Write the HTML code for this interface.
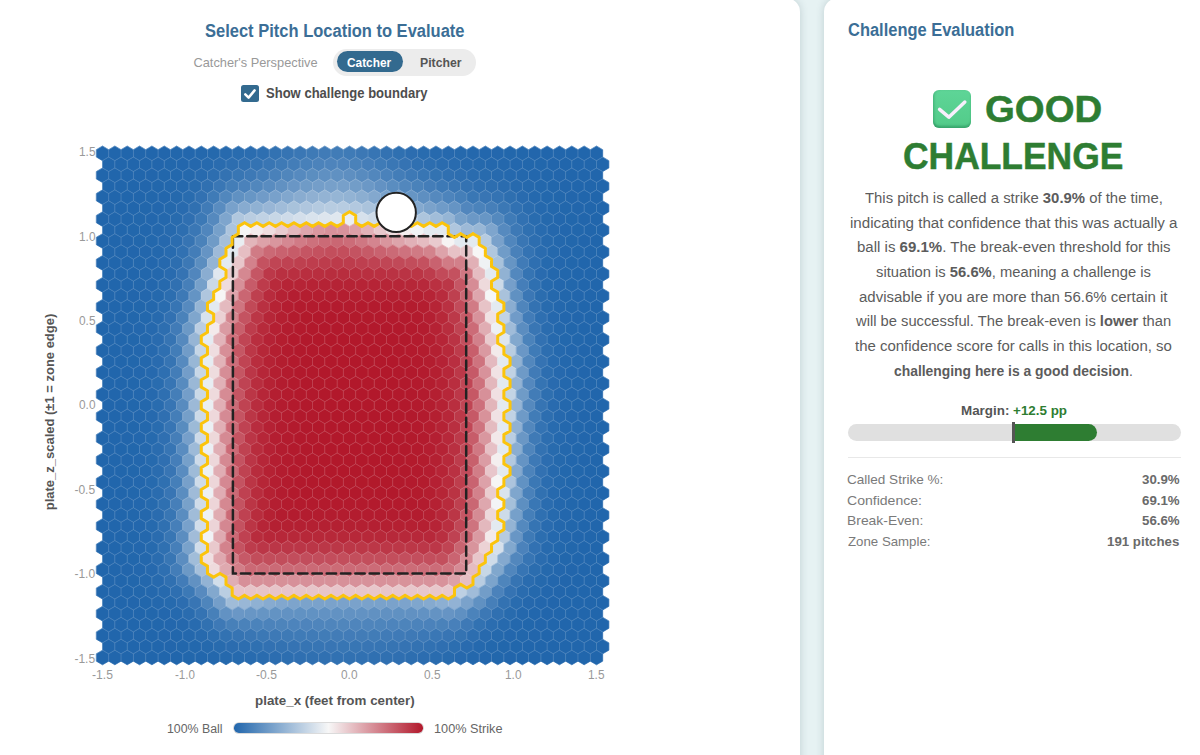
<!DOCTYPE html>
<html><head><meta charset="utf-8">
<style>
html,body{margin:0;padding:0;width:1200px;height:755px;overflow:hidden;background:#e6f2f3;font-family:"Liberation Sans",sans-serif;}
.card{position:absolute;background:#fff;border-radius:14px;box-shadow:0 0 8px rgba(40,70,80,0.2);}
.t{position:absolute;white-space:nowrap;line-height:1;transform-origin:0 0;}
.t b{font-weight:700}
#good,#chal{-webkit-text-stroke:0.5px #2e7d32}
</style></head><body>
<div class="card" style="left:-20px;top:-2.5px;width:820px;height:800px"></div>
<div class="card" style="left:824px;top:-2.5px;width:400px;height:800px"></div>
<svg width="800" height="755" style="position:absolute;left:0;top:0">
<defs><path id="h" d="M0,-7.307L6.175,-3.653L6.175,3.653L0,7.307L-6.175,3.653L-6.175,-3.653Z" fill="currentColor" stroke="currentColor" stroke-width="0.7"/><path id="g" d="M-6.175,3.653V-3.653L0,-7.307L6.175,-3.653" fill="none"/></defs>
<g><use href="#h" x="102.50" y="153.32" color="#2166ac"/><use href="#h" x="114.85" y="153.32" color="#2166ac"/><use href="#h" x="127.20" y="153.32" color="#2166ac"/><use href="#h" x="139.55" y="153.32" color="#2166ac"/><use href="#h" x="151.90" y="153.32" color="#2166ac"/><use href="#h" x="164.25" y="153.32" color="#2266ac"/><use href="#h" x="176.60" y="153.32" color="#2267ac"/><use href="#h" x="188.95" y="153.32" color="#2367ad"/><use href="#h" x="201.30" y="153.32" color="#2468ad"/><use href="#h" x="213.65" y="153.32" color="#2569ad"/><use href="#h" x="226.00" y="153.32" color="#276aae"/><use href="#h" x="238.35" y="153.32" color="#296caf"/><use href="#h" x="250.70" y="153.32" color="#2b6db0"/><use href="#h" x="263.05" y="153.32" color="#2e6fb1"/><use href="#h" x="275.40" y="153.32" color="#3272b2"/><use href="#h" x="287.75" y="153.32" color="#3674b3"/><use href="#h" x="300.10" y="153.32" color="#3a77b5"/><use href="#h" x="312.45" y="153.32" color="#3e7ab6"/><use href="#h" x="324.80" y="153.32" color="#407bb7"/><use href="#h" x="337.15" y="153.32" color="#417cb7"/><use href="#h" x="349.50" y="153.32" color="#3f7bb7"/><use href="#h" x="361.85" y="153.32" color="#3c78b5"/><use href="#h" x="374.20" y="153.32" color="#3775b4"/><use href="#h" x="386.55" y="153.32" color="#3372b2"/><use href="#h" x="398.90" y="153.32" color="#2f70b1"/><use href="#h" x="411.25" y="153.32" color="#2c6db0"/><use href="#h" x="423.60" y="153.32" color="#296caf"/><use href="#h" x="435.95" y="153.32" color="#276aae"/><use href="#h" x="448.30" y="153.32" color="#2669ae"/><use href="#h" x="460.65" y="153.32" color="#2569ad"/><use href="#h" x="473.00" y="153.32" color="#2468ad"/><use href="#h" x="485.35" y="153.32" color="#2367ad"/><use href="#h" x="497.70" y="153.32" color="#2367ad"/><use href="#h" x="510.05" y="153.32" color="#2267ac"/><use href="#h" x="522.40" y="153.32" color="#2267ac"/><use href="#h" x="534.75" y="153.32" color="#2266ac"/><use href="#h" x="547.10" y="153.32" color="#2166ac"/><use href="#h" x="559.45" y="153.32" color="#2166ac"/><use href="#h" x="571.80" y="153.32" color="#2166ac"/><use href="#h" x="584.15" y="153.32" color="#2166ac"/><use href="#h" x="596.50" y="153.32" color="#2166ac"/><use href="#h" x="108.67" y="164.28" color="#2166ac"/><use href="#h" x="121.02" y="164.28" color="#2166ac"/><use href="#h" x="133.38" y="164.28" color="#2166ac"/><use href="#h" x="145.73" y="164.28" color="#2166ac"/><use href="#h" x="158.08" y="164.28" color="#2266ac"/><use href="#h" x="170.43" y="164.28" color="#2267ac"/><use href="#h" x="182.78" y="164.28" color="#2367ad"/><use href="#h" x="195.12" y="164.28" color="#2568ad"/><use href="#h" x="207.48" y="164.28" color="#276aae"/><use href="#h" x="219.82" y="164.28" color="#2a6caf"/><use href="#h" x="232.18" y="164.28" color="#2d6eb0"/><use href="#h" x="244.53" y="164.28" color="#3070b1"/><use href="#h" x="256.88" y="164.28" color="#3473b3"/><use href="#h" x="269.22" y="164.28" color="#3976b4"/><use href="#h" x="281.57" y="164.28" color="#3e7ab6"/><use href="#h" x="293.93" y="164.28" color="#437db8"/><use href="#h" x="306.28" y="164.28" color="#4881ba"/><use href="#h" x="318.62" y="164.28" color="#4c83bb"/><use href="#h" x="330.97" y="164.28" color="#4e84bc"/><use href="#h" x="343.32" y="164.28" color="#4e84bc"/><use href="#h" x="355.68" y="164.28" color="#4a82ba"/><use href="#h" x="368.02" y="164.28" color="#457eb9"/><use href="#h" x="380.38" y="164.28" color="#3f7bb7"/><use href="#h" x="392.73" y="164.28" color="#3a77b5"/><use href="#h" x="405.07" y="164.28" color="#3573b3"/><use href="#h" x="417.43" y="164.28" color="#3070b1"/><use href="#h" x="429.77" y="164.28" color="#2d6eb0"/><use href="#h" x="442.12" y="164.28" color="#2a6caf"/><use href="#h" x="454.48" y="164.28" color="#286baf"/><use href="#h" x="466.82" y="164.28" color="#276aae"/><use href="#h" x="479.18" y="164.28" color="#2569ad"/><use href="#h" x="491.52" y="164.28" color="#2468ad"/><use href="#h" x="503.88" y="164.28" color="#2468ad"/><use href="#h" x="516.23" y="164.28" color="#2367ad"/><use href="#h" x="528.57" y="164.28" color="#2267ac"/><use href="#h" x="540.92" y="164.28" color="#2267ac"/><use href="#h" x="553.27" y="164.28" color="#2266ac"/><use href="#h" x="565.62" y="164.28" color="#2166ac"/><use href="#h" x="577.97" y="164.28" color="#2166ac"/><use href="#h" x="590.32" y="164.28" color="#2166ac"/><use href="#h" x="602.67" y="164.28" color="#2166ac"/><use href="#h" x="102.50" y="175.24" color="#2166ac"/><use href="#h" x="114.85" y="175.24" color="#2166ac"/><use href="#h" x="127.20" y="175.24" color="#2166ac"/><use href="#h" x="139.55" y="175.24" color="#2166ac"/><use href="#h" x="151.90" y="175.24" color="#2266ac"/><use href="#h" x="164.25" y="175.24" color="#2267ac"/><use href="#h" x="176.60" y="175.24" color="#2368ad"/><use href="#h" x="188.95" y="175.24" color="#2569ad"/><use href="#h" x="201.30" y="175.24" color="#286baf"/><use href="#h" x="213.65" y="175.24" color="#2d6eb0"/><use href="#h" x="226.00" y="175.24" color="#3372b2"/><use href="#h" x="238.35" y="175.24" color="#3876b4"/><use href="#h" x="250.70" y="175.24" color="#3d79b6"/><use href="#h" x="263.05" y="175.24" color="#437db8"/><use href="#h" x="275.40" y="175.24" color="#4981ba"/><use href="#h" x="287.75" y="175.24" color="#5086bc"/><use href="#h" x="300.10" y="175.24" color="#568abf"/><use href="#h" x="312.45" y="175.24" color="#5b8ec0"/><use href="#h" x="324.80" y="175.24" color="#5f90c2"/><use href="#h" x="337.15" y="175.24" color="#6091c2"/><use href="#h" x="349.50" y="175.24" color="#5e8fc1"/><use href="#h" x="361.85" y="175.24" color="#588bbf"/><use href="#h" x="374.20" y="175.24" color="#5287bd"/><use href="#h" x="386.55" y="175.24" color="#4a82bb"/><use href="#h" x="398.90" y="175.24" color="#437db8"/><use href="#h" x="411.25" y="175.24" color="#3d79b6"/><use href="#h" x="423.60" y="175.24" color="#3876b4"/><use href="#h" x="435.95" y="175.24" color="#3373b2"/><use href="#h" x="448.30" y="175.24" color="#3070b1"/><use href="#h" x="460.65" y="175.24" color="#2d6eb0"/><use href="#h" x="473.00" y="175.24" color="#2a6caf"/><use href="#h" x="485.35" y="175.24" color="#286bae"/><use href="#h" x="497.70" y="175.24" color="#276aae"/><use href="#h" x="510.05" y="175.24" color="#2569ae"/><use href="#h" x="522.40" y="175.24" color="#2468ad"/><use href="#h" x="534.75" y="175.24" color="#2367ad"/><use href="#h" x="547.10" y="175.24" color="#2267ac"/><use href="#h" x="559.45" y="175.24" color="#2266ac"/><use href="#h" x="571.80" y="175.24" color="#2166ac"/><use href="#h" x="584.15" y="175.24" color="#2166ac"/><use href="#h" x="596.50" y="175.24" color="#2166ac"/><use href="#h" x="108.67" y="186.20" color="#2166ac"/><use href="#h" x="121.02" y="186.20" color="#2166ac"/><use href="#h" x="133.38" y="186.20" color="#2166ac"/><use href="#h" x="145.73" y="186.20" color="#2266ac"/><use href="#h" x="158.08" y="186.20" color="#2267ac"/><use href="#h" x="170.43" y="186.20" color="#2368ad"/><use href="#h" x="182.78" y="186.20" color="#2569ae"/><use href="#h" x="195.12" y="186.20" color="#296caf"/><use href="#h" x="207.48" y="186.20" color="#3070b1"/><use href="#h" x="219.82" y="186.20" color="#3a77b5"/><use href="#h" x="232.18" y="186.20" color="#447eb8"/><use href="#h" x="244.53" y="186.20" color="#4b82bb"/><use href="#h" x="256.88" y="186.20" color="#5187bd"/><use href="#h" x="269.22" y="186.20" color="#598cc0"/><use href="#h" x="281.57" y="186.20" color="#6191c2"/><use href="#h" x="293.93" y="186.20" color="#6996c5"/><use href="#h" x="306.28" y="186.20" color="#6f9bc7"/><use href="#h" x="318.62" y="186.20" color="#749ec9"/><use href="#h" x="330.97" y="186.20" color="#77a0ca"/><use href="#h" x="343.32" y="186.20" color="#77a0ca"/><use href="#h" x="355.68" y="186.20" color="#729dc8"/><use href="#h" x="368.02" y="186.20" color="#6b98c6"/><use href="#h" x="380.38" y="186.20" color="#6392c3"/><use href="#h" x="392.73" y="186.20" color="#5a8dc0"/><use href="#h" x="405.07" y="186.20" color="#5287bd"/><use href="#h" x="417.43" y="186.20" color="#4a82ba"/><use href="#h" x="429.77" y="186.20" color="#447db8"/><use href="#h" x="442.12" y="186.20" color="#3d79b6"/><use href="#h" x="454.48" y="186.20" color="#3976b4"/><use href="#h" x="466.82" y="186.20" color="#3372b2"/><use href="#h" x="479.18" y="186.20" color="#2e6fb1"/><use href="#h" x="491.52" y="186.20" color="#2d6eb0"/><use href="#h" x="503.88" y="186.20" color="#2a6caf"/><use href="#h" x="516.23" y="186.20" color="#276aae"/><use href="#h" x="528.57" y="186.20" color="#2569ad"/><use href="#h" x="540.92" y="186.20" color="#2368ad"/><use href="#h" x="553.27" y="186.20" color="#2267ac"/><use href="#h" x="565.62" y="186.20" color="#2266ac"/><use href="#h" x="577.97" y="186.20" color="#2166ac"/><use href="#h" x="590.32" y="186.20" color="#2166ac"/><use href="#h" x="602.67" y="186.20" color="#2166ac"/><use href="#h" x="102.50" y="197.16" color="#2166ac"/><use href="#h" x="114.85" y="197.16" color="#2166ac"/><use href="#h" x="127.20" y="197.16" color="#2166ac"/><use href="#h" x="139.55" y="197.16" color="#2166ac"/><use href="#h" x="151.90" y="197.16" color="#2267ac"/><use href="#h" x="164.25" y="197.16" color="#2367ad"/><use href="#h" x="176.60" y="197.16" color="#2569ad"/><use href="#h" x="188.95" y="197.16" color="#296caf"/><use href="#h" x="201.30" y="197.16" color="#3271b2"/><use href="#h" x="213.65" y="197.16" color="#3f7bb7"/><use href="#h" x="226.00" y="197.16" color="#5187bd"/><use href="#h" x="238.35" y="197.16" color="#6091c2"/><use href="#h" x="250.70" y="197.16" color="#6796c5"/><use href="#h" x="263.05" y="197.16" color="#709bc8"/><use href="#h" x="275.40" y="197.16" color="#78a1cb"/><use href="#h" x="287.75" y="197.16" color="#81a7ce"/><use href="#h" x="300.10" y="197.16" color="#89acd0"/><use href="#h" x="312.45" y="197.16" color="#8fb0d2"/><use href="#h" x="324.80" y="197.16" color="#93b3d4"/><use href="#h" x="337.15" y="197.16" color="#95b5d5"/><use href="#h" x="349.50" y="197.16" color="#92b3d4"/><use href="#h" x="361.85" y="197.16" color="#8baed1"/><use href="#h" x="374.20" y="197.16" color="#83a8ce"/><use href="#h" x="386.55" y="197.16" color="#79a2cb"/><use href="#h" x="398.90" y="197.16" color="#709bc8"/><use href="#h" x="411.25" y="197.16" color="#6695c4"/><use href="#h" x="423.60" y="197.16" color="#5e8fc1"/><use href="#h" x="435.95" y="197.16" color="#5589be"/><use href="#h" x="448.30" y="197.16" color="#4d84bc"/><use href="#h" x="460.65" y="197.16" color="#457fb9"/><use href="#h" x="473.00" y="197.16" color="#3977b5"/><use href="#h" x="485.35" y="197.16" color="#3875b4"/><use href="#h" x="497.70" y="197.16" color="#3473b3"/><use href="#h" x="510.05" y="197.16" color="#2e6fb0"/><use href="#h" x="522.40" y="197.16" color="#296baf"/><use href="#h" x="534.75" y="197.16" color="#2569ae"/><use href="#h" x="547.10" y="197.16" color="#2368ad"/><use href="#h" x="559.45" y="197.16" color="#2267ac"/><use href="#h" x="571.80" y="197.16" color="#2266ac"/><use href="#h" x="584.15" y="197.16" color="#2166ac"/><use href="#h" x="596.50" y="197.16" color="#2166ac"/><use href="#h" x="108.67" y="208.12" color="#2166ac"/><use href="#h" x="121.02" y="208.12" color="#2166ac"/><use href="#h" x="133.38" y="208.12" color="#2166ac"/><use href="#h" x="145.73" y="208.12" color="#2267ac"/><use href="#h" x="158.08" y="208.12" color="#2367ad"/><use href="#h" x="170.43" y="208.12" color="#2569ad"/><use href="#h" x="182.78" y="208.12" color="#296baf"/><use href="#h" x="195.12" y="208.12" color="#3070b1"/><use href="#h" x="207.48" y="208.12" color="#407bb7"/><use href="#h" x="219.82" y="208.12" color="#598cc0"/><use href="#h" x="232.18" y="208.12" color="#78a1cb"/><use href="#h" x="244.53" y="208.12" color="#87abd0"/><use href="#h" x="256.88" y="208.12" color="#8fb1d3"/><use href="#h" x="269.22" y="208.12" color="#98b6d6"/><use href="#h" x="281.57" y="208.12" color="#a0bcd9"/><use href="#h" x="293.93" y="208.12" color="#a8c2db"/><use href="#h" x="306.28" y="208.12" color="#afc6de"/><use href="#h" x="318.62" y="208.12" color="#b4cae0"/><use href="#h" x="330.97" y="208.12" color="#b7cce1"/><use href="#h" x="343.32" y="208.12" color="#b7cce1"/><use href="#h" x="355.68" y="208.12" color="#b2c8df"/><use href="#h" x="368.02" y="208.12" color="#aac3dc"/><use href="#h" x="380.38" y="208.12" color="#a1bdd9"/><use href="#h" x="392.73" y="208.12" color="#98b6d6"/><use href="#h" x="405.07" y="208.12" color="#8eb0d2"/><use href="#h" x="417.43" y="208.12" color="#84a9cf"/><use href="#h" x="429.77" y="208.12" color="#7aa2cb"/><use href="#h" x="442.12" y="208.12" color="#6f9bc8"/><use href="#h" x="454.48" y="208.12" color="#6594c4"/><use href="#h" x="466.82" y="208.12" color="#5186bd"/><use href="#h" x="479.18" y="208.12" color="#4b83bb"/><use href="#h" x="491.52" y="208.12" color="#467fb9"/><use href="#h" x="503.88" y="208.12" color="#3b78b5"/><use href="#h" x="516.23" y="208.12" color="#3171b2"/><use href="#h" x="528.57" y="208.12" color="#2a6caf"/><use href="#h" x="540.92" y="208.12" color="#2569ae"/><use href="#h" x="553.27" y="208.12" color="#2368ad"/><use href="#h" x="565.62" y="208.12" color="#2267ac"/><use href="#h" x="577.97" y="208.12" color="#2266ac"/><use href="#h" x="590.32" y="208.12" color="#2166ac"/><use href="#h" x="602.67" y="208.12" color="#2166ac"/><use href="#h" x="102.50" y="219.08" color="#2166ac"/><use href="#h" x="114.85" y="219.08" color="#2166ac"/><use href="#h" x="127.20" y="219.08" color="#2166ac"/><use href="#h" x="139.55" y="219.08" color="#2267ac"/><use href="#h" x="151.90" y="219.08" color="#2367ad"/><use href="#h" x="164.25" y="219.08" color="#2468ad"/><use href="#h" x="176.60" y="219.08" color="#286bae"/><use href="#h" x="188.95" y="219.08" color="#2f6fb1"/><use href="#h" x="201.30" y="219.08" color="#3c79b6"/><use href="#h" x="213.65" y="219.08" color="#5589be"/><use href="#h" x="226.00" y="219.08" color="#7ea5cd"/><use href="#h" x="238.35" y="219.08" color="#b0c7de"/><use href="#h" x="250.70" y="219.08" color="#b9cde1"/><use href="#h" x="263.05" y="219.08" color="#c0d2e4"/><use href="#h" x="275.40" y="219.08" color="#c7d7e6"/><use href="#h" x="287.75" y="219.08" color="#cedbe9"/><use href="#h" x="300.10" y="219.08" color="#d4dfeb"/><use href="#h" x="312.45" y="219.08" color="#d9e3ed"/><use href="#h" x="324.80" y="219.08" color="#dde5ee"/><use href="#h" x="337.15" y="219.08" color="#dfe7ef"/><use href="#h" x="349.50" y="219.08" color="#eaeef2"/><use href="#h" x="361.85" y="219.08" color="#d6e1ec"/><use href="#h" x="374.20" y="219.08" color="#cfdce9"/><use href="#h" x="386.55" y="219.08" color="#c7d6e6"/><use href="#h" x="398.90" y="219.08" color="#bed0e3"/><use href="#h" x="411.25" y="219.08" color="#b5cae0"/><use href="#h" x="423.60" y="219.08" color="#adc5dd"/><use href="#h" x="435.95" y="219.08" color="#a1bdd9"/><use href="#h" x="448.30" y="219.08" color="#95b5d5"/><use href="#h" x="460.65" y="219.08" color="#78a1ca"/><use href="#h" x="473.00" y="219.08" color="#6b98c6"/><use href="#h" x="485.35" y="219.08" color="#6796c5"/><use href="#h" x="497.70" y="219.08" color="#5489be"/><use href="#h" x="510.05" y="219.08" color="#3f7bb7"/><use href="#h" x="522.40" y="219.08" color="#3171b2"/><use href="#h" x="534.75" y="219.08" color="#296caf"/><use href="#h" x="547.10" y="219.08" color="#2569ad"/><use href="#h" x="559.45" y="219.08" color="#2367ad"/><use href="#h" x="571.80" y="219.08" color="#2267ac"/><use href="#h" x="584.15" y="219.08" color="#2266ac"/><use href="#h" x="596.50" y="219.08" color="#2166ac"/><use href="#h" x="108.67" y="230.04" color="#2166ac"/><use href="#h" x="121.02" y="230.04" color="#2166ac"/><use href="#h" x="133.38" y="230.04" color="#2267ac"/><use href="#h" x="145.73" y="230.04" color="#2267ad"/><use href="#h" x="158.08" y="230.04" color="#2468ad"/><use href="#h" x="170.43" y="230.04" color="#276aae"/><use href="#h" x="182.78" y="230.04" color="#2d6eb0"/><use href="#h" x="195.12" y="230.04" color="#3a77b5"/><use href="#h" x="207.48" y="230.04" color="#5086bd"/><use href="#h" x="219.82" y="230.04" color="#76a0ca"/><use href="#h" x="232.18" y="230.04" color="#acc4dd"/><use href="#h" x="244.53" y="230.04" color="#f4f5f6"/><use href="#h" x="256.88" y="230.04" color="#f3ebec"/><use href="#h" x="269.22" y="230.04" color="#efdddf"/><use href="#h" x="281.57" y="230.04" color="#e9cbcf"/><use href="#h" x="293.93" y="230.04" color="#e3b8bd"/><use href="#h" x="306.28" y="230.04" color="#dea6ad"/><use href="#h" x="318.62" y="230.04" color="#da98a0"/><use href="#h" x="330.97" y="230.04" color="#d7919a"/><use href="#h" x="343.32" y="230.04" color="#d8929b"/><use href="#h" x="355.68" y="230.04" color="#dc9fa7"/><use href="#h" x="368.02" y="230.04" color="#e2b2b8"/><use href="#h" x="380.38" y="230.04" color="#e8c8cc"/><use href="#h" x="392.73" y="230.04" color="#efdddf"/><use href="#h" x="405.07" y="230.04" color="#f5eff0"/><use href="#h" x="417.43" y="230.04" color="#f1f3f5"/><use href="#h" x="429.77" y="230.04" color="#e3eaf0"/><use href="#h" x="442.12" y="230.04" color="#e3eaf0"/><use href="#h" x="454.48" y="230.04" color="#afc6de"/><use href="#h" x="466.82" y="230.04" color="#9cb9d7"/><use href="#h" x="479.18" y="230.04" color="#98b7d6"/><use href="#h" x="491.52" y="230.04" color="#7ea5cd"/><use href="#h" x="503.88" y="230.04" color="#568abf"/><use href="#h" x="516.23" y="230.04" color="#3d79b6"/><use href="#h" x="528.57" y="230.04" color="#2f70b1"/><use href="#h" x="540.92" y="230.04" color="#286baf"/><use href="#h" x="553.27" y="230.04" color="#2568ad"/><use href="#h" x="565.62" y="230.04" color="#2367ad"/><use href="#h" x="577.97" y="230.04" color="#2267ac"/><use href="#h" x="590.32" y="230.04" color="#2166ac"/><use href="#h" x="602.67" y="230.04" color="#2166ac"/><use href="#h" x="102.50" y="241.00" color="#2166ac"/><use href="#h" x="114.85" y="241.00" color="#2166ac"/><use href="#h" x="127.20" y="241.00" color="#2266ac"/><use href="#h" x="139.55" y="241.00" color="#2267ac"/><use href="#h" x="151.90" y="241.00" color="#2368ad"/><use href="#h" x="164.25" y="241.00" color="#2669ae"/><use href="#h" x="176.60" y="241.00" color="#2b6db0"/><use href="#h" x="188.95" y="241.00" color="#3674b3"/><use href="#h" x="201.30" y="241.00" color="#4a82ba"/><use href="#h" x="213.65" y="241.00" color="#6f9bc7"/><use href="#h" x="226.00" y="241.00" color="#a5bfda"/><use href="#h" x="238.35" y="241.00" color="#e9eef2"/><use href="#h" x="250.70" y="241.00" color="#e2b5ba"/><use href="#h" x="263.05" y="241.00" color="#dda2a9"/><use href="#h" x="275.40" y="241.00" color="#d9969e"/><use href="#h" x="287.75" y="241.00" color="#d58892"/><use href="#h" x="300.10" y="241.00" color="#d17b86"/><use href="#h" x="312.45" y="241.00" color="#cd717c"/><use href="#h" x="324.80" y="241.00" color="#cb6a76"/><use href="#h" x="337.15" y="241.00" color="#ca6773"/><use href="#h" x="349.50" y="241.00" color="#cc6c78"/><use href="#h" x="361.85" y="241.00" color="#cf7782"/><use href="#h" x="374.20" y="241.00" color="#d4858f"/><use href="#h" x="386.55" y="241.00" color="#d9959d"/><use href="#h" x="398.90" y="241.00" color="#dda4ab"/><use href="#h" x="411.25" y="241.00" color="#e1b1b7"/><use href="#h" x="423.60" y="241.00" color="#e5bcc1"/><use href="#h" x="435.95" y="241.00" color="#e9cace"/><use href="#h" x="448.30" y="241.00" color="#f6f4f4"/><use href="#h" x="460.65" y="241.00" color="#e3eaf0"/><use href="#h" x="473.00" y="241.00" color="#e3eaf0"/><use href="#h" x="485.35" y="241.00" color="#b6cbe0"/><use href="#h" x="497.70" y="241.00" color="#79a1cb"/><use href="#h" x="510.05" y="241.00" color="#5086bd"/><use href="#h" x="522.40" y="241.00" color="#3976b4"/><use href="#h" x="534.75" y="241.00" color="#2d6eb0"/><use href="#h" x="547.10" y="241.00" color="#276aae"/><use href="#h" x="559.45" y="241.00" color="#2468ad"/><use href="#h" x="571.80" y="241.00" color="#2267ac"/><use href="#h" x="584.15" y="241.00" color="#2266ac"/><use href="#h" x="596.50" y="241.00" color="#2166ac"/><use href="#h" x="108.67" y="251.96" color="#2166ac"/><use href="#h" x="121.02" y="251.96" color="#2166ac"/><use href="#h" x="133.38" y="251.96" color="#2266ac"/><use href="#h" x="145.73" y="251.96" color="#2367ad"/><use href="#h" x="158.08" y="251.96" color="#2468ad"/><use href="#h" x="170.43" y="251.96" color="#286baf"/><use href="#h" x="182.78" y="251.96" color="#3171b2"/><use href="#h" x="195.12" y="251.96" color="#437db8"/><use href="#h" x="207.48" y="251.96" color="#6594c4"/><use href="#h" x="219.82" y="251.96" color="#9ebad8"/><use href="#h" x="232.18" y="251.96" color="#e3eaf0"/><use href="#h" x="244.53" y="251.96" color="#e6bec3"/><use href="#h" x="256.88" y="251.96" color="#d07b85"/><use href="#h" x="269.22" y="251.96" color="#cb6975"/><use href="#h" x="281.57" y="251.96" color="#c9626f"/><use href="#h" x="293.93" y="251.96" color="#c75c69"/><use href="#h" x="306.28" y="251.96" color="#c55563"/><use href="#h" x="318.62" y="251.96" color="#c4515f"/><use href="#h" x="330.97" y="251.96" color="#c34e5c"/><use href="#h" x="343.32" y="251.96" color="#c34e5c"/><use href="#h" x="355.68" y="251.96" color="#c45361"/><use href="#h" x="368.02" y="251.96" color="#c65a67"/><use href="#h" x="380.38" y="251.96" color="#c9626f"/><use href="#h" x="392.73" y="251.96" color="#cb6a76"/><use href="#h" x="405.07" y="251.96" color="#ce727e"/><use href="#h" x="417.43" y="251.96" color="#d07a84"/><use href="#h" x="429.77" y="251.96" color="#d3838c"/><use href="#h" x="442.12" y="251.96" color="#dda3aa"/><use href="#h" x="454.48" y="251.96" color="#e7c2c6"/><use href="#h" x="466.82" y="251.96" color="#e7c5c9"/><use href="#h" x="479.18" y="251.96" color="#f7f6f6"/><use href="#h" x="491.52" y="251.96" color="#b0c7de"/><use href="#h" x="503.88" y="251.96" color="#709cc8"/><use href="#h" x="516.23" y="251.96" color="#4981ba"/><use href="#h" x="528.57" y="251.96" color="#3473b3"/><use href="#h" x="540.92" y="251.96" color="#2a6caf"/><use href="#h" x="553.27" y="251.96" color="#2569ad"/><use href="#h" x="565.62" y="251.96" color="#2367ad"/><use href="#h" x="577.97" y="251.96" color="#2267ac"/><use href="#h" x="590.32" y="251.96" color="#2166ac"/><use href="#h" x="602.67" y="251.96" color="#2166ac"/><use href="#h" x="102.50" y="262.92" color="#2166ac"/><use href="#h" x="114.85" y="262.92" color="#2166ac"/><use href="#h" x="127.20" y="262.92" color="#2166ac"/><use href="#h" x="139.55" y="262.92" color="#2267ac"/><use href="#h" x="151.90" y="262.92" color="#2367ad"/><use href="#h" x="164.25" y="262.92" color="#2669ae"/><use href="#h" x="176.60" y="262.92" color="#2d6eb0"/><use href="#h" x="188.95" y="262.92" color="#3c78b5"/><use href="#h" x="201.30" y="262.92" color="#5b8ec0"/><use href="#h" x="213.65" y="262.92" color="#94b4d4"/><use href="#h" x="226.00" y="262.92" color="#e3eaf0"/><use href="#h" x="238.35" y="262.92" color="#e8c7cb"/><use href="#h" x="250.70" y="262.92" color="#d3828c"/><use href="#h" x="263.05" y="262.92" color="#c45260"/><use href="#h" x="275.40" y="262.92" color="#c04554"/><use href="#h" x="287.75" y="262.92" color="#bf4252"/><use href="#h" x="300.10" y="262.92" color="#be404f"/><use href="#h" x="312.45" y="262.92" color="#be3d4d"/><use href="#h" x="324.80" y="262.92" color="#bd3c4c"/><use href="#h" x="337.15" y="262.92" color="#bd3b4b"/><use href="#h" x="349.50" y="262.92" color="#bd3c4c"/><use href="#h" x="361.85" y="262.92" color="#be3f4f"/><use href="#h" x="374.20" y="262.92" color="#bf4252"/><use href="#h" x="386.55" y="262.92" color="#c04655"/><use href="#h" x="398.90" y="262.92" color="#c14958"/><use href="#h" x="411.25" y="262.92" color="#c24d5b"/><use href="#h" x="423.60" y="262.92" color="#c4515f"/><use href="#h" x="435.95" y="262.92" color="#c9626f"/><use href="#h" x="448.30" y="262.92" color="#d17b85"/><use href="#h" x="460.65" y="262.92" color="#d2808a"/><use href="#h" x="473.00" y="262.92" color="#e1b0b6"/><use href="#h" x="485.35" y="262.92" color="#eff2f4"/><use href="#h" x="497.70" y="262.92" color="#a8c2db"/><use href="#h" x="510.05" y="262.92" color="#6695c4"/><use href="#h" x="522.40" y="262.92" color="#407bb7"/><use href="#h" x="534.75" y="262.92" color="#2e6fb1"/><use href="#h" x="547.10" y="262.92" color="#266aae"/><use href="#h" x="559.45" y="262.92" color="#2367ad"/><use href="#h" x="571.80" y="262.92" color="#2267ac"/><use href="#h" x="584.15" y="262.92" color="#2166ac"/><use href="#h" x="596.50" y="262.92" color="#2166ac"/><use href="#h" x="108.67" y="273.88" color="#2166ac"/><use href="#h" x="121.02" y="273.88" color="#2166ac"/><use href="#h" x="133.38" y="273.88" color="#2166ac"/><use href="#h" x="145.73" y="273.88" color="#2267ac"/><use href="#h" x="158.08" y="273.88" color="#2468ad"/><use href="#h" x="170.43" y="273.88" color="#296baf"/><use href="#h" x="182.78" y="273.88" color="#3573b3"/><use href="#h" x="195.12" y="273.88" color="#5186bd"/><use href="#h" x="207.48" y="273.88" color="#8aadd1"/><use href="#h" x="219.82" y="273.88" color="#e0e7ef"/><use href="#h" x="232.18" y="273.88" color="#ebcfd2"/><use href="#h" x="244.53" y="273.88" color="#d58891"/><use href="#h" x="256.88" y="273.88" color="#c55664"/><use href="#h" x="269.22" y="273.88" color="#bc3849"/><use href="#h" x="281.57" y="273.88" color="#b93041"/><use href="#h" x="293.93" y="273.88" color="#b92f40"/><use href="#h" x="306.28" y="273.88" color="#b92e3f"/><use href="#h" x="318.62" y="273.88" color="#b92e3f"/><use href="#h" x="330.97" y="273.88" color="#b82d3e"/><use href="#h" x="343.32" y="273.88" color="#b82d3e"/><use href="#h" x="355.68" y="273.88" color="#b92e3f"/><use href="#h" x="368.02" y="273.88" color="#b92f40"/><use href="#h" x="380.38" y="273.88" color="#ba3041"/><use href="#h" x="392.73" y="273.88" color="#ba3243"/><use href="#h" x="405.07" y="273.88" color="#ba3344"/><use href="#h" x="417.43" y="273.88" color="#bb3545"/><use href="#h" x="429.77" y="273.88" color="#bd3c4c"/><use href="#h" x="442.12" y="273.88" color="#c24a59"/><use href="#h" x="454.48" y="273.88" color="#c4515f"/><use href="#h" x="466.82" y="273.88" color="#d07782"/><use href="#h" x="479.18" y="273.88" color="#e5bcc1"/><use href="#h" x="491.52" y="273.88" color="#e3eaf0"/><use href="#h" x="503.88" y="273.88" color="#91b2d3"/><use href="#h" x="516.23" y="273.88" color="#5388be"/><use href="#h" x="528.57" y="273.88" color="#3574b3"/><use href="#h" x="540.92" y="273.88" color="#296baf"/><use href="#h" x="553.27" y="273.88" color="#2468ad"/><use href="#h" x="565.62" y="273.88" color="#2267ac"/><use href="#h" x="577.97" y="273.88" color="#2166ac"/><use href="#h" x="590.32" y="273.88" color="#2166ac"/><use href="#h" x="602.67" y="273.88" color="#2166ac"/><use href="#h" x="102.50" y="284.84" color="#2166ac"/><use href="#h" x="114.85" y="284.84" color="#2166ac"/><use href="#h" x="127.20" y="284.84" color="#2166ac"/><use href="#h" x="139.55" y="284.84" color="#2267ac"/><use href="#h" x="151.90" y="284.84" color="#2367ad"/><use href="#h" x="164.25" y="284.84" color="#276aae"/><use href="#h" x="176.60" y="284.84" color="#3070b1"/><use href="#h" x="188.95" y="284.84" color="#467fb9"/><use href="#h" x="201.30" y="284.84" color="#76a0ca"/><use href="#h" x="213.65" y="284.84" color="#cbd9e7"/><use href="#h" x="226.00" y="284.84" color="#efdcde"/><use href="#h" x="238.35" y="284.84" color="#d79099"/><use href="#h" x="250.70" y="284.84" color="#c75b69"/><use href="#h" x="263.05" y="284.84" color="#bd3b4b"/><use href="#h" x="275.40" y="284.84" color="#b82a3b"/><use href="#h" x="287.75" y="284.84" color="#b62436"/><use href="#h" x="300.10" y="284.84" color="#b62436"/><use href="#h" x="312.45" y="284.84" color="#b62335"/><use href="#h" x="324.80" y="284.84" color="#b52335"/><use href="#h" x="337.15" y="284.84" color="#b52335"/><use href="#h" x="349.50" y="284.84" color="#b52335"/><use href="#h" x="361.85" y="284.84" color="#b62436"/><use href="#h" x="374.20" y="284.84" color="#b62436"/><use href="#h" x="386.55" y="284.84" color="#b62537"/><use href="#h" x="398.90" y="284.84" color="#b62638"/><use href="#h" x="411.25" y="284.84" color="#b62738"/><use href="#h" x="423.60" y="284.84" color="#b7293b"/><use href="#h" x="435.95" y="284.84" color="#ba3041"/><use href="#h" x="448.30" y="284.84" color="#bb3747"/><use href="#h" x="460.65" y="284.84" color="#c55664"/><use href="#h" x="473.00" y="284.84" color="#d68c95"/><use href="#h" x="485.35" y="284.84" color="#eedadc"/><use href="#h" x="497.70" y="284.84" color="#ccdae8"/><use href="#h" x="510.05" y="284.84" color="#769fca"/><use href="#h" x="522.40" y="284.84" color="#457eb9"/><use href="#h" x="534.75" y="284.84" color="#2f70b1"/><use href="#h" x="547.10" y="284.84" color="#266aae"/><use href="#h" x="559.45" y="284.84" color="#2367ad"/><use href="#h" x="571.80" y="284.84" color="#2267ac"/><use href="#h" x="584.15" y="284.84" color="#2166ac"/><use href="#h" x="596.50" y="284.84" color="#2166ac"/><use href="#h" x="108.67" y="295.80" color="#2166ac"/><use href="#h" x="121.02" y="295.80" color="#2166ac"/><use href="#h" x="133.38" y="295.80" color="#2266ac"/><use href="#h" x="145.73" y="295.80" color="#2367ad"/><use href="#h" x="158.08" y="295.80" color="#2569ad"/><use href="#h" x="170.43" y="295.80" color="#2c6eb0"/><use href="#h" x="182.78" y="295.80" color="#3d79b6"/><use href="#h" x="195.12" y="295.80" color="#6494c4"/><use href="#h" x="207.48" y="295.80" color="#afc6de"/><use href="#h" x="219.82" y="295.80" color="#f6f5f5"/><use href="#h" x="232.18" y="295.80" color="#dda3ab"/><use href="#h" x="244.53" y="295.80" color="#ca6672"/><use href="#h" x="256.88" y="295.80" color="#be404f"/><use href="#h" x="269.22" y="295.80" color="#b82b3d"/><use href="#h" x="281.57" y="295.80" color="#b52234"/><use href="#h" x="293.93" y="295.80" color="#b41e31"/><use href="#h" x="306.28" y="295.80" color="#b41e30"/><use href="#h" x="318.62" y="295.80" color="#b41e30"/><use href="#h" x="330.97" y="295.80" color="#b41e30"/><use href="#h" x="343.32" y="295.80" color="#b41e30"/><use href="#h" x="355.68" y="295.80" color="#b41e30"/><use href="#h" x="368.02" y="295.80" color="#b41e31"/><use href="#h" x="380.38" y="295.80" color="#b41f31"/><use href="#h" x="392.73" y="295.80" color="#b41f31"/><use href="#h" x="405.07" y="295.80" color="#b41f32"/><use href="#h" x="417.43" y="295.80" color="#b42032"/><use href="#h" x="429.77" y="295.80" color="#b62436"/><use href="#h" x="442.12" y="295.80" color="#b82b3d"/><use href="#h" x="454.48" y="295.80" color="#be404f"/><use href="#h" x="466.82" y="295.80" color="#ca6773"/><use href="#h" x="479.18" y="295.80" color="#dea6ad"/><use href="#h" x="491.52" y="295.80" color="#f5f6f6"/><use href="#h" x="503.88" y="295.80" color="#a9c2db"/><use href="#h" x="516.23" y="295.80" color="#6091c2"/><use href="#h" x="528.57" y="295.80" color="#3b77b5"/><use href="#h" x="540.92" y="295.80" color="#2b6daf"/><use href="#h" x="553.27" y="295.80" color="#2569ad"/><use href="#h" x="565.62" y="295.80" color="#2267ac"/><use href="#h" x="577.97" y="295.80" color="#2266ac"/><use href="#h" x="590.32" y="295.80" color="#2166ac"/><use href="#h" x="602.67" y="295.80" color="#2166ac"/><use href="#h" x="102.50" y="306.76" color="#2166ac"/><use href="#h" x="114.85" y="306.76" color="#2166ac"/><use href="#h" x="127.20" y="306.76" color="#2166ac"/><use href="#h" x="139.55" y="306.76" color="#2267ac"/><use href="#h" x="151.90" y="306.76" color="#2468ad"/><use href="#h" x="164.25" y="306.76" color="#296caf"/><use href="#h" x="176.60" y="306.76" color="#3775b4"/><use href="#h" x="188.95" y="306.76" color="#568abf"/><use href="#h" x="201.30" y="306.76" color="#95b5d5"/><use href="#h" x="213.65" y="306.76" color="#e3eaf0"/><use href="#h" x="226.00" y="306.76" color="#e4babf"/><use href="#h" x="238.35" y="306.76" color="#cf7580"/><use href="#h" x="250.70" y="306.76" color="#c14957"/><use href="#h" x="263.05" y="306.76" color="#b93041"/><use href="#h" x="275.40" y="306.76" color="#b62335"/><use href="#h" x="287.75" y="306.76" color="#b41d30"/><use href="#h" x="300.10" y="306.76" color="#b31b2e"/><use href="#h" x="312.45" y="306.76" color="#b31b2e"/><use href="#h" x="324.80" y="306.76" color="#b31b2e"/><use href="#h" x="337.15" y="306.76" color="#b31b2e"/><use href="#h" x="349.50" y="306.76" color="#b31b2e"/><use href="#h" x="361.85" y="306.76" color="#b31b2e"/><use href="#h" x="374.20" y="306.76" color="#b31b2e"/><use href="#h" x="386.55" y="306.76" color="#b31b2e"/><use href="#h" x="398.90" y="306.76" color="#b31c2e"/><use href="#h" x="411.25" y="306.76" color="#b31c2e"/><use href="#h" x="423.60" y="306.76" color="#b41e30"/><use href="#h" x="435.95" y="306.76" color="#b62436"/><use href="#h" x="448.30" y="306.76" color="#ba3142"/><use href="#h" x="460.65" y="306.76" color="#c24b5a"/><use href="#h" x="473.00" y="306.76" color="#d17b85"/><use href="#h" x="485.35" y="306.76" color="#e7c3c7"/><use href="#h" x="497.70" y="306.76" color="#e3eaf0"/><use href="#h" x="510.05" y="306.76" color="#8aadd1"/><use href="#h" x="522.40" y="306.76" color="#4f85bc"/><use href="#h" x="534.75" y="306.76" color="#3372b2"/><use href="#h" x="547.10" y="306.76" color="#286bae"/><use href="#h" x="559.45" y="306.76" color="#2468ad"/><use href="#h" x="571.80" y="306.76" color="#2267ac"/><use href="#h" x="584.15" y="306.76" color="#2166ac"/><use href="#h" x="596.50" y="306.76" color="#2166ac"/><use href="#h" x="108.67" y="317.72" color="#2166ac"/><use href="#h" x="121.02" y="317.72" color="#2166ac"/><use href="#h" x="133.38" y="317.72" color="#2267ac"/><use href="#h" x="145.73" y="317.72" color="#2368ad"/><use href="#h" x="158.08" y="317.72" color="#276aae"/><use href="#h" x="170.43" y="317.72" color="#3271b2"/><use href="#h" x="182.78" y="317.72" color="#4a82ba"/><use href="#h" x="195.12" y="317.72" color="#7fa6cd"/><use href="#h" x="207.48" y="317.72" color="#d7e2ec"/><use href="#h" x="219.82" y="317.72" color="#ebd1d4"/><use href="#h" x="232.18" y="317.72" color="#d48790"/><use href="#h" x="244.53" y="317.72" color="#c45361"/><use href="#h" x="256.88" y="317.72" color="#bb3646"/><use href="#h" x="269.22" y="317.72" color="#b62638"/><use href="#h" x="281.57" y="317.72" color="#b41f31"/><use href="#h" x="293.93" y="317.72" color="#b31b2e"/><use href="#h" x="306.28" y="317.72" color="#b21a2c"/><use href="#h" x="318.62" y="317.72" color="#b2192c"/><use href="#h" x="330.97" y="317.72" color="#b2192c"/><use href="#h" x="343.32" y="317.72" color="#b2192c"/><use href="#h" x="355.68" y="317.72" color="#b21a2c"/><use href="#h" x="368.02" y="317.72" color="#b21a2c"/><use href="#h" x="380.38" y="317.72" color="#b31a2d"/><use href="#h" x="392.73" y="317.72" color="#b31a2d"/><use href="#h" x="405.07" y="317.72" color="#b31a2d"/><use href="#h" x="417.43" y="317.72" color="#b31b2e"/><use href="#h" x="429.77" y="317.72" color="#b41f32"/><use href="#h" x="442.12" y="317.72" color="#b72839"/><use href="#h" x="454.48" y="317.72" color="#bc3949"/><use href="#h" x="466.82" y="317.72" color="#c65a67"/><use href="#h" x="479.18" y="317.72" color="#d8929b"/><use href="#h" x="491.52" y="317.72" color="#f0e2e3"/><use href="#h" x="503.88" y="317.72" color="#c2d3e5"/><use href="#h" x="516.23" y="317.72" color="#709bc8"/><use href="#h" x="528.57" y="317.72" color="#427cb8"/><use href="#h" x="540.92" y="317.72" color="#2e6fb1"/><use href="#h" x="553.27" y="317.72" color="#2669ae"/><use href="#h" x="565.62" y="317.72" color="#2367ad"/><use href="#h" x="577.97" y="317.72" color="#2266ac"/><use href="#h" x="590.32" y="317.72" color="#2166ac"/><use href="#h" x="602.67" y="317.72" color="#2166ac"/><use href="#h" x="102.50" y="328.68" color="#2166ac"/><use href="#h" x="114.85" y="328.68" color="#2166ac"/><use href="#h" x="127.20" y="328.68" color="#2266ac"/><use href="#h" x="139.55" y="328.68" color="#2367ad"/><use href="#h" x="151.90" y="328.68" color="#2669ae"/><use href="#h" x="164.25" y="328.68" color="#2d6eb0"/><use href="#h" x="176.60" y="328.68" color="#417bb7"/><use href="#h" x="188.95" y="328.68" color="#6c99c6"/><use href="#h" x="201.30" y="328.68" color="#bbcee2"/><use href="#h" x="213.65" y="328.68" color="#f3eaeb"/><use href="#h" x="226.00" y="328.68" color="#da9aa2"/><use href="#h" x="238.35" y="328.68" color="#c8606c"/><use href="#h" x="250.70" y="328.68" color="#bd3c4c"/><use href="#h" x="263.05" y="328.68" color="#b72a3b"/><use href="#h" x="275.40" y="328.68" color="#b52033"/><use href="#h" x="287.75" y="328.68" color="#b31c2f"/><use href="#h" x="300.10" y="328.68" color="#b31a2d"/><use href="#h" x="312.45" y="328.68" color="#b2192c"/><use href="#h" x="324.80" y="328.68" color="#b2192c"/><use href="#h" x="337.15" y="328.68" color="#b2192c"/><use href="#h" x="349.50" y="328.68" color="#b2192c"/><use href="#h" x="361.85" y="328.68" color="#b2192c"/><use href="#h" x="374.20" y="328.68" color="#b2192c"/><use href="#h" x="386.55" y="328.68" color="#b2192c"/><use href="#h" x="398.90" y="328.68" color="#b2192c"/><use href="#h" x="411.25" y="328.68" color="#b31a2d"/><use href="#h" x="423.60" y="328.68" color="#b31c2f"/><use href="#h" x="435.95" y="328.68" color="#b52234"/><use href="#h" x="448.30" y="328.68" color="#b82d3e"/><use href="#h" x="460.65" y="328.68" color="#bf4352"/><use href="#h" x="473.00" y="328.68" color="#cc6b77"/><use href="#h" x="485.35" y="328.68" color="#e0adb3"/><use href="#h" x="497.70" y="328.68" color="#edf0f4"/><use href="#h" x="510.05" y="328.68" color="#a0bcd9"/><use href="#h" x="522.40" y="328.68" color="#5b8dc0"/><use href="#h" x="534.75" y="328.68" color="#3976b4"/><use href="#h" x="547.10" y="328.68" color="#2a6caf"/><use href="#h" x="559.45" y="328.68" color="#2468ad"/><use href="#h" x="571.80" y="328.68" color="#2267ac"/><use href="#h" x="584.15" y="328.68" color="#2166ac"/><use href="#h" x="596.50" y="328.68" color="#2166ac"/><use href="#h" x="108.67" y="339.64" color="#2166ac"/><use href="#h" x="121.02" y="339.64" color="#2166ac"/><use href="#h" x="133.38" y="339.64" color="#2267ac"/><use href="#h" x="145.73" y="339.64" color="#2468ad"/><use href="#h" x="158.08" y="339.64" color="#296baf"/><use href="#h" x="170.43" y="339.64" color="#3674b3"/><use href="#h" x="182.78" y="339.64" color="#5589be"/><use href="#h" x="195.12" y="339.64" color="#96b5d5"/><use href="#h" x="207.48" y="339.64" color="#e5ebf1"/><use href="#h" x="219.82" y="339.64" color="#e2b4ba"/><use href="#h" x="232.18" y="339.64" color="#cd707b"/><use href="#h" x="244.53" y="339.64" color="#c04554"/><use href="#h" x="256.88" y="339.64" color="#b92e3f"/><use href="#h" x="269.22" y="339.64" color="#b52235"/><use href="#h" x="281.57" y="339.64" color="#b41d2f"/><use href="#h" x="293.93" y="339.64" color="#b31a2d"/><use href="#h" x="306.28" y="339.64" color="#b2192c"/><use href="#h" x="318.62" y="339.64" color="#b2182b"/><use href="#h" x="330.97" y="339.64" color="#b2182b"/><use href="#h" x="343.32" y="339.64" color="#b2182b"/><use href="#h" x="355.68" y="339.64" color="#b2182b"/><use href="#h" x="368.02" y="339.64" color="#b2182b"/><use href="#h" x="380.38" y="339.64" color="#b2182b"/><use href="#h" x="392.73" y="339.64" color="#b2192c"/><use href="#h" x="405.07" y="339.64" color="#b2192c"/><use href="#h" x="417.43" y="339.64" color="#b31b2e"/><use href="#h" x="429.77" y="339.64" color="#b41e30"/><use href="#h" x="442.12" y="339.64" color="#b62537"/><use href="#h" x="454.48" y="339.64" color="#ba3344"/><use href="#h" x="466.82" y="339.64" color="#c34f5d"/><use href="#h" x="479.18" y="339.64" color="#d2808b"/><use href="#h" x="491.52" y="339.64" color="#e9cbce"/><use href="#h" x="503.88" y="339.64" color="#dee6ee"/><use href="#h" x="516.23" y="339.64" color="#82a8ce"/><use href="#h" x="528.57" y="339.64" color="#4b83bb"/><use href="#h" x="540.92" y="339.64" color="#3271b2"/><use href="#h" x="553.27" y="339.64" color="#276aae"/><use href="#h" x="565.62" y="339.64" color="#2368ad"/><use href="#h" x="577.97" y="339.64" color="#2267ac"/><use href="#h" x="590.32" y="339.64" color="#2166ac"/><use href="#h" x="602.67" y="339.64" color="#2166ac"/><use href="#h" x="102.50" y="350.60" color="#2166ac"/><use href="#h" x="114.85" y="350.60" color="#2166ac"/><use href="#h" x="127.20" y="350.60" color="#2266ac"/><use href="#h" x="139.55" y="350.60" color="#2367ad"/><use href="#h" x="151.90" y="350.60" color="#2669ae"/><use href="#h" x="164.25" y="350.60" color="#2e6fb1"/><use href="#h" x="176.60" y="350.60" color="#427db8"/><use href="#h" x="188.95" y="350.60" color="#719cc8"/><use href="#h" x="201.30" y="350.60" color="#c6d6e6"/><use href="#h" x="213.65" y="350.60" color="#efdde0"/><use href="#h" x="226.00" y="350.60" color="#d78e97"/><use href="#h" x="238.35" y="350.60" color="#c55764"/><use href="#h" x="250.70" y="350.60" color="#bc3747"/><use href="#h" x="263.05" y="350.60" color="#b62738"/><use href="#h" x="275.40" y="350.60" color="#b41f31"/><use href="#h" x="287.75" y="350.60" color="#b31b2e"/><use href="#h" x="300.10" y="350.60" color="#b2192c"/><use href="#h" x="312.45" y="350.60" color="#b2192c"/><use href="#h" x="324.80" y="350.60" color="#b2182b"/><use href="#h" x="337.15" y="350.60" color="#b2182b"/><use href="#h" x="349.50" y="350.60" color="#b2182b"/><use href="#h" x="361.85" y="350.60" color="#b2182b"/><use href="#h" x="374.20" y="350.60" color="#b2182b"/><use href="#h" x="386.55" y="350.60" color="#b2182b"/><use href="#h" x="398.90" y="350.60" color="#b2192c"/><use href="#h" x="411.25" y="350.60" color="#b31a2d"/><use href="#h" x="423.60" y="350.60" color="#b31c2e"/><use href="#h" x="435.95" y="350.60" color="#b42032"/><use href="#h" x="448.30" y="350.60" color="#b7293a"/><use href="#h" x="460.65" y="350.60" color="#bd3b4b"/><use href="#h" x="473.00" y="350.60" color="#c85e6b"/><use href="#h" x="485.35" y="350.60" color="#da99a1"/><use href="#h" x="497.70" y="350.60" color="#f3eaeb"/><use href="#h" x="510.05" y="350.60" color="#b9cde1"/><use href="#h" x="522.40" y="350.60" color="#6a97c6"/><use href="#h" x="534.75" y="350.60" color="#3f7bb7"/><use href="#h" x="547.10" y="350.60" color="#2d6eb0"/><use href="#h" x="559.45" y="350.60" color="#2569ae"/><use href="#h" x="571.80" y="350.60" color="#2367ad"/><use href="#h" x="584.15" y="350.60" color="#2266ac"/><use href="#h" x="596.50" y="350.60" color="#2166ac"/><use href="#h" x="108.67" y="361.56" color="#2166ac"/><use href="#h" x="121.02" y="361.56" color="#2166ac"/><use href="#h" x="133.38" y="361.56" color="#2267ac"/><use href="#h" x="145.73" y="361.56" color="#2468ad"/><use href="#h" x="158.08" y="361.56" color="#296baf"/><use href="#h" x="170.43" y="361.56" color="#3674b3"/><use href="#h" x="182.78" y="361.56" color="#568abf"/><use href="#h" x="195.12" y="361.56" color="#98b7d6"/><use href="#h" x="207.48" y="361.56" color="#e6ecf1"/><use href="#h" x="219.82" y="361.56" color="#e2b3b8"/><use href="#h" x="232.18" y="361.56" color="#cd6e7a"/><use href="#h" x="244.53" y="361.56" color="#c04453"/><use href="#h" x="256.88" y="361.56" color="#b92d3e"/><use href="#h" x="269.22" y="361.56" color="#b52234"/><use href="#h" x="281.57" y="361.56" color="#b31d2f"/><use href="#h" x="293.93" y="361.56" color="#b31a2d"/><use href="#h" x="306.28" y="361.56" color="#b2192c"/><use href="#h" x="318.62" y="361.56" color="#b2182b"/><use href="#h" x="330.97" y="361.56" color="#b2182b"/><use href="#h" x="343.32" y="361.56" color="#b2182b"/><use href="#h" x="355.68" y="361.56" color="#b2182b"/><use href="#h" x="368.02" y="361.56" color="#b2182b"/><use href="#h" x="380.38" y="361.56" color="#b2182b"/><use href="#h" x="392.73" y="361.56" color="#b2182b"/><use href="#h" x="405.07" y="361.56" color="#b2192c"/><use href="#h" x="417.43" y="361.56" color="#b31a2d"/><use href="#h" x="429.77" y="361.56" color="#b31d2f"/><use href="#h" x="442.12" y="361.56" color="#b52235"/><use href="#h" x="454.48" y="361.56" color="#b92e40"/><use href="#h" x="466.82" y="361.56" color="#c04756"/><use href="#h" x="479.18" y="361.56" color="#ce737e"/><use href="#h" x="491.52" y="361.56" color="#e4b9bf"/><use href="#h" x="503.88" y="361.56" color="#e3eaf0"/><use href="#h" x="516.23" y="361.56" color="#91b2d3"/><use href="#h" x="528.57" y="361.56" color="#5287bd"/><use href="#h" x="540.92" y="361.56" color="#3573b3"/><use href="#h" x="553.27" y="361.56" color="#286baf"/><use href="#h" x="565.62" y="361.56" color="#2468ad"/><use href="#h" x="577.97" y="361.56" color="#2267ac"/><use href="#h" x="590.32" y="361.56" color="#2166ac"/><use href="#h" x="602.67" y="361.56" color="#2166ac"/><use href="#h" x="102.50" y="372.52" color="#2166ac"/><use href="#h" x="114.85" y="372.52" color="#2166ac"/><use href="#h" x="127.20" y="372.52" color="#2266ac"/><use href="#h" x="139.55" y="372.52" color="#2367ad"/><use href="#h" x="151.90" y="372.52" color="#2669ae"/><use href="#h" x="164.25" y="372.52" color="#2e6fb1"/><use href="#h" x="176.60" y="372.52" color="#437db8"/><use href="#h" x="188.95" y="372.52" color="#739dc9"/><use href="#h" x="201.30" y="372.52" color="#c8d7e7"/><use href="#h" x="213.65" y="372.52" color="#eedcde"/><use href="#h" x="226.00" y="372.52" color="#d68d96"/><use href="#h" x="238.35" y="372.52" color="#c55663"/><use href="#h" x="250.70" y="372.52" color="#bb3647"/><use href="#h" x="263.05" y="372.52" color="#b62638"/><use href="#h" x="275.40" y="372.52" color="#b41f31"/><use href="#h" x="287.75" y="372.52" color="#b31b2e"/><use href="#h" x="300.10" y="372.52" color="#b2192c"/><use href="#h" x="312.45" y="372.52" color="#b2192c"/><use href="#h" x="324.80" y="372.52" color="#b2182b"/><use href="#h" x="337.15" y="372.52" color="#b2182b"/><use href="#h" x="349.50" y="372.52" color="#b2182b"/><use href="#h" x="361.85" y="372.52" color="#b2182b"/><use href="#h" x="374.20" y="372.52" color="#b2182b"/><use href="#h" x="386.55" y="372.52" color="#b2182b"/><use href="#h" x="398.90" y="372.52" color="#b2192c"/><use href="#h" x="411.25" y="372.52" color="#b2192c"/><use href="#h" x="423.60" y="372.52" color="#b31b2e"/><use href="#h" x="435.95" y="372.52" color="#b41f31"/><use href="#h" x="448.30" y="372.52" color="#b72739"/><use href="#h" x="460.65" y="372.52" color="#bc3848"/><use href="#h" x="473.00" y="372.52" color="#c65967"/><use href="#h" x="485.35" y="372.52" color="#d8929b"/><use href="#h" x="497.70" y="372.52" color="#f1e2e4"/><use href="#h" x="510.05" y="372.52" color="#c0d2e4"/><use href="#h" x="522.40" y="372.52" color="#6e9ac7"/><use href="#h" x="534.75" y="372.52" color="#417bb7"/><use href="#h" x="547.10" y="372.52" color="#2d6eb0"/><use href="#h" x="559.45" y="372.52" color="#2669ae"/><use href="#h" x="571.80" y="372.52" color="#2367ad"/><use href="#h" x="584.15" y="372.52" color="#2266ac"/><use href="#h" x="596.50" y="372.52" color="#2166ac"/><use href="#h" x="108.67" y="383.48" color="#2166ac"/><use href="#h" x="121.02" y="383.48" color="#2166ac"/><use href="#h" x="133.38" y="383.48" color="#2267ac"/><use href="#h" x="145.73" y="383.48" color="#2468ad"/><use href="#h" x="158.08" y="383.48" color="#296caf"/><use href="#h" x="170.43" y="383.48" color="#3775b4"/><use href="#h" x="182.78" y="383.48" color="#578bbf"/><use href="#h" x="195.12" y="383.48" color="#9ab8d6"/><use href="#h" x="207.48" y="383.48" color="#e8edf2"/><use href="#h" x="219.82" y="383.48" color="#e1b1b7"/><use href="#h" x="232.18" y="383.48" color="#cc6d79"/><use href="#h" x="244.53" y="383.48" color="#bf4353"/><use href="#h" x="256.88" y="383.48" color="#b82d3e"/><use href="#h" x="269.22" y="383.48" color="#b52234"/><use href="#h" x="281.57" y="383.48" color="#b31c2f"/><use href="#h" x="293.93" y="383.48" color="#b31a2d"/><use href="#h" x="306.28" y="383.48" color="#b2192c"/><use href="#h" x="318.62" y="383.48" color="#b2182b"/><use href="#h" x="330.97" y="383.48" color="#b2182b"/><use href="#h" x="343.32" y="383.48" color="#b2182b"/><use href="#h" x="355.68" y="383.48" color="#b2182b"/><use href="#h" x="368.02" y="383.48" color="#b2182b"/><use href="#h" x="380.38" y="383.48" color="#b2182b"/><use href="#h" x="392.73" y="383.48" color="#b2182b"/><use href="#h" x="405.07" y="383.48" color="#b2192c"/><use href="#h" x="417.43" y="383.48" color="#b31a2d"/><use href="#h" x="429.77" y="383.48" color="#b31d2f"/><use href="#h" x="442.12" y="383.48" color="#b52234"/><use href="#h" x="454.48" y="383.48" color="#b92e3f"/><use href="#h" x="466.82" y="383.48" color="#c04655"/><use href="#h" x="479.18" y="383.48" color="#ce727d"/><use href="#h" x="491.52" y="383.48" color="#e3b7bc"/><use href="#h" x="503.88" y="383.48" color="#e3eaf0"/><use href="#h" x="516.23" y="383.48" color="#93b3d4"/><use href="#h" x="528.57" y="383.48" color="#5488be"/><use href="#h" x="540.92" y="383.48" color="#3574b3"/><use href="#h" x="553.27" y="383.48" color="#296baf"/><use href="#h" x="565.62" y="383.48" color="#2468ad"/><use href="#h" x="577.97" y="383.48" color="#2267ac"/><use href="#h" x="590.32" y="383.48" color="#2166ac"/><use href="#h" x="602.67" y="383.48" color="#2166ac"/><use href="#h" x="102.50" y="394.44" color="#2166ac"/><use href="#h" x="114.85" y="394.44" color="#2166ac"/><use href="#h" x="127.20" y="394.44" color="#2266ac"/><use href="#h" x="139.55" y="394.44" color="#2367ad"/><use href="#h" x="151.90" y="394.44" color="#2669ae"/><use href="#h" x="164.25" y="394.44" color="#2e6fb1"/><use href="#h" x="176.60" y="394.44" color="#447eb8"/><use href="#h" x="188.95" y="394.44" color="#749ec9"/><use href="#h" x="201.30" y="394.44" color="#cad9e7"/><use href="#h" x="213.65" y="394.44" color="#eedadc"/><use href="#h" x="226.00" y="394.44" color="#d68b94"/><use href="#h" x="238.35" y="394.44" color="#c55563"/><use href="#h" x="250.70" y="394.44" color="#bb3646"/><use href="#h" x="263.05" y="394.44" color="#b62638"/><use href="#h" x="275.40" y="394.44" color="#b41e31"/><use href="#h" x="287.75" y="394.44" color="#b31b2e"/><use href="#h" x="300.10" y="394.44" color="#b2192c"/><use href="#h" x="312.45" y="394.44" color="#b2192c"/><use href="#h" x="324.80" y="394.44" color="#b2182b"/><use href="#h" x="337.15" y="394.44" color="#b2182b"/><use href="#h" x="349.50" y="394.44" color="#b2182b"/><use href="#h" x="361.85" y="394.44" color="#b2182b"/><use href="#h" x="374.20" y="394.44" color="#b2182b"/><use href="#h" x="386.55" y="394.44" color="#b2182b"/><use href="#h" x="398.90" y="394.44" color="#b2192c"/><use href="#h" x="411.25" y="394.44" color="#b2192c"/><use href="#h" x="423.60" y="394.44" color="#b31b2e"/><use href="#h" x="435.95" y="394.44" color="#b41f31"/><use href="#h" x="448.30" y="394.44" color="#b72739"/><use href="#h" x="460.65" y="394.44" color="#bc3748"/><use href="#h" x="473.00" y="394.44" color="#c65865"/><use href="#h" x="485.35" y="394.44" color="#d79099"/><use href="#h" x="497.70" y="394.44" color="#f0e0e2"/><use href="#h" x="510.05" y="394.44" color="#c3d4e5"/><use href="#h" x="522.40" y="394.44" color="#6f9bc7"/><use href="#h" x="534.75" y="394.44" color="#427cb7"/><use href="#h" x="547.10" y="394.44" color="#2e6fb0"/><use href="#h" x="559.45" y="394.44" color="#2669ae"/><use href="#h" x="571.80" y="394.44" color="#2367ad"/><use href="#h" x="584.15" y="394.44" color="#2266ac"/><use href="#h" x="596.50" y="394.44" color="#2166ac"/><use href="#h" x="108.67" y="405.40" color="#2166ac"/><use href="#h" x="121.02" y="405.40" color="#2166ac"/><use href="#h" x="133.38" y="405.40" color="#2267ac"/><use href="#h" x="145.73" y="405.40" color="#2468ad"/><use href="#h" x="158.08" y="405.40" color="#296caf"/><use href="#h" x="170.43" y="405.40" color="#3775b4"/><use href="#h" x="182.78" y="405.40" color="#588bbf"/><use href="#h" x="195.12" y="405.40" color="#9cb9d7"/><use href="#h" x="207.48" y="405.40" color="#eaeef2"/><use href="#h" x="219.82" y="405.40" color="#e1afb5"/><use href="#h" x="232.18" y="405.40" color="#cc6c78"/><use href="#h" x="244.53" y="405.40" color="#bf4352"/><use href="#h" x="256.88" y="405.40" color="#b82c3e"/><use href="#h" x="269.22" y="405.40" color="#b52134"/><use href="#h" x="281.57" y="405.40" color="#b31c2f"/><use href="#h" x="293.93" y="405.40" color="#b31a2d"/><use href="#h" x="306.28" y="405.40" color="#b2192c"/><use href="#h" x="318.62" y="405.40" color="#b2182b"/><use href="#h" x="330.97" y="405.40" color="#b2182b"/><use href="#h" x="343.32" y="405.40" color="#b2182b"/><use href="#h" x="355.68" y="405.40" color="#b2182b"/><use href="#h" x="368.02" y="405.40" color="#b2182b"/><use href="#h" x="380.38" y="405.40" color="#b2182b"/><use href="#h" x="392.73" y="405.40" color="#b2182b"/><use href="#h" x="405.07" y="405.40" color="#b2192c"/><use href="#h" x="417.43" y="405.40" color="#b31a2d"/><use href="#h" x="429.77" y="405.40" color="#b31d2f"/><use href="#h" x="442.12" y="405.40" color="#b52234"/><use href="#h" x="454.48" y="405.40" color="#b92e3f"/><use href="#h" x="466.82" y="405.40" color="#c04554"/><use href="#h" x="479.18" y="405.40" color="#cd707c"/><use href="#h" x="491.52" y="405.40" color="#e2b5ba"/><use href="#h" x="503.88" y="405.40" color="#e4eaf0"/><use href="#h" x="516.23" y="405.40" color="#96b5d5"/><use href="#h" x="528.57" y="405.40" color="#5589be"/><use href="#h" x="540.92" y="405.40" color="#3674b3"/><use href="#h" x="553.27" y="405.40" color="#296baf"/><use href="#h" x="565.62" y="405.40" color="#2468ad"/><use href="#h" x="577.97" y="405.40" color="#2267ac"/><use href="#h" x="590.32" y="405.40" color="#2166ac"/><use href="#h" x="602.67" y="405.40" color="#2166ac"/><use href="#h" x="102.50" y="416.36" color="#2166ac"/><use href="#h" x="114.85" y="416.36" color="#2166ac"/><use href="#h" x="127.20" y="416.36" color="#2266ac"/><use href="#h" x="139.55" y="416.36" color="#2367ad"/><use href="#h" x="151.90" y="416.36" color="#2669ae"/><use href="#h" x="164.25" y="416.36" color="#2f6fb1"/><use href="#h" x="176.60" y="416.36" color="#447eb8"/><use href="#h" x="188.95" y="416.36" color="#759fc9"/><use href="#h" x="201.30" y="416.36" color="#ccdae8"/><use href="#h" x="213.65" y="416.36" color="#eed8db"/><use href="#h" x="226.00" y="416.36" color="#d58a94"/><use href="#h" x="238.35" y="416.36" color="#c55462"/><use href="#h" x="250.70" y="416.36" color="#bb3646"/><use href="#h" x="263.05" y="416.36" color="#b62638"/><use href="#h" x="275.40" y="416.36" color="#b41e31"/><use href="#h" x="287.75" y="416.36" color="#b31b2e"/><use href="#h" x="300.10" y="416.36" color="#b2192c"/><use href="#h" x="312.45" y="416.36" color="#b2192c"/><use href="#h" x="324.80" y="416.36" color="#b2182b"/><use href="#h" x="337.15" y="416.36" color="#b2182b"/><use href="#h" x="349.50" y="416.36" color="#b2182b"/><use href="#h" x="361.85" y="416.36" color="#b2182b"/><use href="#h" x="374.20" y="416.36" color="#b2182b"/><use href="#h" x="386.55" y="416.36" color="#b2182b"/><use href="#h" x="398.90" y="416.36" color="#b2192c"/><use href="#h" x="411.25" y="416.36" color="#b2192c"/><use href="#h" x="423.60" y="416.36" color="#b31b2e"/><use href="#h" x="435.95" y="416.36" color="#b41f31"/><use href="#h" x="448.30" y="416.36" color="#b72739"/><use href="#h" x="460.65" y="416.36" color="#bc3848"/><use href="#h" x="473.00" y="416.36" color="#c65966"/><use href="#h" x="485.35" y="416.36" color="#d8929a"/><use href="#h" x="497.70" y="416.36" color="#f0e2e4"/><use href="#h" x="510.05" y="416.36" color="#c1d2e4"/><use href="#h" x="522.40" y="416.36" color="#6e9ac7"/><use href="#h" x="534.75" y="416.36" color="#417cb7"/><use href="#h" x="547.10" y="416.36" color="#2d6eb0"/><use href="#h" x="559.45" y="416.36" color="#2669ae"/><use href="#h" x="571.80" y="416.36" color="#2367ad"/><use href="#h" x="584.15" y="416.36" color="#2266ac"/><use href="#h" x="596.50" y="416.36" color="#2166ac"/><use href="#h" x="108.67" y="427.32" color="#2166ac"/><use href="#h" x="121.02" y="427.32" color="#2166ac"/><use href="#h" x="133.38" y="427.32" color="#2267ac"/><use href="#h" x="145.73" y="427.32" color="#2468ad"/><use href="#h" x="158.08" y="427.32" color="#296caf"/><use href="#h" x="170.43" y="427.32" color="#3775b4"/><use href="#h" x="182.78" y="427.32" color="#588cbf"/><use href="#h" x="195.12" y="427.32" color="#9cbad7"/><use href="#h" x="207.48" y="427.32" color="#ebeff3"/><use href="#h" x="219.82" y="427.32" color="#e1afb5"/><use href="#h" x="232.18" y="427.32" color="#cc6c78"/><use href="#h" x="244.53" y="427.32" color="#bf4252"/><use href="#h" x="256.88" y="427.32" color="#b82c3e"/><use href="#h" x="269.22" y="427.32" color="#b52134"/><use href="#h" x="281.57" y="427.32" color="#b31c2f"/><use href="#h" x="293.93" y="427.32" color="#b31a2d"/><use href="#h" x="306.28" y="427.32" color="#b2192c"/><use href="#h" x="318.62" y="427.32" color="#b2182b"/><use href="#h" x="330.97" y="427.32" color="#b2182b"/><use href="#h" x="343.32" y="427.32" color="#b2182b"/><use href="#h" x="355.68" y="427.32" color="#b2182b"/><use href="#h" x="368.02" y="427.32" color="#b2182b"/><use href="#h" x="380.38" y="427.32" color="#b2182b"/><use href="#h" x="392.73" y="427.32" color="#b2182b"/><use href="#h" x="405.07" y="427.32" color="#b2192c"/><use href="#h" x="417.43" y="427.32" color="#b31a2d"/><use href="#h" x="429.77" y="427.32" color="#b41d2f"/><use href="#h" x="442.12" y="427.32" color="#b52335"/><use href="#h" x="454.48" y="427.32" color="#b92f40"/><use href="#h" x="466.82" y="427.32" color="#c14756"/><use href="#h" x="479.18" y="427.32" color="#cf747f"/><use href="#h" x="491.52" y="427.32" color="#e4bbc0"/><use href="#h" x="503.88" y="427.32" color="#e3eaf0"/><use href="#h" x="516.23" y="427.32" color="#90b1d3"/><use href="#h" x="528.57" y="427.32" color="#5287bd"/><use href="#h" x="540.92" y="427.32" color="#3473b3"/><use href="#h" x="553.27" y="427.32" color="#286baf"/><use href="#h" x="565.62" y="427.32" color="#2468ad"/><use href="#h" x="577.97" y="427.32" color="#2267ac"/><use href="#h" x="590.32" y="427.32" color="#2166ac"/><use href="#h" x="602.67" y="427.32" color="#2166ac"/><use href="#h" x="102.50" y="438.28" color="#2166ac"/><use href="#h" x="114.85" y="438.28" color="#2166ac"/><use href="#h" x="127.20" y="438.28" color="#2266ac"/><use href="#h" x="139.55" y="438.28" color="#2367ad"/><use href="#h" x="151.90" y="438.28" color="#266aae"/><use href="#h" x="164.25" y="438.28" color="#2f6fb1"/><use href="#h" x="176.60" y="438.28" color="#457eb8"/><use href="#h" x="188.95" y="438.28" color="#769fca"/><use href="#h" x="201.30" y="438.28" color="#cddae8"/><use href="#h" x="213.65" y="438.28" color="#edd8da"/><use href="#h" x="226.00" y="438.28" color="#d58a93"/><use href="#h" x="238.35" y="438.28" color="#c55462"/><use href="#h" x="250.70" y="438.28" color="#bb3546"/><use href="#h" x="263.05" y="438.28" color="#b62638"/><use href="#h" x="275.40" y="438.28" color="#b41e31"/><use href="#h" x="287.75" y="438.28" color="#b31b2e"/><use href="#h" x="300.10" y="438.28" color="#b2192c"/><use href="#h" x="312.45" y="438.28" color="#b2192c"/><use href="#h" x="324.80" y="438.28" color="#b2182b"/><use href="#h" x="337.15" y="438.28" color="#b2182b"/><use href="#h" x="349.50" y="438.28" color="#b2182b"/><use href="#h" x="361.85" y="438.28" color="#b2182b"/><use href="#h" x="374.20" y="438.28" color="#b2182b"/><use href="#h" x="386.55" y="438.28" color="#b2182b"/><use href="#h" x="398.90" y="438.28" color="#b2192c"/><use href="#h" x="411.25" y="438.28" color="#b21a2c"/><use href="#h" x="423.60" y="438.28" color="#b31b2e"/><use href="#h" x="435.95" y="438.28" color="#b41f32"/><use href="#h" x="448.30" y="438.28" color="#b7283a"/><use href="#h" x="460.65" y="438.28" color="#bc3a4a"/><use href="#h" x="473.00" y="438.28" color="#c75c69"/><use href="#h" x="485.35" y="438.28" color="#d9979f"/><use href="#h" x="497.70" y="438.28" color="#f2e8e9"/><use href="#h" x="510.05" y="438.28" color="#bacee2"/><use href="#h" x="522.40" y="438.28" color="#6a97c5"/><use href="#h" x="534.75" y="438.28" color="#3f7ab6"/><use href="#h" x="547.10" y="438.28" color="#2d6eb0"/><use href="#h" x="559.45" y="438.28" color="#2569ae"/><use href="#h" x="571.80" y="438.28" color="#2367ad"/><use href="#h" x="584.15" y="438.28" color="#2266ac"/><use href="#h" x="596.50" y="438.28" color="#2166ac"/><use href="#h" x="108.67" y="449.24" color="#2166ac"/><use href="#h" x="121.02" y="449.24" color="#2166ac"/><use href="#h" x="133.38" y="449.24" color="#2267ac"/><use href="#h" x="145.73" y="449.24" color="#2468ad"/><use href="#h" x="158.08" y="449.24" color="#2a6caf"/><use href="#h" x="170.43" y="449.24" color="#3775b4"/><use href="#h" x="182.78" y="449.24" color="#598cc0"/><use href="#h" x="195.12" y="449.24" color="#9dbad8"/><use href="#h" x="207.48" y="449.24" color="#ebeff3"/><use href="#h" x="219.82" y="449.24" color="#e0aeb4"/><use href="#h" x="232.18" y="449.24" color="#cc6b77"/><use href="#h" x="244.53" y="449.24" color="#bf4251"/><use href="#h" x="256.88" y="449.24" color="#b82c3d"/><use href="#h" x="269.22" y="449.24" color="#b52134"/><use href="#h" x="281.57" y="449.24" color="#b31c2f"/><use href="#h" x="293.93" y="449.24" color="#b31a2d"/><use href="#h" x="306.28" y="449.24" color="#b2192c"/><use href="#h" x="318.62" y="449.24" color="#b2182b"/><use href="#h" x="330.97" y="449.24" color="#b2182b"/><use href="#h" x="343.32" y="449.24" color="#b2182b"/><use href="#h" x="355.68" y="449.24" color="#b2182b"/><use href="#h" x="368.02" y="449.24" color="#b2182b"/><use href="#h" x="380.38" y="449.24" color="#b2182b"/><use href="#h" x="392.73" y="449.24" color="#b2182b"/><use href="#h" x="405.07" y="449.24" color="#b2192c"/><use href="#h" x="417.43" y="449.24" color="#b31a2d"/><use href="#h" x="429.77" y="449.24" color="#b41d30"/><use href="#h" x="442.12" y="449.24" color="#b52335"/><use href="#h" x="454.48" y="449.24" color="#b93041"/><use href="#h" x="466.82" y="449.24" color="#c14a58"/><use href="#h" x="479.18" y="449.24" color="#d07883"/><use href="#h" x="491.52" y="449.24" color="#e6c0c5"/><use href="#h" x="503.88" y="449.24" color="#e3eaf0"/><use href="#h" x="516.23" y="449.24" color="#8aadd1"/><use href="#h" x="528.57" y="449.24" color="#4f85bc"/><use href="#h" x="540.92" y="449.24" color="#3372b2"/><use href="#h" x="553.27" y="449.24" color="#286bae"/><use href="#h" x="565.62" y="449.24" color="#2468ad"/><use href="#h" x="577.97" y="449.24" color="#2267ac"/><use href="#h" x="590.32" y="449.24" color="#2166ac"/><use href="#h" x="602.67" y="449.24" color="#2166ac"/><use href="#h" x="102.50" y="460.20" color="#2166ac"/><use href="#h" x="114.85" y="460.20" color="#2166ac"/><use href="#h" x="127.20" y="460.20" color="#2266ac"/><use href="#h" x="139.55" y="460.20" color="#2367ad"/><use href="#h" x="151.90" y="460.20" color="#266aae"/><use href="#h" x="164.25" y="460.20" color="#2f6fb1"/><use href="#h" x="176.60" y="460.20" color="#457eb9"/><use href="#h" x="188.95" y="460.20" color="#76a0ca"/><use href="#h" x="201.30" y="460.20" color="#cedbe9"/><use href="#h" x="213.65" y="460.20" color="#edd7da"/><use href="#h" x="226.00" y="460.20" color="#d58992"/><use href="#h" x="238.35" y="460.20" color="#c45361"/><use href="#h" x="250.70" y="460.20" color="#bb3546"/><use href="#h" x="263.05" y="460.20" color="#b62638"/><use href="#h" x="275.40" y="460.20" color="#b41e31"/><use href="#h" x="287.75" y="460.20" color="#b31b2e"/><use href="#h" x="300.10" y="460.20" color="#b2192c"/><use href="#h" x="312.45" y="460.20" color="#b2192c"/><use href="#h" x="324.80" y="460.20" color="#b2182b"/><use href="#h" x="337.15" y="460.20" color="#b2182b"/><use href="#h" x="349.50" y="460.20" color="#b2182b"/><use href="#h" x="361.85" y="460.20" color="#b2182b"/><use href="#h" x="374.20" y="460.20" color="#b2182b"/><use href="#h" x="386.55" y="460.20" color="#b2182b"/><use href="#h" x="398.90" y="460.20" color="#b2192c"/><use href="#h" x="411.25" y="460.20" color="#b31a2c"/><use href="#h" x="423.60" y="460.20" color="#b31c2e"/><use href="#h" x="435.95" y="460.20" color="#b42032"/><use href="#h" x="448.30" y="460.20" color="#b7293a"/><use href="#h" x="460.65" y="460.20" color="#bd3c4c"/><use href="#h" x="473.00" y="460.20" color="#c8606c"/><use href="#h" x="485.35" y="460.20" color="#db9ca4"/><use href="#h" x="497.70" y="460.20" color="#f4efef"/><use href="#h" x="510.05" y="460.20" color="#b3c9df"/><use href="#h" x="522.40" y="460.20" color="#6594c4"/><use href="#h" x="534.75" y="460.20" color="#3d79b6"/><use href="#h" x="547.10" y="460.20" color="#2c6db0"/><use href="#h" x="559.45" y="460.20" color="#2569ad"/><use href="#h" x="571.80" y="460.20" color="#2267ad"/><use href="#h" x="584.15" y="460.20" color="#2266ac"/><use href="#h" x="596.50" y="460.20" color="#2166ac"/><use href="#h" x="108.67" y="471.16" color="#2166ac"/><use href="#h" x="121.02" y="471.16" color="#2166ac"/><use href="#h" x="133.38" y="471.16" color="#2267ac"/><use href="#h" x="145.73" y="471.16" color="#2468ad"/><use href="#h" x="158.08" y="471.16" color="#2a6caf"/><use href="#h" x="170.43" y="471.16" color="#3875b4"/><use href="#h" x="182.78" y="471.16" color="#598cc0"/><use href="#h" x="195.12" y="471.16" color="#9ebbd8"/><use href="#h" x="207.48" y="471.16" color="#ecf0f3"/><use href="#h" x="219.82" y="471.16" color="#e0adb3"/><use href="#h" x="232.18" y="471.16" color="#cc6b77"/><use href="#h" x="244.53" y="471.16" color="#bf4251"/><use href="#h" x="256.88" y="471.16" color="#b82c3d"/><use href="#h" x="269.22" y="471.16" color="#b52133"/><use href="#h" x="281.57" y="471.16" color="#b31c2f"/><use href="#h" x="293.93" y="471.16" color="#b31a2d"/><use href="#h" x="306.28" y="471.16" color="#b2192c"/><use href="#h" x="318.62" y="471.16" color="#b2182b"/><use href="#h" x="330.97" y="471.16" color="#b2182b"/><use href="#h" x="343.32" y="471.16" color="#b2182b"/><use href="#h" x="355.68" y="471.16" color="#b2182b"/><use href="#h" x="368.02" y="471.16" color="#b2182b"/><use href="#h" x="380.38" y="471.16" color="#b2182b"/><use href="#h" x="392.73" y="471.16" color="#b2192b"/><use href="#h" x="405.07" y="471.16" color="#b2192c"/><use href="#h" x="417.43" y="471.16" color="#b31a2d"/><use href="#h" x="429.77" y="471.16" color="#b41d30"/><use href="#h" x="442.12" y="471.16" color="#b62436"/><use href="#h" x="454.48" y="471.16" color="#ba3142"/><use href="#h" x="466.82" y="471.16" color="#c24c5b"/><use href="#h" x="479.18" y="471.16" color="#d17d87"/><use href="#h" x="491.52" y="471.16" color="#e8c6cb"/><use href="#h" x="503.88" y="471.16" color="#e3eaf0"/><use href="#h" x="516.23" y="471.16" color="#84a9cf"/><use href="#h" x="528.57" y="471.16" color="#4c83bb"/><use href="#h" x="540.92" y="471.16" color="#3271b2"/><use href="#h" x="553.27" y="471.16" color="#276aae"/><use href="#h" x="565.62" y="471.16" color="#2368ad"/><use href="#h" x="577.97" y="471.16" color="#2267ac"/><use href="#h" x="590.32" y="471.16" color="#2166ac"/><use href="#h" x="602.67" y="471.16" color="#2166ac"/><use href="#h" x="102.50" y="482.12" color="#2166ac"/><use href="#h" x="114.85" y="482.12" color="#2166ac"/><use href="#h" x="127.20" y="482.12" color="#2266ac"/><use href="#h" x="139.55" y="482.12" color="#2367ad"/><use href="#h" x="151.90" y="482.12" color="#266aae"/><use href="#h" x="164.25" y="482.12" color="#2f70b1"/><use href="#h" x="176.60" y="482.12" color="#457fb9"/><use href="#h" x="188.95" y="482.12" color="#77a0ca"/><use href="#h" x="201.30" y="482.12" color="#cfdce9"/><use href="#h" x="213.65" y="482.12" color="#edd6d9"/><use href="#h" x="226.00" y="482.12" color="#d58892"/><use href="#h" x="238.35" y="482.12" color="#c45361"/><use href="#h" x="250.70" y="482.12" color="#bb3545"/><use href="#h" x="263.05" y="482.12" color="#b62637"/><use href="#h" x="275.40" y="482.12" color="#b41e31"/><use href="#h" x="287.75" y="482.12" color="#b31b2e"/><use href="#h" x="300.10" y="482.12" color="#b2192c"/><use href="#h" x="312.45" y="482.12" color="#b2192c"/><use href="#h" x="324.80" y="482.12" color="#b2192b"/><use href="#h" x="337.15" y="482.12" color="#b2192b"/><use href="#h" x="349.50" y="482.12" color="#b2192b"/><use href="#h" x="361.85" y="482.12" color="#b2192b"/><use href="#h" x="374.20" y="482.12" color="#b2192b"/><use href="#h" x="386.55" y="482.12" color="#b2192b"/><use href="#h" x="398.90" y="482.12" color="#b2192c"/><use href="#h" x="411.25" y="482.12" color="#b31a2d"/><use href="#h" x="423.60" y="482.12" color="#b31c2e"/><use href="#h" x="435.95" y="482.12" color="#b52033"/><use href="#h" x="448.30" y="482.12" color="#b82a3b"/><use href="#h" x="460.65" y="482.12" color="#be3e4d"/><use href="#h" x="473.00" y="482.12" color="#c96370"/><use href="#h" x="485.35" y="482.12" color="#dda1a9"/><use href="#h" x="497.70" y="482.12" color="#f6f5f5"/><use href="#h" x="510.05" y="482.12" color="#acc4dd"/><use href="#h" x="522.40" y="482.12" color="#6192c3"/><use href="#h" x="534.75" y="482.12" color="#3b78b5"/><use href="#h" x="547.10" y="482.12" color="#2b6db0"/><use href="#h" x="559.45" y="482.12" color="#2569ad"/><use href="#h" x="571.80" y="482.12" color="#2267ac"/><use href="#h" x="584.15" y="482.12" color="#2266ac"/><use href="#h" x="596.50" y="482.12" color="#2166ac"/><use href="#h" x="108.67" y="493.08" color="#2166ac"/><use href="#h" x="121.02" y="493.08" color="#2166ac"/><use href="#h" x="133.38" y="493.08" color="#2267ac"/><use href="#h" x="145.73" y="493.08" color="#2468ad"/><use href="#h" x="158.08" y="493.08" color="#2a6caf"/><use href="#h" x="170.43" y="493.08" color="#3875b4"/><use href="#h" x="182.78" y="493.08" color="#5a8dc0"/><use href="#h" x="195.12" y="493.08" color="#9fbbd8"/><use href="#h" x="207.48" y="493.08" color="#edf0f4"/><use href="#h" x="219.82" y="493.08" color="#e0acb3"/><use href="#h" x="232.18" y="493.08" color="#cb6a76"/><use href="#h" x="244.53" y="493.08" color="#bf4151"/><use href="#h" x="256.88" y="493.08" color="#b82c3d"/><use href="#h" x="269.22" y="493.08" color="#b52133"/><use href="#h" x="281.57" y="493.08" color="#b31c2f"/><use href="#h" x="293.93" y="493.08" color="#b31a2d"/><use href="#h" x="306.28" y="493.08" color="#b2192c"/><use href="#h" x="318.62" y="493.08" color="#b2192c"/><use href="#h" x="330.97" y="493.08" color="#b2192c"/><use href="#h" x="343.32" y="493.08" color="#b2192c"/><use href="#h" x="355.68" y="493.08" color="#b2192c"/><use href="#h" x="368.02" y="493.08" color="#b2192c"/><use href="#h" x="380.38" y="493.08" color="#b2192c"/><use href="#h" x="392.73" y="493.08" color="#b2192c"/><use href="#h" x="405.07" y="493.08" color="#b2192c"/><use href="#h" x="417.43" y="493.08" color="#b31b2d"/><use href="#h" x="429.77" y="493.08" color="#b41e30"/><use href="#h" x="442.12" y="493.08" color="#b62536"/><use href="#h" x="454.48" y="493.08" color="#ba3343"/><use href="#h" x="466.82" y="493.08" color="#c34f5d"/><use href="#h" x="479.18" y="493.08" color="#d3818b"/><use href="#h" x="491.52" y="493.08" color="#eacdd0"/><use href="#h" x="503.88" y="493.08" color="#dae4ed"/><use href="#h" x="516.23" y="493.08" color="#7fa6cd"/><use href="#h" x="528.57" y="493.08" color="#4981ba"/><use href="#h" x="540.92" y="493.08" color="#3171b1"/><use href="#h" x="553.27" y="493.08" color="#276aae"/><use href="#h" x="565.62" y="493.08" color="#2367ad"/><use href="#h" x="577.97" y="493.08" color="#2267ac"/><use href="#h" x="590.32" y="493.08" color="#2166ac"/><use href="#h" x="602.67" y="493.08" color="#2166ac"/><use href="#h" x="102.50" y="504.04" color="#2166ac"/><use href="#h" x="114.85" y="504.04" color="#2166ac"/><use href="#h" x="127.20" y="504.04" color="#2266ac"/><use href="#h" x="139.55" y="504.04" color="#2367ad"/><use href="#h" x="151.90" y="504.04" color="#266aae"/><use href="#h" x="164.25" y="504.04" color="#2f70b1"/><use href="#h" x="176.60" y="504.04" color="#467fb9"/><use href="#h" x="188.95" y="504.04" color="#78a1ca"/><use href="#h" x="201.30" y="504.04" color="#d0dce9"/><use href="#h" x="213.65" y="504.04" color="#edd5d8"/><use href="#h" x="226.00" y="504.04" color="#d58891"/><use href="#h" x="238.35" y="504.04" color="#c45361"/><use href="#h" x="250.70" y="504.04" color="#bb3545"/><use href="#h" x="263.05" y="504.04" color="#b62637"/><use href="#h" x="275.40" y="504.04" color="#b41e31"/><use href="#h" x="287.75" y="504.04" color="#b31b2e"/><use href="#h" x="300.10" y="504.04" color="#b31a2d"/><use href="#h" x="312.45" y="504.04" color="#b31a2d"/><use href="#h" x="324.80" y="504.04" color="#b31a2d"/><use href="#h" x="337.15" y="504.04" color="#b31a2d"/><use href="#h" x="349.50" y="504.04" color="#b31a2d"/><use href="#h" x="361.85" y="504.04" color="#b31a2d"/><use href="#h" x="374.20" y="504.04" color="#b31a2d"/><use href="#h" x="386.55" y="504.04" color="#b31a2d"/><use href="#h" x="398.90" y="504.04" color="#b31a2d"/><use href="#h" x="411.25" y="504.04" color="#b31a2d"/><use href="#h" x="423.60" y="504.04" color="#b31c2f"/><use href="#h" x="435.95" y="504.04" color="#b52133"/><use href="#h" x="448.30" y="504.04" color="#b82b3c"/><use href="#h" x="460.65" y="504.04" color="#be404f"/><use href="#h" x="473.00" y="504.04" color="#ca6773"/><use href="#h" x="485.35" y="504.04" color="#dea7ae"/><use href="#h" x="497.70" y="504.04" color="#f3f4f6"/><use href="#h" x="510.05" y="504.04" color="#a5c0da"/><use href="#h" x="522.40" y="504.04" color="#5d8fc1"/><use href="#h" x="534.75" y="504.04" color="#3977b5"/><use href="#h" x="547.10" y="504.04" color="#2a6caf"/><use href="#h" x="559.45" y="504.04" color="#2468ad"/><use href="#h" x="571.80" y="504.04" color="#2267ac"/><use href="#h" x="584.15" y="504.04" color="#2166ac"/><use href="#h" x="596.50" y="504.04" color="#2166ac"/><use href="#h" x="108.67" y="515.00" color="#2166ac"/><use href="#h" x="121.02" y="515.00" color="#2166ac"/><use href="#h" x="133.38" y="515.00" color="#2267ac"/><use href="#h" x="145.73" y="515.00" color="#2468ad"/><use href="#h" x="158.08" y="515.00" color="#2a6caf"/><use href="#h" x="170.43" y="515.00" color="#3876b4"/><use href="#h" x="182.78" y="515.00" color="#5a8dc0"/><use href="#h" x="195.12" y="515.00" color="#a0bcd8"/><use href="#h" x="207.48" y="515.00" color="#eef1f4"/><use href="#h" x="219.82" y="515.00" color="#e0acb2"/><use href="#h" x="232.18" y="515.00" color="#cb6a76"/><use href="#h" x="244.53" y="515.00" color="#bf4151"/><use href="#h" x="256.88" y="515.00" color="#b82c3d"/><use href="#h" x="269.22" y="515.00" color="#b52133"/><use href="#h" x="281.57" y="515.00" color="#b31c2f"/><use href="#h" x="293.93" y="515.00" color="#b31c2f"/><use href="#h" x="306.28" y="515.00" color="#b31c2f"/><use href="#h" x="318.62" y="515.00" color="#b31c2f"/><use href="#h" x="330.97" y="515.00" color="#b31c2f"/><use href="#h" x="343.32" y="515.00" color="#b31c2f"/><use href="#h" x="355.68" y="515.00" color="#b31c2f"/><use href="#h" x="368.02" y="515.00" color="#b31c2f"/><use href="#h" x="380.38" y="515.00" color="#b31c2f"/><use href="#h" x="392.73" y="515.00" color="#b31c2f"/><use href="#h" x="405.07" y="515.00" color="#b31c2f"/><use href="#h" x="417.43" y="515.00" color="#b31c2f"/><use href="#h" x="429.77" y="515.00" color="#b41f31"/><use href="#h" x="442.12" y="515.00" color="#b62638"/><use href="#h" x="454.48" y="515.00" color="#bb3646"/><use href="#h" x="466.82" y="515.00" color="#c55563"/><use href="#h" x="479.18" y="515.00" color="#d58b94"/><use href="#h" x="491.52" y="515.00" color="#edd8db"/><use href="#h" x="503.88" y="515.00" color="#cddbe8"/><use href="#h" x="516.23" y="515.00" color="#76a0ca"/><use href="#h" x="528.57" y="515.00" color="#457fb9"/><use href="#h" x="540.92" y="515.00" color="#2f70b1"/><use href="#h" x="553.27" y="515.00" color="#266aae"/><use href="#h" x="565.62" y="515.00" color="#2367ad"/><use href="#h" x="577.97" y="515.00" color="#2267ac"/><use href="#h" x="590.32" y="515.00" color="#2166ac"/><use href="#h" x="602.67" y="515.00" color="#2166ac"/><use href="#h" x="102.50" y="525.96" color="#2166ac"/><use href="#h" x="114.85" y="525.96" color="#2166ac"/><use href="#h" x="127.20" y="525.96" color="#2266ac"/><use href="#h" x="139.55" y="525.96" color="#2367ad"/><use href="#h" x="151.90" y="525.96" color="#266aae"/><use href="#h" x="164.25" y="525.96" color="#2f70b1"/><use href="#h" x="176.60" y="525.96" color="#467fb9"/><use href="#h" x="188.95" y="525.96" color="#78a1cb"/><use href="#h" x="201.30" y="525.96" color="#d1ddea"/><use href="#h" x="213.65" y="525.96" color="#ecd4d7"/><use href="#h" x="226.00" y="525.96" color="#d48791"/><use href="#h" x="238.35" y="525.96" color="#c45260"/><use href="#h" x="250.70" y="525.96" color="#bb3545"/><use href="#h" x="263.05" y="525.96" color="#b62537"/><use href="#h" x="275.40" y="525.96" color="#b42032"/><use href="#h" x="287.75" y="525.96" color="#b42032"/><use href="#h" x="300.10" y="525.96" color="#b42032"/><use href="#h" x="312.45" y="525.96" color="#b42032"/><use href="#h" x="324.80" y="525.96" color="#b42032"/><use href="#h" x="337.15" y="525.96" color="#b42032"/><use href="#h" x="349.50" y="525.96" color="#b42032"/><use href="#h" x="361.85" y="525.96" color="#b42032"/><use href="#h" x="374.20" y="525.96" color="#b42032"/><use href="#h" x="386.55" y="525.96" color="#b42032"/><use href="#h" x="398.90" y="525.96" color="#b52032"/><use href="#h" x="411.25" y="525.96" color="#b52032"/><use href="#h" x="423.60" y="525.96" color="#b52032"/><use href="#h" x="435.95" y="525.96" color="#b62436"/><use href="#h" x="448.30" y="525.96" color="#b92f40"/><use href="#h" x="460.65" y="525.96" color="#c04756"/><use href="#h" x="473.00" y="525.96" color="#ce737e"/><use href="#h" x="485.35" y="525.96" color="#e3b8bd"/><use href="#h" x="497.70" y="525.96" color="#e3eaf0"/><use href="#h" x="510.05" y="525.96" color="#94b4d4"/><use href="#h" x="522.40" y="525.96" color="#5489be"/><use href="#h" x="534.75" y="525.96" color="#3574b3"/><use href="#h" x="547.10" y="525.96" color="#296baf"/><use href="#h" x="559.45" y="525.96" color="#2468ad"/><use href="#h" x="571.80" y="525.96" color="#2267ac"/><use href="#h" x="584.15" y="525.96" color="#2166ac"/><use href="#h" x="596.50" y="525.96" color="#2166ac"/><use href="#h" x="108.67" y="536.92" color="#2166ac"/><use href="#h" x="121.02" y="536.92" color="#2166ac"/><use href="#h" x="133.38" y="536.92" color="#2267ac"/><use href="#h" x="145.73" y="536.92" color="#2468ad"/><use href="#h" x="158.08" y="536.92" color="#2a6caf"/><use href="#h" x="170.43" y="536.92" color="#3876b4"/><use href="#h" x="182.78" y="536.92" color="#5b8dc0"/><use href="#h" x="195.12" y="536.92" color="#a1bcd9"/><use href="#h" x="207.48" y="536.92" color="#f0f2f5"/><use href="#h" x="219.82" y="536.92" color="#dfaab1"/><use href="#h" x="232.18" y="536.92" color="#cb6975"/><use href="#h" x="244.53" y="536.92" color="#bf4151"/><use href="#h" x="256.88" y="536.92" color="#b82c3d"/><use href="#h" x="269.22" y="536.92" color="#b72739"/><use href="#h" x="281.57" y="536.92" color="#b72739"/><use href="#h" x="293.93" y="536.92" color="#b72839"/><use href="#h" x="306.28" y="536.92" color="#b72839"/><use href="#h" x="318.62" y="536.92" color="#b72839"/><use href="#h" x="330.97" y="536.92" color="#b72839"/><use href="#h" x="343.32" y="536.92" color="#b72839"/><use href="#h" x="355.68" y="536.92" color="#b72839"/><use href="#h" x="368.02" y="536.92" color="#b72839"/><use href="#h" x="380.38" y="536.92" color="#b72839"/><use href="#h" x="392.73" y="536.92" color="#b7283a"/><use href="#h" x="405.07" y="536.92" color="#b7283a"/><use href="#h" x="417.43" y="536.92" color="#b7283a"/><use href="#h" x="429.77" y="536.92" color="#b7283a"/><use href="#h" x="442.12" y="536.92" color="#b92f40"/><use href="#h" x="454.48" y="536.92" color="#bf4252"/><use href="#h" x="466.82" y="536.92" color="#c96370"/><use href="#h" x="479.18" y="536.92" color="#da9aa2"/><use href="#h" x="491.52" y="536.92" color="#f3eaeb"/><use href="#h" x="503.88" y="536.92" color="#b7cbe0"/><use href="#h" x="516.23" y="536.92" color="#6896c5"/><use href="#h" x="528.57" y="536.92" color="#3e7ab6"/><use href="#h" x="540.92" y="536.92" color="#2c6eb0"/><use href="#h" x="553.27" y="536.92" color="#2569ae"/><use href="#h" x="565.62" y="536.92" color="#2367ad"/><use href="#h" x="577.97" y="536.92" color="#2266ac"/><use href="#h" x="590.32" y="536.92" color="#2166ac"/><use href="#h" x="602.67" y="536.92" color="#2166ac"/><use href="#h" x="102.50" y="547.88" color="#2166ac"/><use href="#h" x="114.85" y="547.88" color="#2166ac"/><use href="#h" x="127.20" y="547.88" color="#2267ac"/><use href="#h" x="139.55" y="547.88" color="#2367ad"/><use href="#h" x="151.90" y="547.88" color="#266aae"/><use href="#h" x="164.25" y="547.88" color="#2f70b1"/><use href="#h" x="176.60" y="547.88" color="#467fb9"/><use href="#h" x="188.95" y="547.88" color="#79a2cb"/><use href="#h" x="201.30" y="547.88" color="#d1ddea"/><use href="#h" x="213.65" y="547.88" color="#e9c9cd"/><use href="#h" x="226.00" y="547.88" color="#d3828c"/><use href="#h" x="238.35" y="547.88" color="#c45361"/><use href="#h" x="250.70" y="547.88" color="#bd3c4c"/><use href="#h" x="263.05" y="547.88" color="#bb3647"/><use href="#h" x="275.40" y="547.88" color="#bb3647"/><use href="#h" x="287.75" y="547.88" color="#bb3647"/><use href="#h" x="300.10" y="547.88" color="#bb3647"/><use href="#h" x="312.45" y="547.88" color="#bb3647"/><use href="#h" x="324.80" y="547.88" color="#bb3747"/><use href="#h" x="337.15" y="547.88" color="#bb3747"/><use href="#h" x="349.50" y="547.88" color="#bc3747"/><use href="#h" x="361.85" y="547.88" color="#bc3747"/><use href="#h" x="374.20" y="547.88" color="#bc3747"/><use href="#h" x="386.55" y="547.88" color="#bc3747"/><use href="#h" x="398.90" y="547.88" color="#bc3747"/><use href="#h" x="411.25" y="547.88" color="#bc3747"/><use href="#h" x="423.60" y="547.88" color="#bc3748"/><use href="#h" x="435.95" y="547.88" color="#bc3748"/><use href="#h" x="448.30" y="547.88" color="#c04453"/><use href="#h" x="460.65" y="547.88" color="#c96470"/><use href="#h" x="473.00" y="547.88" color="#d8949c"/><use href="#h" x="485.35" y="547.88" color="#ecd2d5"/><use href="#h" x="497.70" y="547.88" color="#d6e0eb"/><use href="#h" x="510.05" y="547.88" color="#82a8ce"/><use href="#h" x="522.40" y="547.88" color="#4b82bb"/><use href="#h" x="534.75" y="547.88" color="#3271b2"/><use href="#h" x="547.10" y="547.88" color="#276aae"/><use href="#h" x="559.45" y="547.88" color="#2368ad"/><use href="#h" x="571.80" y="547.88" color="#2267ac"/><use href="#h" x="584.15" y="547.88" color="#2166ac"/><use href="#h" x="596.50" y="547.88" color="#2166ac"/><use href="#h" x="108.67" y="558.84" color="#2166ac"/><use href="#h" x="121.02" y="558.84" color="#2166ac"/><use href="#h" x="133.38" y="558.84" color="#2267ac"/><use href="#h" x="145.73" y="558.84" color="#2468ad"/><use href="#h" x="158.08" y="558.84" color="#2a6caf"/><use href="#h" x="170.43" y="558.84" color="#3876b4"/><use href="#h" x="182.78" y="558.84" color="#5b8dc0"/><use href="#h" x="195.12" y="558.84" color="#a1bdd9"/><use href="#h" x="207.48" y="558.84" color="#efdfe1"/><use href="#h" x="219.82" y="558.84" color="#dfa8af"/><use href="#h" x="232.18" y="558.84" color="#d17b86"/><use href="#h" x="244.53" y="558.84" color="#c65967"/><use href="#h" x="256.88" y="558.84" color="#c24d5b"/><use href="#h" x="269.22" y="558.84" color="#c24d5b"/><use href="#h" x="281.57" y="558.84" color="#c24d5b"/><use href="#h" x="293.93" y="558.84" color="#c24d5c"/><use href="#h" x="306.28" y="558.84" color="#c24d5c"/><use href="#h" x="318.62" y="558.84" color="#c24d5c"/><use href="#h" x="330.97" y="558.84" color="#c34d5c"/><use href="#h" x="343.32" y="558.84" color="#c34e5c"/><use href="#h" x="355.68" y="558.84" color="#c34e5c"/><use href="#h" x="368.02" y="558.84" color="#c34e5c"/><use href="#h" x="380.38" y="558.84" color="#c34e5c"/><use href="#h" x="392.73" y="558.84" color="#c34e5c"/><use href="#h" x="405.07" y="558.84" color="#c34e5d"/><use href="#h" x="417.43" y="558.84" color="#c34e5d"/><use href="#h" x="429.77" y="558.84" color="#c34e5d"/><use href="#h" x="442.12" y="558.84" color="#c34f5d"/><use href="#h" x="454.48" y="558.84" color="#ca6471"/><use href="#h" x="466.82" y="558.84" color="#d68d96"/><use href="#h" x="479.18" y="558.84" color="#e8c6ca"/><use href="#h" x="491.52" y="558.84" color="#cfdce9"/><use href="#h" x="503.88" y="558.84" color="#84a9cf"/><use href="#h" x="516.23" y="558.84" color="#5287bd"/><use href="#h" x="528.57" y="558.84" color="#3775b4"/><use href="#h" x="540.92" y="558.84" color="#2a6caf"/><use href="#h" x="553.27" y="558.84" color="#2468ad"/><use href="#h" x="565.62" y="558.84" color="#2267ac"/><use href="#h" x="577.97" y="558.84" color="#2166ac"/><use href="#h" x="590.32" y="558.84" color="#2166ac"/><use href="#h" x="602.67" y="558.84" color="#2166ac"/><use href="#h" x="102.50" y="569.80" color="#2166ac"/><use href="#h" x="114.85" y="569.80" color="#2166ac"/><use href="#h" x="127.20" y="569.80" color="#2266ac"/><use href="#h" x="139.55" y="569.80" color="#2367ad"/><use href="#h" x="151.90" y="569.80" color="#2669ae"/><use href="#h" x="164.25" y="569.80" color="#2e6fb1"/><use href="#h" x="176.60" y="569.80" color="#437db8"/><use href="#h" x="188.95" y="569.80" color="#6c99c6"/><use href="#h" x="201.30" y="569.80" color="#a6c0db"/><use href="#h" x="213.65" y="569.80" color="#eedbdd"/><use href="#h" x="226.00" y="569.80" color="#dfa9af"/><use href="#h" x="238.35" y="569.80" color="#d27e88"/><use href="#h" x="250.70" y="569.80" color="#cb6975"/><use href="#h" x="263.05" y="569.80" color="#cb6a76"/><use href="#h" x="275.40" y="569.80" color="#cb6a76"/><use href="#h" x="287.75" y="569.80" color="#cb6a76"/><use href="#h" x="300.10" y="569.80" color="#cb6a76"/><use href="#h" x="312.45" y="569.80" color="#cb6a76"/><use href="#h" x="324.80" y="569.80" color="#cb6a76"/><use href="#h" x="337.15" y="569.80" color="#cc6b76"/><use href="#h" x="349.50" y="569.80" color="#cc6b77"/><use href="#h" x="361.85" y="569.80" color="#cc6b77"/><use href="#h" x="374.20" y="569.80" color="#cc6b77"/><use href="#h" x="386.55" y="569.80" color="#cc6b77"/><use href="#h" x="398.90" y="569.80" color="#cc6b77"/><use href="#h" x="411.25" y="569.80" color="#cc6c77"/><use href="#h" x="423.60" y="569.80" color="#cc6c78"/><use href="#h" x="435.95" y="569.80" color="#cc6c78"/><use href="#h" x="448.30" y="569.80" color="#ce727d"/><use href="#h" x="460.65" y="569.80" color="#d68b95"/><use href="#h" x="473.00" y="569.80" color="#e5bcc1"/><use href="#h" x="485.35" y="569.80" color="#c7d7e6"/><use href="#h" x="497.70" y="569.80" color="#80a7cd"/><use href="#h" x="510.05" y="569.80" color="#5086bd"/><use href="#h" x="522.40" y="569.80" color="#3775b4"/><use href="#h" x="534.75" y="569.80" color="#2b6daf"/><use href="#h" x="547.10" y="569.80" color="#2569ad"/><use href="#h" x="559.45" y="569.80" color="#2367ad"/><use href="#h" x="571.80" y="569.80" color="#2266ac"/><use href="#h" x="584.15" y="569.80" color="#2166ac"/><use href="#h" x="596.50" y="569.80" color="#2166ac"/><use href="#h" x="108.67" y="580.76" color="#2166ac"/><use href="#h" x="121.02" y="580.76" color="#2166ac"/><use href="#h" x="133.38" y="580.76" color="#2267ac"/><use href="#h" x="145.73" y="580.76" color="#2468ad"/><use href="#h" x="158.08" y="580.76" color="#276aae"/><use href="#h" x="170.43" y="580.76" color="#3070b1"/><use href="#h" x="182.78" y="580.76" color="#427cb8"/><use href="#h" x="195.12" y="580.76" color="#6191c2"/><use href="#h" x="207.48" y="580.76" color="#93b3d4"/><use href="#h" x="219.82" y="580.76" color="#d2deea"/><use href="#h" x="232.18" y="580.76" color="#e0aeb4"/><use href="#h" x="244.53" y="580.76" color="#d78f98"/><use href="#h" x="256.88" y="580.76" color="#d78f98"/><use href="#h" x="269.22" y="580.76" color="#d78f98"/><use href="#h" x="281.57" y="580.76" color="#d79098"/><use href="#h" x="293.93" y="580.76" color="#d79099"/><use href="#h" x="306.28" y="580.76" color="#d79099"/><use href="#h" x="318.62" y="580.76" color="#d79099"/><use href="#h" x="330.97" y="580.76" color="#d79199"/><use href="#h" x="343.32" y="580.76" color="#d79199"/><use href="#h" x="355.68" y="580.76" color="#d7919a"/><use href="#h" x="368.02" y="580.76" color="#d7919a"/><use href="#h" x="380.38" y="580.76" color="#d8919a"/><use href="#h" x="392.73" y="580.76" color="#d8929a"/><use href="#h" x="405.07" y="580.76" color="#d8929a"/><use href="#h" x="417.43" y="580.76" color="#d8929b"/><use href="#h" x="429.77" y="580.76" color="#d8929b"/><use href="#h" x="442.12" y="580.76" color="#d8929b"/><use href="#h" x="454.48" y="580.76" color="#dca1a9"/><use href="#h" x="466.82" y="580.76" color="#e6bfc4"/><use href="#h" x="479.18" y="580.76" color="#b9cde1"/><use href="#h" x="491.52" y="580.76" color="#7ca4cc"/><use href="#h" x="503.88" y="580.76" color="#4e85bc"/><use href="#h" x="516.23" y="580.76" color="#3674b3"/><use href="#h" x="528.57" y="580.76" color="#2a6caf"/><use href="#h" x="540.92" y="580.76" color="#2569ad"/><use href="#h" x="553.27" y="580.76" color="#2367ad"/><use href="#h" x="565.62" y="580.76" color="#2266ac"/><use href="#h" x="577.97" y="580.76" color="#2166ac"/><use href="#h" x="590.32" y="580.76" color="#2166ac"/><use href="#h" x="602.67" y="580.76" color="#2166ac"/><use href="#h" x="102.50" y="591.72" color="#2166ac"/><use href="#h" x="114.85" y="591.72" color="#2166ac"/><use href="#h" x="127.20" y="591.72" color="#2166ac"/><use href="#h" x="139.55" y="591.72" color="#2267ac"/><use href="#h" x="151.90" y="591.72" color="#2468ad"/><use href="#h" x="164.25" y="591.72" color="#276aae"/><use href="#h" x="176.60" y="591.72" color="#2e6fb1"/><use href="#h" x="188.95" y="591.72" color="#3c79b6"/><use href="#h" x="201.30" y="591.72" color="#578abf"/><use href="#h" x="213.65" y="591.72" color="#82a8ce"/><use href="#h" x="226.00" y="591.72" color="#bacee2"/><use href="#h" x="238.35" y="591.72" color="#e7c3c8"/><use href="#h" x="250.70" y="591.72" color="#e7c4c8"/><use href="#h" x="263.05" y="591.72" color="#e7c4c8"/><use href="#h" x="275.40" y="591.72" color="#e7c4c8"/><use href="#h" x="287.75" y="591.72" color="#e7c4c9"/><use href="#h" x="300.10" y="591.72" color="#e7c5c9"/><use href="#h" x="312.45" y="591.72" color="#e7c5c9"/><use href="#h" x="324.80" y="591.72" color="#e8c5c9"/><use href="#h" x="337.15" y="591.72" color="#e8c5ca"/><use href="#h" x="349.50" y="591.72" color="#e8c6ca"/><use href="#h" x="361.85" y="591.72" color="#e8c6ca"/><use href="#h" x="374.20" y="591.72" color="#e8c6ca"/><use href="#h" x="386.55" y="591.72" color="#e8c6ca"/><use href="#h" x="398.90" y="591.72" color="#e8c7cb"/><use href="#h" x="411.25" y="591.72" color="#e8c7cb"/><use href="#h" x="423.60" y="591.72" color="#e8c7cb"/><use href="#h" x="435.95" y="591.72" color="#e8c7cb"/><use href="#h" x="448.30" y="591.72" color="#e8c8cc"/><use href="#h" x="460.65" y="591.72" color="#bdd0e3"/><use href="#h" x="473.00" y="591.72" color="#a0bcd9"/><use href="#h" x="485.35" y="591.72" color="#729dc8"/><use href="#h" x="497.70" y="591.72" color="#4b82bb"/><use href="#h" x="510.05" y="591.72" color="#3573b3"/><use href="#h" x="522.40" y="591.72" color="#2a6caf"/><use href="#h" x="534.75" y="591.72" color="#2569ad"/><use href="#h" x="547.10" y="591.72" color="#2367ad"/><use href="#h" x="559.45" y="591.72" color="#2266ac"/><use href="#h" x="571.80" y="591.72" color="#2166ac"/><use href="#h" x="584.15" y="591.72" color="#2166ac"/><use href="#h" x="596.50" y="591.72" color="#2166ac"/><use href="#h" x="108.67" y="602.68" color="#2166ac"/><use href="#h" x="121.02" y="602.68" color="#2166ac"/><use href="#h" x="133.38" y="602.68" color="#2266ac"/><use href="#h" x="145.73" y="602.68" color="#2267ac"/><use href="#h" x="158.08" y="602.68" color="#2468ad"/><use href="#h" x="170.43" y="602.68" color="#266aae"/><use href="#h" x="182.78" y="602.68" color="#2c6db0"/><use href="#h" x="195.12" y="602.68" color="#3875b4"/><use href="#h" x="207.48" y="602.68" color="#4e85bc"/><use href="#h" x="219.82" y="602.68" color="#749ec9"/><use href="#h" x="232.18" y="602.68" color="#a0bcd8"/><use href="#h" x="244.53" y="602.68" color="#99b7d6"/><use href="#h" x="256.88" y="602.68" color="#8fb1d3"/><use href="#h" x="269.22" y="602.68" color="#87abd0"/><use href="#h" x="281.57" y="602.68" color="#81a7ce"/><use href="#h" x="293.93" y="602.68" color="#7da4cc"/><use href="#h" x="306.28" y="602.68" color="#7ba3cb"/><use href="#h" x="318.62" y="602.68" color="#7aa2cb"/><use href="#h" x="330.97" y="602.68" color="#7aa2cb"/><use href="#h" x="343.32" y="602.68" color="#7aa2cb"/><use href="#h" x="355.68" y="602.68" color="#7aa2cb"/><use href="#h" x="368.02" y="602.68" color="#7aa2cb"/><use href="#h" x="380.38" y="602.68" color="#79a2cb"/><use href="#h" x="392.73" y="602.68" color="#7aa2cb"/><use href="#h" x="405.07" y="602.68" color="#7ca3cc"/><use href="#h" x="417.43" y="602.68" color="#7fa6cd"/><use href="#h" x="429.77" y="602.68" color="#85aacf"/><use href="#h" x="442.12" y="602.68" color="#8cafd2"/><use href="#h" x="454.48" y="602.68" color="#92b2d4"/><use href="#h" x="466.82" y="602.68" color="#7aa2cb"/><use href="#h" x="479.18" y="602.68" color="#6091c2"/><use href="#h" x="491.52" y="602.68" color="#467fb9"/><use href="#h" x="503.88" y="602.68" color="#3372b2"/><use href="#h" x="516.23" y="602.68" color="#296caf"/><use href="#h" x="528.57" y="602.68" color="#2568ad"/><use href="#h" x="540.92" y="602.68" color="#2367ad"/><use href="#h" x="553.27" y="602.68" color="#2266ac"/><use href="#h" x="565.62" y="602.68" color="#2166ac"/><use href="#h" x="577.97" y="602.68" color="#2166ac"/><use href="#h" x="590.32" y="602.68" color="#2166ac"/><use href="#h" x="602.67" y="602.68" color="#2166ac"/><use href="#h" x="102.50" y="613.64" color="#2166ac"/><use href="#h" x="114.85" y="613.64" color="#2166ac"/><use href="#h" x="127.20" y="613.64" color="#2166ac"/><use href="#h" x="139.55" y="613.64" color="#2166ac"/><use href="#h" x="151.90" y="613.64" color="#2267ac"/><use href="#h" x="164.25" y="613.64" color="#2367ad"/><use href="#h" x="176.60" y="613.64" color="#2569ae"/><use href="#h" x="188.95" y="613.64" color="#2a6caf"/><use href="#h" x="201.30" y="613.64" color="#3473b3"/><use href="#h" x="213.65" y="613.64" color="#4780b9"/><use href="#h" x="226.00" y="613.64" color="#6292c3"/><use href="#h" x="238.35" y="613.64" color="#6a97c6"/><use href="#h" x="250.70" y="613.64" color="#6896c5"/><use href="#h" x="263.05" y="613.64" color="#6695c4"/><use href="#h" x="275.40" y="613.64" color="#6393c3"/><use href="#h" x="287.75" y="613.64" color="#6292c3"/><use href="#h" x="300.10" y="613.64" color="#6192c3"/><use href="#h" x="312.45" y="613.64" color="#6192c3"/><use href="#h" x="324.80" y="613.64" color="#6292c3"/><use href="#h" x="337.15" y="613.64" color="#6292c3"/><use href="#h" x="349.50" y="613.64" color="#6292c3"/><use href="#h" x="361.85" y="613.64" color="#6292c3"/><use href="#h" x="374.20" y="613.64" color="#6191c2"/><use href="#h" x="386.55" y="613.64" color="#6191c2"/><use href="#h" x="398.90" y="613.64" color="#6091c2"/><use href="#h" x="411.25" y="613.64" color="#6191c2"/><use href="#h" x="423.60" y="613.64" color="#6292c3"/><use href="#h" x="435.95" y="613.64" color="#6493c3"/><use href="#h" x="448.30" y="613.64" color="#6694c4"/><use href="#h" x="460.65" y="613.64" color="#5f90c2"/><use href="#h" x="473.00" y="613.64" color="#4b83bb"/><use href="#h" x="485.35" y="613.64" color="#3c78b5"/><use href="#h" x="497.70" y="613.64" color="#3070b1"/><use href="#h" x="510.05" y="613.64" color="#286bae"/><use href="#h" x="522.40" y="613.64" color="#2468ad"/><use href="#h" x="534.75" y="613.64" color="#2267ad"/><use href="#h" x="547.10" y="613.64" color="#2266ac"/><use href="#h" x="559.45" y="613.64" color="#2166ac"/><use href="#h" x="571.80" y="613.64" color="#2166ac"/><use href="#h" x="584.15" y="613.64" color="#2166ac"/><use href="#h" x="596.50" y="613.64" color="#2166ac"/><use href="#h" x="108.67" y="624.60" color="#2166ac"/><use href="#h" x="121.02" y="624.60" color="#2166ac"/><use href="#h" x="133.38" y="624.60" color="#2166ac"/><use href="#h" x="145.73" y="624.60" color="#2166ac"/><use href="#h" x="158.08" y="624.60" color="#2267ac"/><use href="#h" x="170.43" y="624.60" color="#2367ad"/><use href="#h" x="182.78" y="624.60" color="#2568ad"/><use href="#h" x="195.12" y="624.60" color="#286baf"/><use href="#h" x="207.48" y="624.60" color="#3171b1"/><use href="#h" x="219.82" y="624.60" color="#3e79b6"/><use href="#h" x="232.18" y="624.60" color="#4780b9"/><use href="#h" x="244.53" y="624.60" color="#4a82ba"/><use href="#h" x="256.88" y="624.60" color="#4b83bb"/><use href="#h" x="269.22" y="624.60" color="#4c83bb"/><use href="#h" x="281.57" y="624.60" color="#4d84bb"/><use href="#h" x="293.93" y="624.60" color="#4d84bc"/><use href="#h" x="306.28" y="624.60" color="#4e84bc"/><use href="#h" x="318.62" y="624.60" color="#4f85bc"/><use href="#h" x="330.97" y="624.60" color="#4f85bc"/><use href="#h" x="343.32" y="624.60" color="#5086bc"/><use href="#h" x="355.68" y="624.60" color="#4f85bc"/><use href="#h" x="368.02" y="624.60" color="#4f85bc"/><use href="#h" x="380.38" y="624.60" color="#4e85bc"/><use href="#h" x="392.73" y="624.60" color="#4d84bc"/><use href="#h" x="405.07" y="624.60" color="#4d84bb"/><use href="#h" x="417.43" y="624.60" color="#4c83bb"/><use href="#h" x="429.77" y="624.60" color="#4b82bb"/><use href="#h" x="442.12" y="624.60" color="#4a82ba"/><use href="#h" x="454.48" y="624.60" color="#4880ba"/><use href="#h" x="466.82" y="624.60" color="#3e79b6"/><use href="#h" x="479.18" y="624.60" color="#3272b2"/><use href="#h" x="491.52" y="624.60" color="#2b6db0"/><use href="#h" x="503.88" y="624.60" color="#276aae"/><use href="#h" x="516.23" y="624.60" color="#2468ad"/><use href="#h" x="528.57" y="624.60" color="#2267ac"/><use href="#h" x="540.92" y="624.60" color="#2266ac"/><use href="#h" x="553.27" y="624.60" color="#2166ac"/><use href="#h" x="565.62" y="624.60" color="#2166ac"/><use href="#h" x="577.97" y="624.60" color="#2166ac"/><use href="#h" x="590.32" y="624.60" color="#2166ac"/><use href="#h" x="602.67" y="624.60" color="#2166ac"/><use href="#h" x="102.50" y="635.56" color="#2166ac"/><use href="#h" x="114.85" y="635.56" color="#2166ac"/><use href="#h" x="127.20" y="635.56" color="#2166ac"/><use href="#h" x="139.55" y="635.56" color="#2166ac"/><use href="#h" x="151.90" y="635.56" color="#2166ac"/><use href="#h" x="164.25" y="635.56" color="#2266ac"/><use href="#h" x="176.60" y="635.56" color="#2267ac"/><use href="#h" x="188.95" y="635.56" color="#2468ad"/><use href="#h" x="201.30" y="635.56" color="#276aae"/><use href="#h" x="213.65" y="635.56" color="#2c6eb0"/><use href="#h" x="226.00" y="635.56" color="#3272b2"/><use href="#h" x="238.35" y="635.56" color="#3674b3"/><use href="#h" x="250.70" y="635.56" color="#3976b4"/><use href="#h" x="263.05" y="635.56" color="#3b78b5"/><use href="#h" x="275.40" y="635.56" color="#3d79b6"/><use href="#h" x="287.75" y="635.56" color="#3e7ab6"/><use href="#h" x="300.10" y="635.56" color="#3f7bb7"/><use href="#h" x="312.45" y="635.56" color="#407bb7"/><use href="#h" x="324.80" y="635.56" color="#417cb7"/><use href="#h" x="337.15" y="635.56" color="#427cb7"/><use href="#h" x="349.50" y="635.56" color="#427cb8"/><use href="#h" x="361.85" y="635.56" color="#427cb7"/><use href="#h" x="374.20" y="635.56" color="#417cb7"/><use href="#h" x="386.55" y="635.56" color="#407bb7"/><use href="#h" x="398.90" y="635.56" color="#3f7ab7"/><use href="#h" x="411.25" y="635.56" color="#3e79b6"/><use href="#h" x="423.60" y="635.56" color="#3c78b6"/><use href="#h" x="435.95" y="635.56" color="#3a77b5"/><use href="#h" x="448.30" y="635.56" color="#3875b4"/><use href="#h" x="460.65" y="635.56" color="#3473b2"/><use href="#h" x="473.00" y="635.56" color="#2d6eb0"/><use href="#h" x="485.35" y="635.56" color="#286aae"/><use href="#h" x="497.70" y="635.56" color="#2569ad"/><use href="#h" x="510.05" y="635.56" color="#2367ad"/><use href="#h" x="522.40" y="635.56" color="#2267ac"/><use href="#h" x="534.75" y="635.56" color="#2266ac"/><use href="#h" x="547.10" y="635.56" color="#2166ac"/><use href="#h" x="559.45" y="635.56" color="#2166ac"/><use href="#h" x="571.80" y="635.56" color="#2166ac"/><use href="#h" x="584.15" y="635.56" color="#2166ac"/><use href="#h" x="596.50" y="635.56" color="#2166ac"/><use href="#h" x="108.67" y="646.52" color="#2166ac"/><use href="#h" x="121.02" y="646.52" color="#2166ac"/><use href="#h" x="133.38" y="646.52" color="#2166ac"/><use href="#h" x="145.73" y="646.52" color="#2166ac"/><use href="#h" x="158.08" y="646.52" color="#2166ac"/><use href="#h" x="170.43" y="646.52" color="#2266ac"/><use href="#h" x="182.78" y="646.52" color="#2267ac"/><use href="#h" x="195.12" y="646.52" color="#2368ad"/><use href="#h" x="207.48" y="646.52" color="#2569ad"/><use href="#h" x="219.82" y="646.52" color="#286bae"/><use href="#h" x="232.18" y="646.52" color="#2b6caf"/><use href="#h" x="244.53" y="646.52" color="#2d6eb0"/><use href="#h" x="256.88" y="646.52" color="#2f70b1"/><use href="#h" x="269.22" y="646.52" color="#3271b2"/><use href="#h" x="281.57" y="646.52" color="#3372b2"/><use href="#h" x="293.93" y="646.52" color="#3573b3"/><use href="#h" x="306.28" y="646.52" color="#3674b3"/><use href="#h" x="318.62" y="646.52" color="#3775b4"/><use href="#h" x="330.97" y="646.52" color="#3875b4"/><use href="#h" x="343.32" y="646.52" color="#3876b4"/><use href="#h" x="355.68" y="646.52" color="#3876b4"/><use href="#h" x="368.02" y="646.52" color="#3875b4"/><use href="#h" x="380.38" y="646.52" color="#3775b4"/><use href="#h" x="392.73" y="646.52" color="#3674b3"/><use href="#h" x="405.07" y="646.52" color="#3573b3"/><use href="#h" x="417.43" y="646.52" color="#3372b2"/><use href="#h" x="429.77" y="646.52" color="#3171b2"/><use href="#h" x="442.12" y="646.52" color="#2f6fb1"/><use href="#h" x="454.48" y="646.52" color="#2c6eb0"/><use href="#h" x="466.82" y="646.52" color="#296baf"/><use href="#h" x="479.18" y="646.52" color="#2569ae"/><use href="#h" x="491.52" y="646.52" color="#2368ad"/><use href="#h" x="503.88" y="646.52" color="#2267ac"/><use href="#h" x="516.23" y="646.52" color="#2267ac"/><use href="#h" x="528.57" y="646.52" color="#2166ac"/><use href="#h" x="540.92" y="646.52" color="#2166ac"/><use href="#h" x="553.27" y="646.52" color="#2166ac"/><use href="#h" x="565.62" y="646.52" color="#2166ac"/><use href="#h" x="577.97" y="646.52" color="#2166ac"/><use href="#h" x="590.32" y="646.52" color="#2166ac"/><use href="#h" x="602.67" y="646.52" color="#2166ac"/><use href="#h" x="102.50" y="657.48" color="#2166ac"/><use href="#h" x="114.85" y="657.48" color="#2166ac"/><use href="#h" x="127.20" y="657.48" color="#2166ac"/><use href="#h" x="139.55" y="657.48" color="#2166ac"/><use href="#h" x="151.90" y="657.48" color="#2166ac"/><use href="#h" x="164.25" y="657.48" color="#2166ac"/><use href="#h" x="176.60" y="657.48" color="#2166ac"/><use href="#h" x="188.95" y="657.48" color="#2267ac"/><use href="#h" x="201.30" y="657.48" color="#2267ad"/><use href="#h" x="213.65" y="657.48" color="#2468ad"/><use href="#h" x="226.00" y="657.48" color="#2569ad"/><use href="#h" x="238.35" y="657.48" color="#266aae"/><use href="#h" x="250.70" y="657.48" color="#286baf"/><use href="#h" x="263.05" y="657.48" color="#2a6caf"/><use href="#h" x="275.40" y="657.48" color="#2c6db0"/><use href="#h" x="287.75" y="657.48" color="#2d6eb0"/><use href="#h" x="300.10" y="657.48" color="#2f6fb1"/><use href="#h" x="312.45" y="657.48" color="#3070b1"/><use href="#h" x="324.80" y="657.48" color="#3070b1"/><use href="#h" x="337.15" y="657.48" color="#3171b2"/><use href="#h" x="349.50" y="657.48" color="#3171b2"/><use href="#h" x="361.85" y="657.48" color="#3171b2"/><use href="#h" x="374.20" y="657.48" color="#3070b1"/><use href="#h" x="386.55" y="657.48" color="#3070b1"/><use href="#h" x="398.90" y="657.48" color="#2f6fb1"/><use href="#h" x="411.25" y="657.48" color="#2d6eb0"/><use href="#h" x="423.60" y="657.48" color="#2c6db0"/><use href="#h" x="435.95" y="657.48" color="#2a6caf"/><use href="#h" x="448.30" y="657.48" color="#286bae"/><use href="#h" x="460.65" y="657.48" color="#2669ae"/><use href="#h" x="473.00" y="657.48" color="#2468ad"/><use href="#h" x="485.35" y="657.48" color="#2367ad"/><use href="#h" x="497.70" y="657.48" color="#2267ac"/><use href="#h" x="510.05" y="657.48" color="#2266ac"/><use href="#h" x="522.40" y="657.48" color="#2166ac"/><use href="#h" x="534.75" y="657.48" color="#2166ac"/><use href="#h" x="547.10" y="657.48" color="#2166ac"/><use href="#h" x="559.45" y="657.48" color="#2166ac"/><use href="#h" x="571.80" y="657.48" color="#2166ac"/><use href="#h" x="584.15" y="657.48" color="#2166ac"/><use href="#h" x="596.50" y="657.48" color="#2166ac"/></g>
<g stroke="rgba(255,255,255,0.2)" stroke-width="0.8"><use href="#g" x="102.50" y="153.32"/><use href="#g" x="114.85" y="153.32"/><use href="#g" x="127.20" y="153.32"/><use href="#g" x="139.55" y="153.32"/><use href="#g" x="151.90" y="153.32"/><use href="#g" x="164.25" y="153.32"/><use href="#g" x="176.60" y="153.32"/><use href="#g" x="188.95" y="153.32"/><use href="#g" x="201.30" y="153.32"/><use href="#g" x="213.65" y="153.32"/><use href="#g" x="226.00" y="153.32"/><use href="#g" x="238.35" y="153.32"/><use href="#g" x="250.70" y="153.32"/><use href="#g" x="263.05" y="153.32"/><use href="#g" x="275.40" y="153.32"/><use href="#g" x="287.75" y="153.32"/><use href="#g" x="300.10" y="153.32"/><use href="#g" x="312.45" y="153.32"/><use href="#g" x="324.80" y="153.32"/><use href="#g" x="337.15" y="153.32"/><use href="#g" x="349.50" y="153.32"/><use href="#g" x="361.85" y="153.32"/><use href="#g" x="374.20" y="153.32"/><use href="#g" x="386.55" y="153.32"/><use href="#g" x="398.90" y="153.32"/><use href="#g" x="411.25" y="153.32"/><use href="#g" x="423.60" y="153.32"/><use href="#g" x="435.95" y="153.32"/><use href="#g" x="448.30" y="153.32"/><use href="#g" x="460.65" y="153.32"/><use href="#g" x="473.00" y="153.32"/><use href="#g" x="485.35" y="153.32"/><use href="#g" x="497.70" y="153.32"/><use href="#g" x="510.05" y="153.32"/><use href="#g" x="522.40" y="153.32"/><use href="#g" x="534.75" y="153.32"/><use href="#g" x="547.10" y="153.32"/><use href="#g" x="559.45" y="153.32"/><use href="#g" x="571.80" y="153.32"/><use href="#g" x="584.15" y="153.32"/><use href="#g" x="596.50" y="153.32"/><use href="#g" x="108.67" y="164.28"/><use href="#g" x="121.02" y="164.28"/><use href="#g" x="133.38" y="164.28"/><use href="#g" x="145.73" y="164.28"/><use href="#g" x="158.08" y="164.28"/><use href="#g" x="170.43" y="164.28"/><use href="#g" x="182.78" y="164.28"/><use href="#g" x="195.12" y="164.28"/><use href="#g" x="207.48" y="164.28"/><use href="#g" x="219.82" y="164.28"/><use href="#g" x="232.18" y="164.28"/><use href="#g" x="244.53" y="164.28"/><use href="#g" x="256.88" y="164.28"/><use href="#g" x="269.22" y="164.28"/><use href="#g" x="281.57" y="164.28"/><use href="#g" x="293.93" y="164.28"/><use href="#g" x="306.28" y="164.28"/><use href="#g" x="318.62" y="164.28"/><use href="#g" x="330.97" y="164.28"/><use href="#g" x="343.32" y="164.28"/><use href="#g" x="355.68" y="164.28"/><use href="#g" x="368.02" y="164.28"/><use href="#g" x="380.38" y="164.28"/><use href="#g" x="392.73" y="164.28"/><use href="#g" x="405.07" y="164.28"/><use href="#g" x="417.43" y="164.28"/><use href="#g" x="429.77" y="164.28"/><use href="#g" x="442.12" y="164.28"/><use href="#g" x="454.48" y="164.28"/><use href="#g" x="466.82" y="164.28"/><use href="#g" x="479.18" y="164.28"/><use href="#g" x="491.52" y="164.28"/><use href="#g" x="503.88" y="164.28"/><use href="#g" x="516.23" y="164.28"/><use href="#g" x="528.57" y="164.28"/><use href="#g" x="540.92" y="164.28"/><use href="#g" x="553.27" y="164.28"/><use href="#g" x="565.62" y="164.28"/><use href="#g" x="577.97" y="164.28"/><use href="#g" x="590.32" y="164.28"/><use href="#g" x="602.67" y="164.28"/><use href="#g" x="102.50" y="175.24"/><use href="#g" x="114.85" y="175.24"/><use href="#g" x="127.20" y="175.24"/><use href="#g" x="139.55" y="175.24"/><use href="#g" x="151.90" y="175.24"/><use href="#g" x="164.25" y="175.24"/><use href="#g" x="176.60" y="175.24"/><use href="#g" x="188.95" y="175.24"/><use href="#g" x="201.30" y="175.24"/><use href="#g" x="213.65" y="175.24"/><use href="#g" x="226.00" y="175.24"/><use href="#g" x="238.35" y="175.24"/><use href="#g" x="250.70" y="175.24"/><use href="#g" x="263.05" y="175.24"/><use href="#g" x="275.40" y="175.24"/><use href="#g" x="287.75" y="175.24"/><use href="#g" x="300.10" y="175.24"/><use href="#g" x="312.45" y="175.24"/><use href="#g" x="324.80" y="175.24"/><use href="#g" x="337.15" y="175.24"/><use href="#g" x="349.50" y="175.24"/><use href="#g" x="361.85" y="175.24"/><use href="#g" x="374.20" y="175.24"/><use href="#g" x="386.55" y="175.24"/><use href="#g" x="398.90" y="175.24"/><use href="#g" x="411.25" y="175.24"/><use href="#g" x="423.60" y="175.24"/><use href="#g" x="435.95" y="175.24"/><use href="#g" x="448.30" y="175.24"/><use href="#g" x="460.65" y="175.24"/><use href="#g" x="473.00" y="175.24"/><use href="#g" x="485.35" y="175.24"/><use href="#g" x="497.70" y="175.24"/><use href="#g" x="510.05" y="175.24"/><use href="#g" x="522.40" y="175.24"/><use href="#g" x="534.75" y="175.24"/><use href="#g" x="547.10" y="175.24"/><use href="#g" x="559.45" y="175.24"/><use href="#g" x="571.80" y="175.24"/><use href="#g" x="584.15" y="175.24"/><use href="#g" x="596.50" y="175.24"/><use href="#g" x="108.67" y="186.20"/><use href="#g" x="121.02" y="186.20"/><use href="#g" x="133.38" y="186.20"/><use href="#g" x="145.73" y="186.20"/><use href="#g" x="158.08" y="186.20"/><use href="#g" x="170.43" y="186.20"/><use href="#g" x="182.78" y="186.20"/><use href="#g" x="195.12" y="186.20"/><use href="#g" x="207.48" y="186.20"/><use href="#g" x="219.82" y="186.20"/><use href="#g" x="232.18" y="186.20"/><use href="#g" x="244.53" y="186.20"/><use href="#g" x="256.88" y="186.20"/><use href="#g" x="269.22" y="186.20"/><use href="#g" x="281.57" y="186.20"/><use href="#g" x="293.93" y="186.20"/><use href="#g" x="306.28" y="186.20"/><use href="#g" x="318.62" y="186.20"/><use href="#g" x="330.97" y="186.20"/><use href="#g" x="343.32" y="186.20"/><use href="#g" x="355.68" y="186.20"/><use href="#g" x="368.02" y="186.20"/><use href="#g" x="380.38" y="186.20"/><use href="#g" x="392.73" y="186.20"/><use href="#g" x="405.07" y="186.20"/><use href="#g" x="417.43" y="186.20"/><use href="#g" x="429.77" y="186.20"/><use href="#g" x="442.12" y="186.20"/><use href="#g" x="454.48" y="186.20"/><use href="#g" x="466.82" y="186.20"/><use href="#g" x="479.18" y="186.20"/><use href="#g" x="491.52" y="186.20"/><use href="#g" x="503.88" y="186.20"/><use href="#g" x="516.23" y="186.20"/><use href="#g" x="528.57" y="186.20"/><use href="#g" x="540.92" y="186.20"/><use href="#g" x="553.27" y="186.20"/><use href="#g" x="565.62" y="186.20"/><use href="#g" x="577.97" y="186.20"/><use href="#g" x="590.32" y="186.20"/><use href="#g" x="602.67" y="186.20"/><use href="#g" x="102.50" y="197.16"/><use href="#g" x="114.85" y="197.16"/><use href="#g" x="127.20" y="197.16"/><use href="#g" x="139.55" y="197.16"/><use href="#g" x="151.90" y="197.16"/><use href="#g" x="164.25" y="197.16"/><use href="#g" x="176.60" y="197.16"/><use href="#g" x="188.95" y="197.16"/><use href="#g" x="201.30" y="197.16"/><use href="#g" x="213.65" y="197.16"/><use href="#g" x="226.00" y="197.16"/><use href="#g" x="238.35" y="197.16"/><use href="#g" x="250.70" y="197.16"/><use href="#g" x="263.05" y="197.16"/><use href="#g" x="275.40" y="197.16"/><use href="#g" x="287.75" y="197.16"/><use href="#g" x="300.10" y="197.16"/><use href="#g" x="312.45" y="197.16"/><use href="#g" x="324.80" y="197.16"/><use href="#g" x="337.15" y="197.16"/><use href="#g" x="349.50" y="197.16"/><use href="#g" x="361.85" y="197.16"/><use href="#g" x="374.20" y="197.16"/><use href="#g" x="386.55" y="197.16"/><use href="#g" x="398.90" y="197.16"/><use href="#g" x="411.25" y="197.16"/><use href="#g" x="423.60" y="197.16"/><use href="#g" x="435.95" y="197.16"/><use href="#g" x="448.30" y="197.16"/><use href="#g" x="460.65" y="197.16"/><use href="#g" x="473.00" y="197.16"/><use href="#g" x="485.35" y="197.16"/><use href="#g" x="497.70" y="197.16"/><use href="#g" x="510.05" y="197.16"/><use href="#g" x="522.40" y="197.16"/><use href="#g" x="534.75" y="197.16"/><use href="#g" x="547.10" y="197.16"/><use href="#g" x="559.45" y="197.16"/><use href="#g" x="571.80" y="197.16"/><use href="#g" x="584.15" y="197.16"/><use href="#g" x="596.50" y="197.16"/><use href="#g" x="108.67" y="208.12"/><use href="#g" x="121.02" y="208.12"/><use href="#g" x="133.38" y="208.12"/><use href="#g" x="145.73" y="208.12"/><use href="#g" x="158.08" y="208.12"/><use href="#g" x="170.43" y="208.12"/><use href="#g" x="182.78" y="208.12"/><use href="#g" x="195.12" y="208.12"/><use href="#g" x="207.48" y="208.12"/><use href="#g" x="219.82" y="208.12"/><use href="#g" x="232.18" y="208.12"/><use href="#g" x="244.53" y="208.12"/><use href="#g" x="256.88" y="208.12"/><use href="#g" x="269.22" y="208.12"/><use href="#g" x="281.57" y="208.12"/><use href="#g" x="293.93" y="208.12"/><use href="#g" x="306.28" y="208.12"/><use href="#g" x="318.62" y="208.12"/><use href="#g" x="330.97" y="208.12"/><use href="#g" x="343.32" y="208.12"/><use href="#g" x="355.68" y="208.12"/><use href="#g" x="368.02" y="208.12"/><use href="#g" x="380.38" y="208.12"/><use href="#g" x="392.73" y="208.12"/><use href="#g" x="405.07" y="208.12"/><use href="#g" x="417.43" y="208.12"/><use href="#g" x="429.77" y="208.12"/><use href="#g" x="442.12" y="208.12"/><use href="#g" x="454.48" y="208.12"/><use href="#g" x="466.82" y="208.12"/><use href="#g" x="479.18" y="208.12"/><use href="#g" x="491.52" y="208.12"/><use href="#g" x="503.88" y="208.12"/><use href="#g" x="516.23" y="208.12"/><use href="#g" x="528.57" y="208.12"/><use href="#g" x="540.92" y="208.12"/><use href="#g" x="553.27" y="208.12"/><use href="#g" x="565.62" y="208.12"/><use href="#g" x="577.97" y="208.12"/><use href="#g" x="590.32" y="208.12"/><use href="#g" x="602.67" y="208.12"/><use href="#g" x="102.50" y="219.08"/><use href="#g" x="114.85" y="219.08"/><use href="#g" x="127.20" y="219.08"/><use href="#g" x="139.55" y="219.08"/><use href="#g" x="151.90" y="219.08"/><use href="#g" x="164.25" y="219.08"/><use href="#g" x="176.60" y="219.08"/><use href="#g" x="188.95" y="219.08"/><use href="#g" x="201.30" y="219.08"/><use href="#g" x="213.65" y="219.08"/><use href="#g" x="226.00" y="219.08"/><use href="#g" x="238.35" y="219.08"/><use href="#g" x="250.70" y="219.08"/><use href="#g" x="263.05" y="219.08"/><use href="#g" x="275.40" y="219.08"/><use href="#g" x="287.75" y="219.08"/><use href="#g" x="300.10" y="219.08"/><use href="#g" x="312.45" y="219.08"/><use href="#g" x="324.80" y="219.08"/><use href="#g" x="337.15" y="219.08"/><use href="#g" x="349.50" y="219.08"/><use href="#g" x="361.85" y="219.08"/><use href="#g" x="374.20" y="219.08"/><use href="#g" x="386.55" y="219.08"/><use href="#g" x="398.90" y="219.08"/><use href="#g" x="411.25" y="219.08"/><use href="#g" x="423.60" y="219.08"/><use href="#g" x="435.95" y="219.08"/><use href="#g" x="448.30" y="219.08"/><use href="#g" x="460.65" y="219.08"/><use href="#g" x="473.00" y="219.08"/><use href="#g" x="485.35" y="219.08"/><use href="#g" x="497.70" y="219.08"/><use href="#g" x="510.05" y="219.08"/><use href="#g" x="522.40" y="219.08"/><use href="#g" x="534.75" y="219.08"/><use href="#g" x="547.10" y="219.08"/><use href="#g" x="559.45" y="219.08"/><use href="#g" x="571.80" y="219.08"/><use href="#g" x="584.15" y="219.08"/><use href="#g" x="596.50" y="219.08"/><use href="#g" x="108.67" y="230.04"/><use href="#g" x="121.02" y="230.04"/><use href="#g" x="133.38" y="230.04"/><use href="#g" x="145.73" y="230.04"/><use href="#g" x="158.08" y="230.04"/><use href="#g" x="170.43" y="230.04"/><use href="#g" x="182.78" y="230.04"/><use href="#g" x="195.12" y="230.04"/><use href="#g" x="207.48" y="230.04"/><use href="#g" x="219.82" y="230.04"/><use href="#g" x="232.18" y="230.04"/><use href="#g" x="244.53" y="230.04"/><use href="#g" x="256.88" y="230.04"/><use href="#g" x="269.22" y="230.04"/><use href="#g" x="281.57" y="230.04"/><use href="#g" x="293.93" y="230.04"/><use href="#g" x="306.28" y="230.04"/><use href="#g" x="318.62" y="230.04"/><use href="#g" x="330.97" y="230.04"/><use href="#g" x="343.32" y="230.04"/><use href="#g" x="355.68" y="230.04"/><use href="#g" x="368.02" y="230.04"/><use href="#g" x="380.38" y="230.04"/><use href="#g" x="392.73" y="230.04"/><use href="#g" x="405.07" y="230.04"/><use href="#g" x="417.43" y="230.04"/><use href="#g" x="429.77" y="230.04"/><use href="#g" x="442.12" y="230.04"/><use href="#g" x="454.48" y="230.04"/><use href="#g" x="466.82" y="230.04"/><use href="#g" x="479.18" y="230.04"/><use href="#g" x="491.52" y="230.04"/><use href="#g" x="503.88" y="230.04"/><use href="#g" x="516.23" y="230.04"/><use href="#g" x="528.57" y="230.04"/><use href="#g" x="540.92" y="230.04"/><use href="#g" x="553.27" y="230.04"/><use href="#g" x="565.62" y="230.04"/><use href="#g" x="577.97" y="230.04"/><use href="#g" x="590.32" y="230.04"/><use href="#g" x="602.67" y="230.04"/><use href="#g" x="102.50" y="241.00"/><use href="#g" x="114.85" y="241.00"/><use href="#g" x="127.20" y="241.00"/><use href="#g" x="139.55" y="241.00"/><use href="#g" x="151.90" y="241.00"/><use href="#g" x="164.25" y="241.00"/><use href="#g" x="176.60" y="241.00"/><use href="#g" x="188.95" y="241.00"/><use href="#g" x="201.30" y="241.00"/><use href="#g" x="213.65" y="241.00"/><use href="#g" x="226.00" y="241.00"/><use href="#g" x="238.35" y="241.00"/><use href="#g" x="250.70" y="241.00"/><use href="#g" x="263.05" y="241.00"/><use href="#g" x="275.40" y="241.00"/><use href="#g" x="287.75" y="241.00"/><use href="#g" x="300.10" y="241.00"/><use href="#g" x="312.45" y="241.00"/><use href="#g" x="324.80" y="241.00"/><use href="#g" x="337.15" y="241.00"/><use href="#g" x="349.50" y="241.00"/><use href="#g" x="361.85" y="241.00"/><use href="#g" x="374.20" y="241.00"/><use href="#g" x="386.55" y="241.00"/><use href="#g" x="398.90" y="241.00"/><use href="#g" x="411.25" y="241.00"/><use href="#g" x="423.60" y="241.00"/><use href="#g" x="435.95" y="241.00"/><use href="#g" x="448.30" y="241.00"/><use href="#g" x="460.65" y="241.00"/><use href="#g" x="473.00" y="241.00"/><use href="#g" x="485.35" y="241.00"/><use href="#g" x="497.70" y="241.00"/><use href="#g" x="510.05" y="241.00"/><use href="#g" x="522.40" y="241.00"/><use href="#g" x="534.75" y="241.00"/><use href="#g" x="547.10" y="241.00"/><use href="#g" x="559.45" y="241.00"/><use href="#g" x="571.80" y="241.00"/><use href="#g" x="584.15" y="241.00"/><use href="#g" x="596.50" y="241.00"/><use href="#g" x="108.67" y="251.96"/><use href="#g" x="121.02" y="251.96"/><use href="#g" x="133.38" y="251.96"/><use href="#g" x="145.73" y="251.96"/><use href="#g" x="158.08" y="251.96"/><use href="#g" x="170.43" y="251.96"/><use href="#g" x="182.78" y="251.96"/><use href="#g" x="195.12" y="251.96"/><use href="#g" x="207.48" y="251.96"/><use href="#g" x="219.82" y="251.96"/><use href="#g" x="232.18" y="251.96"/><use href="#g" x="244.53" y="251.96"/><use href="#g" x="256.88" y="251.96"/><use href="#g" x="269.22" y="251.96"/><use href="#g" x="281.57" y="251.96"/><use href="#g" x="293.93" y="251.96"/><use href="#g" x="306.28" y="251.96"/><use href="#g" x="318.62" y="251.96"/><use href="#g" x="330.97" y="251.96"/><use href="#g" x="343.32" y="251.96"/><use href="#g" x="355.68" y="251.96"/><use href="#g" x="368.02" y="251.96"/><use href="#g" x="380.38" y="251.96"/><use href="#g" x="392.73" y="251.96"/><use href="#g" x="405.07" y="251.96"/><use href="#g" x="417.43" y="251.96"/><use href="#g" x="429.77" y="251.96"/><use href="#g" x="442.12" y="251.96"/><use href="#g" x="454.48" y="251.96"/><use href="#g" x="466.82" y="251.96"/><use href="#g" x="479.18" y="251.96"/><use href="#g" x="491.52" y="251.96"/><use href="#g" x="503.88" y="251.96"/><use href="#g" x="516.23" y="251.96"/><use href="#g" x="528.57" y="251.96"/><use href="#g" x="540.92" y="251.96"/><use href="#g" x="553.27" y="251.96"/><use href="#g" x="565.62" y="251.96"/><use href="#g" x="577.97" y="251.96"/><use href="#g" x="590.32" y="251.96"/><use href="#g" x="602.67" y="251.96"/><use href="#g" x="102.50" y="262.92"/><use href="#g" x="114.85" y="262.92"/><use href="#g" x="127.20" y="262.92"/><use href="#g" x="139.55" y="262.92"/><use href="#g" x="151.90" y="262.92"/><use href="#g" x="164.25" y="262.92"/><use href="#g" x="176.60" y="262.92"/><use href="#g" x="188.95" y="262.92"/><use href="#g" x="201.30" y="262.92"/><use href="#g" x="213.65" y="262.92"/><use href="#g" x="226.00" y="262.92"/><use href="#g" x="238.35" y="262.92"/><use href="#g" x="250.70" y="262.92"/><use href="#g" x="263.05" y="262.92"/><use href="#g" x="275.40" y="262.92"/><use href="#g" x="287.75" y="262.92"/><use href="#g" x="300.10" y="262.92"/><use href="#g" x="312.45" y="262.92"/><use href="#g" x="324.80" y="262.92"/><use href="#g" x="337.15" y="262.92"/><use href="#g" x="349.50" y="262.92"/><use href="#g" x="361.85" y="262.92"/><use href="#g" x="374.20" y="262.92"/><use href="#g" x="386.55" y="262.92"/><use href="#g" x="398.90" y="262.92"/><use href="#g" x="411.25" y="262.92"/><use href="#g" x="423.60" y="262.92"/><use href="#g" x="435.95" y="262.92"/><use href="#g" x="448.30" y="262.92"/><use href="#g" x="460.65" y="262.92"/><use href="#g" x="473.00" y="262.92"/><use href="#g" x="485.35" y="262.92"/><use href="#g" x="497.70" y="262.92"/><use href="#g" x="510.05" y="262.92"/><use href="#g" x="522.40" y="262.92"/><use href="#g" x="534.75" y="262.92"/><use href="#g" x="547.10" y="262.92"/><use href="#g" x="559.45" y="262.92"/><use href="#g" x="571.80" y="262.92"/><use href="#g" x="584.15" y="262.92"/><use href="#g" x="596.50" y="262.92"/><use href="#g" x="108.67" y="273.88"/><use href="#g" x="121.02" y="273.88"/><use href="#g" x="133.38" y="273.88"/><use href="#g" x="145.73" y="273.88"/><use href="#g" x="158.08" y="273.88"/><use href="#g" x="170.43" y="273.88"/><use href="#g" x="182.78" y="273.88"/><use href="#g" x="195.12" y="273.88"/><use href="#g" x="207.48" y="273.88"/><use href="#g" x="219.82" y="273.88"/><use href="#g" x="232.18" y="273.88"/><use href="#g" x="244.53" y="273.88"/><use href="#g" x="256.88" y="273.88"/><use href="#g" x="269.22" y="273.88"/><use href="#g" x="281.57" y="273.88"/><use href="#g" x="293.93" y="273.88"/><use href="#g" x="306.28" y="273.88"/><use href="#g" x="318.62" y="273.88"/><use href="#g" x="330.97" y="273.88"/><use href="#g" x="343.32" y="273.88"/><use href="#g" x="355.68" y="273.88"/><use href="#g" x="368.02" y="273.88"/><use href="#g" x="380.38" y="273.88"/><use href="#g" x="392.73" y="273.88"/><use href="#g" x="405.07" y="273.88"/><use href="#g" x="417.43" y="273.88"/><use href="#g" x="429.77" y="273.88"/><use href="#g" x="442.12" y="273.88"/><use href="#g" x="454.48" y="273.88"/><use href="#g" x="466.82" y="273.88"/><use href="#g" x="479.18" y="273.88"/><use href="#g" x="491.52" y="273.88"/><use href="#g" x="503.88" y="273.88"/><use href="#g" x="516.23" y="273.88"/><use href="#g" x="528.57" y="273.88"/><use href="#g" x="540.92" y="273.88"/><use href="#g" x="553.27" y="273.88"/><use href="#g" x="565.62" y="273.88"/><use href="#g" x="577.97" y="273.88"/><use href="#g" x="590.32" y="273.88"/><use href="#g" x="602.67" y="273.88"/><use href="#g" x="102.50" y="284.84"/><use href="#g" x="114.85" y="284.84"/><use href="#g" x="127.20" y="284.84"/><use href="#g" x="139.55" y="284.84"/><use href="#g" x="151.90" y="284.84"/><use href="#g" x="164.25" y="284.84"/><use href="#g" x="176.60" y="284.84"/><use href="#g" x="188.95" y="284.84"/><use href="#g" x="201.30" y="284.84"/><use href="#g" x="213.65" y="284.84"/><use href="#g" x="226.00" y="284.84"/><use href="#g" x="238.35" y="284.84"/><use href="#g" x="250.70" y="284.84"/><use href="#g" x="263.05" y="284.84"/><use href="#g" x="275.40" y="284.84"/><use href="#g" x="287.75" y="284.84"/><use href="#g" x="300.10" y="284.84"/><use href="#g" x="312.45" y="284.84"/><use href="#g" x="324.80" y="284.84"/><use href="#g" x="337.15" y="284.84"/><use href="#g" x="349.50" y="284.84"/><use href="#g" x="361.85" y="284.84"/><use href="#g" x="374.20" y="284.84"/><use href="#g" x="386.55" y="284.84"/><use href="#g" x="398.90" y="284.84"/><use href="#g" x="411.25" y="284.84"/><use href="#g" x="423.60" y="284.84"/><use href="#g" x="435.95" y="284.84"/><use href="#g" x="448.30" y="284.84"/><use href="#g" x="460.65" y="284.84"/><use href="#g" x="473.00" y="284.84"/><use href="#g" x="485.35" y="284.84"/><use href="#g" x="497.70" y="284.84"/><use href="#g" x="510.05" y="284.84"/><use href="#g" x="522.40" y="284.84"/><use href="#g" x="534.75" y="284.84"/><use href="#g" x="547.10" y="284.84"/><use href="#g" x="559.45" y="284.84"/><use href="#g" x="571.80" y="284.84"/><use href="#g" x="584.15" y="284.84"/><use href="#g" x="596.50" y="284.84"/><use href="#g" x="108.67" y="295.80"/><use href="#g" x="121.02" y="295.80"/><use href="#g" x="133.38" y="295.80"/><use href="#g" x="145.73" y="295.80"/><use href="#g" x="158.08" y="295.80"/><use href="#g" x="170.43" y="295.80"/><use href="#g" x="182.78" y="295.80"/><use href="#g" x="195.12" y="295.80"/><use href="#g" x="207.48" y="295.80"/><use href="#g" x="219.82" y="295.80"/><use href="#g" x="232.18" y="295.80"/><use href="#g" x="244.53" y="295.80"/><use href="#g" x="256.88" y="295.80"/><use href="#g" x="269.22" y="295.80"/><use href="#g" x="281.57" y="295.80"/><use href="#g" x="293.93" y="295.80"/><use href="#g" x="306.28" y="295.80"/><use href="#g" x="318.62" y="295.80"/><use href="#g" x="330.97" y="295.80"/><use href="#g" x="343.32" y="295.80"/><use href="#g" x="355.68" y="295.80"/><use href="#g" x="368.02" y="295.80"/><use href="#g" x="380.38" y="295.80"/><use href="#g" x="392.73" y="295.80"/><use href="#g" x="405.07" y="295.80"/><use href="#g" x="417.43" y="295.80"/><use href="#g" x="429.77" y="295.80"/><use href="#g" x="442.12" y="295.80"/><use href="#g" x="454.48" y="295.80"/><use href="#g" x="466.82" y="295.80"/><use href="#g" x="479.18" y="295.80"/><use href="#g" x="491.52" y="295.80"/><use href="#g" x="503.88" y="295.80"/><use href="#g" x="516.23" y="295.80"/><use href="#g" x="528.57" y="295.80"/><use href="#g" x="540.92" y="295.80"/><use href="#g" x="553.27" y="295.80"/><use href="#g" x="565.62" y="295.80"/><use href="#g" x="577.97" y="295.80"/><use href="#g" x="590.32" y="295.80"/><use href="#g" x="602.67" y="295.80"/><use href="#g" x="102.50" y="306.76"/><use href="#g" x="114.85" y="306.76"/><use href="#g" x="127.20" y="306.76"/><use href="#g" x="139.55" y="306.76"/><use href="#g" x="151.90" y="306.76"/><use href="#g" x="164.25" y="306.76"/><use href="#g" x="176.60" y="306.76"/><use href="#g" x="188.95" y="306.76"/><use href="#g" x="201.30" y="306.76"/><use href="#g" x="213.65" y="306.76"/><use href="#g" x="226.00" y="306.76"/><use href="#g" x="238.35" y="306.76"/><use href="#g" x="250.70" y="306.76"/><use href="#g" x="263.05" y="306.76"/><use href="#g" x="275.40" y="306.76"/><use href="#g" x="287.75" y="306.76"/><use href="#g" x="300.10" y="306.76"/><use href="#g" x="312.45" y="306.76"/><use href="#g" x="324.80" y="306.76"/><use href="#g" x="337.15" y="306.76"/><use href="#g" x="349.50" y="306.76"/><use href="#g" x="361.85" y="306.76"/><use href="#g" x="374.20" y="306.76"/><use href="#g" x="386.55" y="306.76"/><use href="#g" x="398.90" y="306.76"/><use href="#g" x="411.25" y="306.76"/><use href="#g" x="423.60" y="306.76"/><use href="#g" x="435.95" y="306.76"/><use href="#g" x="448.30" y="306.76"/><use href="#g" x="460.65" y="306.76"/><use href="#g" x="473.00" y="306.76"/><use href="#g" x="485.35" y="306.76"/><use href="#g" x="497.70" y="306.76"/><use href="#g" x="510.05" y="306.76"/><use href="#g" x="522.40" y="306.76"/><use href="#g" x="534.75" y="306.76"/><use href="#g" x="547.10" y="306.76"/><use href="#g" x="559.45" y="306.76"/><use href="#g" x="571.80" y="306.76"/><use href="#g" x="584.15" y="306.76"/><use href="#g" x="596.50" y="306.76"/><use href="#g" x="108.67" y="317.72"/><use href="#g" x="121.02" y="317.72"/><use href="#g" x="133.38" y="317.72"/><use href="#g" x="145.73" y="317.72"/><use href="#g" x="158.08" y="317.72"/><use href="#g" x="170.43" y="317.72"/><use href="#g" x="182.78" y="317.72"/><use href="#g" x="195.12" y="317.72"/><use href="#g" x="207.48" y="317.72"/><use href="#g" x="219.82" y="317.72"/><use href="#g" x="232.18" y="317.72"/><use href="#g" x="244.53" y="317.72"/><use href="#g" x="256.88" y="317.72"/><use href="#g" x="269.22" y="317.72"/><use href="#g" x="281.57" y="317.72"/><use href="#g" x="293.93" y="317.72"/><use href="#g" x="306.28" y="317.72"/><use href="#g" x="318.62" y="317.72"/><use href="#g" x="330.97" y="317.72"/><use href="#g" x="343.32" y="317.72"/><use href="#g" x="355.68" y="317.72"/><use href="#g" x="368.02" y="317.72"/><use href="#g" x="380.38" y="317.72"/><use href="#g" x="392.73" y="317.72"/><use href="#g" x="405.07" y="317.72"/><use href="#g" x="417.43" y="317.72"/><use href="#g" x="429.77" y="317.72"/><use href="#g" x="442.12" y="317.72"/><use href="#g" x="454.48" y="317.72"/><use href="#g" x="466.82" y="317.72"/><use href="#g" x="479.18" y="317.72"/><use href="#g" x="491.52" y="317.72"/><use href="#g" x="503.88" y="317.72"/><use href="#g" x="516.23" y="317.72"/><use href="#g" x="528.57" y="317.72"/><use href="#g" x="540.92" y="317.72"/><use href="#g" x="553.27" y="317.72"/><use href="#g" x="565.62" y="317.72"/><use href="#g" x="577.97" y="317.72"/><use href="#g" x="590.32" y="317.72"/><use href="#g" x="602.67" y="317.72"/><use href="#g" x="102.50" y="328.68"/><use href="#g" x="114.85" y="328.68"/><use href="#g" x="127.20" y="328.68"/><use href="#g" x="139.55" y="328.68"/><use href="#g" x="151.90" y="328.68"/><use href="#g" x="164.25" y="328.68"/><use href="#g" x="176.60" y="328.68"/><use href="#g" x="188.95" y="328.68"/><use href="#g" x="201.30" y="328.68"/><use href="#g" x="213.65" y="328.68"/><use href="#g" x="226.00" y="328.68"/><use href="#g" x="238.35" y="328.68"/><use href="#g" x="250.70" y="328.68"/><use href="#g" x="263.05" y="328.68"/><use href="#g" x="275.40" y="328.68"/><use href="#g" x="287.75" y="328.68"/><use href="#g" x="300.10" y="328.68"/><use href="#g" x="312.45" y="328.68"/><use href="#g" x="324.80" y="328.68"/><use href="#g" x="337.15" y="328.68"/><use href="#g" x="349.50" y="328.68"/><use href="#g" x="361.85" y="328.68"/><use href="#g" x="374.20" y="328.68"/><use href="#g" x="386.55" y="328.68"/><use href="#g" x="398.90" y="328.68"/><use href="#g" x="411.25" y="328.68"/><use href="#g" x="423.60" y="328.68"/><use href="#g" x="435.95" y="328.68"/><use href="#g" x="448.30" y="328.68"/><use href="#g" x="460.65" y="328.68"/><use href="#g" x="473.00" y="328.68"/><use href="#g" x="485.35" y="328.68"/><use href="#g" x="497.70" y="328.68"/><use href="#g" x="510.05" y="328.68"/><use href="#g" x="522.40" y="328.68"/><use href="#g" x="534.75" y="328.68"/><use href="#g" x="547.10" y="328.68"/><use href="#g" x="559.45" y="328.68"/><use href="#g" x="571.80" y="328.68"/><use href="#g" x="584.15" y="328.68"/><use href="#g" x="596.50" y="328.68"/><use href="#g" x="108.67" y="339.64"/><use href="#g" x="121.02" y="339.64"/><use href="#g" x="133.38" y="339.64"/><use href="#g" x="145.73" y="339.64"/><use href="#g" x="158.08" y="339.64"/><use href="#g" x="170.43" y="339.64"/><use href="#g" x="182.78" y="339.64"/><use href="#g" x="195.12" y="339.64"/><use href="#g" x="207.48" y="339.64"/><use href="#g" x="219.82" y="339.64"/><use href="#g" x="232.18" y="339.64"/><use href="#g" x="244.53" y="339.64"/><use href="#g" x="256.88" y="339.64"/><use href="#g" x="269.22" y="339.64"/><use href="#g" x="281.57" y="339.64"/><use href="#g" x="293.93" y="339.64"/><use href="#g" x="306.28" y="339.64"/><use href="#g" x="318.62" y="339.64"/><use href="#g" x="330.97" y="339.64"/><use href="#g" x="343.32" y="339.64"/><use href="#g" x="355.68" y="339.64"/><use href="#g" x="368.02" y="339.64"/><use href="#g" x="380.38" y="339.64"/><use href="#g" x="392.73" y="339.64"/><use href="#g" x="405.07" y="339.64"/><use href="#g" x="417.43" y="339.64"/><use href="#g" x="429.77" y="339.64"/><use href="#g" x="442.12" y="339.64"/><use href="#g" x="454.48" y="339.64"/><use href="#g" x="466.82" y="339.64"/><use href="#g" x="479.18" y="339.64"/><use href="#g" x="491.52" y="339.64"/><use href="#g" x="503.88" y="339.64"/><use href="#g" x="516.23" y="339.64"/><use href="#g" x="528.57" y="339.64"/><use href="#g" x="540.92" y="339.64"/><use href="#g" x="553.27" y="339.64"/><use href="#g" x="565.62" y="339.64"/><use href="#g" x="577.97" y="339.64"/><use href="#g" x="590.32" y="339.64"/><use href="#g" x="602.67" y="339.64"/><use href="#g" x="102.50" y="350.60"/><use href="#g" x="114.85" y="350.60"/><use href="#g" x="127.20" y="350.60"/><use href="#g" x="139.55" y="350.60"/><use href="#g" x="151.90" y="350.60"/><use href="#g" x="164.25" y="350.60"/><use href="#g" x="176.60" y="350.60"/><use href="#g" x="188.95" y="350.60"/><use href="#g" x="201.30" y="350.60"/><use href="#g" x="213.65" y="350.60"/><use href="#g" x="226.00" y="350.60"/><use href="#g" x="238.35" y="350.60"/><use href="#g" x="250.70" y="350.60"/><use href="#g" x="263.05" y="350.60"/><use href="#g" x="275.40" y="350.60"/><use href="#g" x="287.75" y="350.60"/><use href="#g" x="300.10" y="350.60"/><use href="#g" x="312.45" y="350.60"/><use href="#g" x="324.80" y="350.60"/><use href="#g" x="337.15" y="350.60"/><use href="#g" x="349.50" y="350.60"/><use href="#g" x="361.85" y="350.60"/><use href="#g" x="374.20" y="350.60"/><use href="#g" x="386.55" y="350.60"/><use href="#g" x="398.90" y="350.60"/><use href="#g" x="411.25" y="350.60"/><use href="#g" x="423.60" y="350.60"/><use href="#g" x="435.95" y="350.60"/><use href="#g" x="448.30" y="350.60"/><use href="#g" x="460.65" y="350.60"/><use href="#g" x="473.00" y="350.60"/><use href="#g" x="485.35" y="350.60"/><use href="#g" x="497.70" y="350.60"/><use href="#g" x="510.05" y="350.60"/><use href="#g" x="522.40" y="350.60"/><use href="#g" x="534.75" y="350.60"/><use href="#g" x="547.10" y="350.60"/><use href="#g" x="559.45" y="350.60"/><use href="#g" x="571.80" y="350.60"/><use href="#g" x="584.15" y="350.60"/><use href="#g" x="596.50" y="350.60"/><use href="#g" x="108.67" y="361.56"/><use href="#g" x="121.02" y="361.56"/><use href="#g" x="133.38" y="361.56"/><use href="#g" x="145.73" y="361.56"/><use href="#g" x="158.08" y="361.56"/><use href="#g" x="170.43" y="361.56"/><use href="#g" x="182.78" y="361.56"/><use href="#g" x="195.12" y="361.56"/><use href="#g" x="207.48" y="361.56"/><use href="#g" x="219.82" y="361.56"/><use href="#g" x="232.18" y="361.56"/><use href="#g" x="244.53" y="361.56"/><use href="#g" x="256.88" y="361.56"/><use href="#g" x="269.22" y="361.56"/><use href="#g" x="281.57" y="361.56"/><use href="#g" x="293.93" y="361.56"/><use href="#g" x="306.28" y="361.56"/><use href="#g" x="318.62" y="361.56"/><use href="#g" x="330.97" y="361.56"/><use href="#g" x="343.32" y="361.56"/><use href="#g" x="355.68" y="361.56"/><use href="#g" x="368.02" y="361.56"/><use href="#g" x="380.38" y="361.56"/><use href="#g" x="392.73" y="361.56"/><use href="#g" x="405.07" y="361.56"/><use href="#g" x="417.43" y="361.56"/><use href="#g" x="429.77" y="361.56"/><use href="#g" x="442.12" y="361.56"/><use href="#g" x="454.48" y="361.56"/><use href="#g" x="466.82" y="361.56"/><use href="#g" x="479.18" y="361.56"/><use href="#g" x="491.52" y="361.56"/><use href="#g" x="503.88" y="361.56"/><use href="#g" x="516.23" y="361.56"/><use href="#g" x="528.57" y="361.56"/><use href="#g" x="540.92" y="361.56"/><use href="#g" x="553.27" y="361.56"/><use href="#g" x="565.62" y="361.56"/><use href="#g" x="577.97" y="361.56"/><use href="#g" x="590.32" y="361.56"/><use href="#g" x="602.67" y="361.56"/><use href="#g" x="102.50" y="372.52"/><use href="#g" x="114.85" y="372.52"/><use href="#g" x="127.20" y="372.52"/><use href="#g" x="139.55" y="372.52"/><use href="#g" x="151.90" y="372.52"/><use href="#g" x="164.25" y="372.52"/><use href="#g" x="176.60" y="372.52"/><use href="#g" x="188.95" y="372.52"/><use href="#g" x="201.30" y="372.52"/><use href="#g" x="213.65" y="372.52"/><use href="#g" x="226.00" y="372.52"/><use href="#g" x="238.35" y="372.52"/><use href="#g" x="250.70" y="372.52"/><use href="#g" x="263.05" y="372.52"/><use href="#g" x="275.40" y="372.52"/><use href="#g" x="287.75" y="372.52"/><use href="#g" x="300.10" y="372.52"/><use href="#g" x="312.45" y="372.52"/><use href="#g" x="324.80" y="372.52"/><use href="#g" x="337.15" y="372.52"/><use href="#g" x="349.50" y="372.52"/><use href="#g" x="361.85" y="372.52"/><use href="#g" x="374.20" y="372.52"/><use href="#g" x="386.55" y="372.52"/><use href="#g" x="398.90" y="372.52"/><use href="#g" x="411.25" y="372.52"/><use href="#g" x="423.60" y="372.52"/><use href="#g" x="435.95" y="372.52"/><use href="#g" x="448.30" y="372.52"/><use href="#g" x="460.65" y="372.52"/><use href="#g" x="473.00" y="372.52"/><use href="#g" x="485.35" y="372.52"/><use href="#g" x="497.70" y="372.52"/><use href="#g" x="510.05" y="372.52"/><use href="#g" x="522.40" y="372.52"/><use href="#g" x="534.75" y="372.52"/><use href="#g" x="547.10" y="372.52"/><use href="#g" x="559.45" y="372.52"/><use href="#g" x="571.80" y="372.52"/><use href="#g" x="584.15" y="372.52"/><use href="#g" x="596.50" y="372.52"/><use href="#g" x="108.67" y="383.48"/><use href="#g" x="121.02" y="383.48"/><use href="#g" x="133.38" y="383.48"/><use href="#g" x="145.73" y="383.48"/><use href="#g" x="158.08" y="383.48"/><use href="#g" x="170.43" y="383.48"/><use href="#g" x="182.78" y="383.48"/><use href="#g" x="195.12" y="383.48"/><use href="#g" x="207.48" y="383.48"/><use href="#g" x="219.82" y="383.48"/><use href="#g" x="232.18" y="383.48"/><use href="#g" x="244.53" y="383.48"/><use href="#g" x="256.88" y="383.48"/><use href="#g" x="269.22" y="383.48"/><use href="#g" x="281.57" y="383.48"/><use href="#g" x="293.93" y="383.48"/><use href="#g" x="306.28" y="383.48"/><use href="#g" x="318.62" y="383.48"/><use href="#g" x="330.97" y="383.48"/><use href="#g" x="343.32" y="383.48"/><use href="#g" x="355.68" y="383.48"/><use href="#g" x="368.02" y="383.48"/><use href="#g" x="380.38" y="383.48"/><use href="#g" x="392.73" y="383.48"/><use href="#g" x="405.07" y="383.48"/><use href="#g" x="417.43" y="383.48"/><use href="#g" x="429.77" y="383.48"/><use href="#g" x="442.12" y="383.48"/><use href="#g" x="454.48" y="383.48"/><use href="#g" x="466.82" y="383.48"/><use href="#g" x="479.18" y="383.48"/><use href="#g" x="491.52" y="383.48"/><use href="#g" x="503.88" y="383.48"/><use href="#g" x="516.23" y="383.48"/><use href="#g" x="528.57" y="383.48"/><use href="#g" x="540.92" y="383.48"/><use href="#g" x="553.27" y="383.48"/><use href="#g" x="565.62" y="383.48"/><use href="#g" x="577.97" y="383.48"/><use href="#g" x="590.32" y="383.48"/><use href="#g" x="602.67" y="383.48"/><use href="#g" x="102.50" y="394.44"/><use href="#g" x="114.85" y="394.44"/><use href="#g" x="127.20" y="394.44"/><use href="#g" x="139.55" y="394.44"/><use href="#g" x="151.90" y="394.44"/><use href="#g" x="164.25" y="394.44"/><use href="#g" x="176.60" y="394.44"/><use href="#g" x="188.95" y="394.44"/><use href="#g" x="201.30" y="394.44"/><use href="#g" x="213.65" y="394.44"/><use href="#g" x="226.00" y="394.44"/><use href="#g" x="238.35" y="394.44"/><use href="#g" x="250.70" y="394.44"/><use href="#g" x="263.05" y="394.44"/><use href="#g" x="275.40" y="394.44"/><use href="#g" x="287.75" y="394.44"/><use href="#g" x="300.10" y="394.44"/><use href="#g" x="312.45" y="394.44"/><use href="#g" x="324.80" y="394.44"/><use href="#g" x="337.15" y="394.44"/><use href="#g" x="349.50" y="394.44"/><use href="#g" x="361.85" y="394.44"/><use href="#g" x="374.20" y="394.44"/><use href="#g" x="386.55" y="394.44"/><use href="#g" x="398.90" y="394.44"/><use href="#g" x="411.25" y="394.44"/><use href="#g" x="423.60" y="394.44"/><use href="#g" x="435.95" y="394.44"/><use href="#g" x="448.30" y="394.44"/><use href="#g" x="460.65" y="394.44"/><use href="#g" x="473.00" y="394.44"/><use href="#g" x="485.35" y="394.44"/><use href="#g" x="497.70" y="394.44"/><use href="#g" x="510.05" y="394.44"/><use href="#g" x="522.40" y="394.44"/><use href="#g" x="534.75" y="394.44"/><use href="#g" x="547.10" y="394.44"/><use href="#g" x="559.45" y="394.44"/><use href="#g" x="571.80" y="394.44"/><use href="#g" x="584.15" y="394.44"/><use href="#g" x="596.50" y="394.44"/><use href="#g" x="108.67" y="405.40"/><use href="#g" x="121.02" y="405.40"/><use href="#g" x="133.38" y="405.40"/><use href="#g" x="145.73" y="405.40"/><use href="#g" x="158.08" y="405.40"/><use href="#g" x="170.43" y="405.40"/><use href="#g" x="182.78" y="405.40"/><use href="#g" x="195.12" y="405.40"/><use href="#g" x="207.48" y="405.40"/><use href="#g" x="219.82" y="405.40"/><use href="#g" x="232.18" y="405.40"/><use href="#g" x="244.53" y="405.40"/><use href="#g" x="256.88" y="405.40"/><use href="#g" x="269.22" y="405.40"/><use href="#g" x="281.57" y="405.40"/><use href="#g" x="293.93" y="405.40"/><use href="#g" x="306.28" y="405.40"/><use href="#g" x="318.62" y="405.40"/><use href="#g" x="330.97" y="405.40"/><use href="#g" x="343.32" y="405.40"/><use href="#g" x="355.68" y="405.40"/><use href="#g" x="368.02" y="405.40"/><use href="#g" x="380.38" y="405.40"/><use href="#g" x="392.73" y="405.40"/><use href="#g" x="405.07" y="405.40"/><use href="#g" x="417.43" y="405.40"/><use href="#g" x="429.77" y="405.40"/><use href="#g" x="442.12" y="405.40"/><use href="#g" x="454.48" y="405.40"/><use href="#g" x="466.82" y="405.40"/><use href="#g" x="479.18" y="405.40"/><use href="#g" x="491.52" y="405.40"/><use href="#g" x="503.88" y="405.40"/><use href="#g" x="516.23" y="405.40"/><use href="#g" x="528.57" y="405.40"/><use href="#g" x="540.92" y="405.40"/><use href="#g" x="553.27" y="405.40"/><use href="#g" x="565.62" y="405.40"/><use href="#g" x="577.97" y="405.40"/><use href="#g" x="590.32" y="405.40"/><use href="#g" x="602.67" y="405.40"/><use href="#g" x="102.50" y="416.36"/><use href="#g" x="114.85" y="416.36"/><use href="#g" x="127.20" y="416.36"/><use href="#g" x="139.55" y="416.36"/><use href="#g" x="151.90" y="416.36"/><use href="#g" x="164.25" y="416.36"/><use href="#g" x="176.60" y="416.36"/><use href="#g" x="188.95" y="416.36"/><use href="#g" x="201.30" y="416.36"/><use href="#g" x="213.65" y="416.36"/><use href="#g" x="226.00" y="416.36"/><use href="#g" x="238.35" y="416.36"/><use href="#g" x="250.70" y="416.36"/><use href="#g" x="263.05" y="416.36"/><use href="#g" x="275.40" y="416.36"/><use href="#g" x="287.75" y="416.36"/><use href="#g" x="300.10" y="416.36"/><use href="#g" x="312.45" y="416.36"/><use href="#g" x="324.80" y="416.36"/><use href="#g" x="337.15" y="416.36"/><use href="#g" x="349.50" y="416.36"/><use href="#g" x="361.85" y="416.36"/><use href="#g" x="374.20" y="416.36"/><use href="#g" x="386.55" y="416.36"/><use href="#g" x="398.90" y="416.36"/><use href="#g" x="411.25" y="416.36"/><use href="#g" x="423.60" y="416.36"/><use href="#g" x="435.95" y="416.36"/><use href="#g" x="448.30" y="416.36"/><use href="#g" x="460.65" y="416.36"/><use href="#g" x="473.00" y="416.36"/><use href="#g" x="485.35" y="416.36"/><use href="#g" x="497.70" y="416.36"/><use href="#g" x="510.05" y="416.36"/><use href="#g" x="522.40" y="416.36"/><use href="#g" x="534.75" y="416.36"/><use href="#g" x="547.10" y="416.36"/><use href="#g" x="559.45" y="416.36"/><use href="#g" x="571.80" y="416.36"/><use href="#g" x="584.15" y="416.36"/><use href="#g" x="596.50" y="416.36"/><use href="#g" x="108.67" y="427.32"/><use href="#g" x="121.02" y="427.32"/><use href="#g" x="133.38" y="427.32"/><use href="#g" x="145.73" y="427.32"/><use href="#g" x="158.08" y="427.32"/><use href="#g" x="170.43" y="427.32"/><use href="#g" x="182.78" y="427.32"/><use href="#g" x="195.12" y="427.32"/><use href="#g" x="207.48" y="427.32"/><use href="#g" x="219.82" y="427.32"/><use href="#g" x="232.18" y="427.32"/><use href="#g" x="244.53" y="427.32"/><use href="#g" x="256.88" y="427.32"/><use href="#g" x="269.22" y="427.32"/><use href="#g" x="281.57" y="427.32"/><use href="#g" x="293.93" y="427.32"/><use href="#g" x="306.28" y="427.32"/><use href="#g" x="318.62" y="427.32"/><use href="#g" x="330.97" y="427.32"/><use href="#g" x="343.32" y="427.32"/><use href="#g" x="355.68" y="427.32"/><use href="#g" x="368.02" y="427.32"/><use href="#g" x="380.38" y="427.32"/><use href="#g" x="392.73" y="427.32"/><use href="#g" x="405.07" y="427.32"/><use href="#g" x="417.43" y="427.32"/><use href="#g" x="429.77" y="427.32"/><use href="#g" x="442.12" y="427.32"/><use href="#g" x="454.48" y="427.32"/><use href="#g" x="466.82" y="427.32"/><use href="#g" x="479.18" y="427.32"/><use href="#g" x="491.52" y="427.32"/><use href="#g" x="503.88" y="427.32"/><use href="#g" x="516.23" y="427.32"/><use href="#g" x="528.57" y="427.32"/><use href="#g" x="540.92" y="427.32"/><use href="#g" x="553.27" y="427.32"/><use href="#g" x="565.62" y="427.32"/><use href="#g" x="577.97" y="427.32"/><use href="#g" x="590.32" y="427.32"/><use href="#g" x="602.67" y="427.32"/><use href="#g" x="102.50" y="438.28"/><use href="#g" x="114.85" y="438.28"/><use href="#g" x="127.20" y="438.28"/><use href="#g" x="139.55" y="438.28"/><use href="#g" x="151.90" y="438.28"/><use href="#g" x="164.25" y="438.28"/><use href="#g" x="176.60" y="438.28"/><use href="#g" x="188.95" y="438.28"/><use href="#g" x="201.30" y="438.28"/><use href="#g" x="213.65" y="438.28"/><use href="#g" x="226.00" y="438.28"/><use href="#g" x="238.35" y="438.28"/><use href="#g" x="250.70" y="438.28"/><use href="#g" x="263.05" y="438.28"/><use href="#g" x="275.40" y="438.28"/><use href="#g" x="287.75" y="438.28"/><use href="#g" x="300.10" y="438.28"/><use href="#g" x="312.45" y="438.28"/><use href="#g" x="324.80" y="438.28"/><use href="#g" x="337.15" y="438.28"/><use href="#g" x="349.50" y="438.28"/><use href="#g" x="361.85" y="438.28"/><use href="#g" x="374.20" y="438.28"/><use href="#g" x="386.55" y="438.28"/><use href="#g" x="398.90" y="438.28"/><use href="#g" x="411.25" y="438.28"/><use href="#g" x="423.60" y="438.28"/><use href="#g" x="435.95" y="438.28"/><use href="#g" x="448.30" y="438.28"/><use href="#g" x="460.65" y="438.28"/><use href="#g" x="473.00" y="438.28"/><use href="#g" x="485.35" y="438.28"/><use href="#g" x="497.70" y="438.28"/><use href="#g" x="510.05" y="438.28"/><use href="#g" x="522.40" y="438.28"/><use href="#g" x="534.75" y="438.28"/><use href="#g" x="547.10" y="438.28"/><use href="#g" x="559.45" y="438.28"/><use href="#g" x="571.80" y="438.28"/><use href="#g" x="584.15" y="438.28"/><use href="#g" x="596.50" y="438.28"/><use href="#g" x="108.67" y="449.24"/><use href="#g" x="121.02" y="449.24"/><use href="#g" x="133.38" y="449.24"/><use href="#g" x="145.73" y="449.24"/><use href="#g" x="158.08" y="449.24"/><use href="#g" x="170.43" y="449.24"/><use href="#g" x="182.78" y="449.24"/><use href="#g" x="195.12" y="449.24"/><use href="#g" x="207.48" y="449.24"/><use href="#g" x="219.82" y="449.24"/><use href="#g" x="232.18" y="449.24"/><use href="#g" x="244.53" y="449.24"/><use href="#g" x="256.88" y="449.24"/><use href="#g" x="269.22" y="449.24"/><use href="#g" x="281.57" y="449.24"/><use href="#g" x="293.93" y="449.24"/><use href="#g" x="306.28" y="449.24"/><use href="#g" x="318.62" y="449.24"/><use href="#g" x="330.97" y="449.24"/><use href="#g" x="343.32" y="449.24"/><use href="#g" x="355.68" y="449.24"/><use href="#g" x="368.02" y="449.24"/><use href="#g" x="380.38" y="449.24"/><use href="#g" x="392.73" y="449.24"/><use href="#g" x="405.07" y="449.24"/><use href="#g" x="417.43" y="449.24"/><use href="#g" x="429.77" y="449.24"/><use href="#g" x="442.12" y="449.24"/><use href="#g" x="454.48" y="449.24"/><use href="#g" x="466.82" y="449.24"/><use href="#g" x="479.18" y="449.24"/><use href="#g" x="491.52" y="449.24"/><use href="#g" x="503.88" y="449.24"/><use href="#g" x="516.23" y="449.24"/><use href="#g" x="528.57" y="449.24"/><use href="#g" x="540.92" y="449.24"/><use href="#g" x="553.27" y="449.24"/><use href="#g" x="565.62" y="449.24"/><use href="#g" x="577.97" y="449.24"/><use href="#g" x="590.32" y="449.24"/><use href="#g" x="602.67" y="449.24"/><use href="#g" x="102.50" y="460.20"/><use href="#g" x="114.85" y="460.20"/><use href="#g" x="127.20" y="460.20"/><use href="#g" x="139.55" y="460.20"/><use href="#g" x="151.90" y="460.20"/><use href="#g" x="164.25" y="460.20"/><use href="#g" x="176.60" y="460.20"/><use href="#g" x="188.95" y="460.20"/><use href="#g" x="201.30" y="460.20"/><use href="#g" x="213.65" y="460.20"/><use href="#g" x="226.00" y="460.20"/><use href="#g" x="238.35" y="460.20"/><use href="#g" x="250.70" y="460.20"/><use href="#g" x="263.05" y="460.20"/><use href="#g" x="275.40" y="460.20"/><use href="#g" x="287.75" y="460.20"/><use href="#g" x="300.10" y="460.20"/><use href="#g" x="312.45" y="460.20"/><use href="#g" x="324.80" y="460.20"/><use href="#g" x="337.15" y="460.20"/><use href="#g" x="349.50" y="460.20"/><use href="#g" x="361.85" y="460.20"/><use href="#g" x="374.20" y="460.20"/><use href="#g" x="386.55" y="460.20"/><use href="#g" x="398.90" y="460.20"/><use href="#g" x="411.25" y="460.20"/><use href="#g" x="423.60" y="460.20"/><use href="#g" x="435.95" y="460.20"/><use href="#g" x="448.30" y="460.20"/><use href="#g" x="460.65" y="460.20"/><use href="#g" x="473.00" y="460.20"/><use href="#g" x="485.35" y="460.20"/><use href="#g" x="497.70" y="460.20"/><use href="#g" x="510.05" y="460.20"/><use href="#g" x="522.40" y="460.20"/><use href="#g" x="534.75" y="460.20"/><use href="#g" x="547.10" y="460.20"/><use href="#g" x="559.45" y="460.20"/><use href="#g" x="571.80" y="460.20"/><use href="#g" x="584.15" y="460.20"/><use href="#g" x="596.50" y="460.20"/><use href="#g" x="108.67" y="471.16"/><use href="#g" x="121.02" y="471.16"/><use href="#g" x="133.38" y="471.16"/><use href="#g" x="145.73" y="471.16"/><use href="#g" x="158.08" y="471.16"/><use href="#g" x="170.43" y="471.16"/><use href="#g" x="182.78" y="471.16"/><use href="#g" x="195.12" y="471.16"/><use href="#g" x="207.48" y="471.16"/><use href="#g" x="219.82" y="471.16"/><use href="#g" x="232.18" y="471.16"/><use href="#g" x="244.53" y="471.16"/><use href="#g" x="256.88" y="471.16"/><use href="#g" x="269.22" y="471.16"/><use href="#g" x="281.57" y="471.16"/><use href="#g" x="293.93" y="471.16"/><use href="#g" x="306.28" y="471.16"/><use href="#g" x="318.62" y="471.16"/><use href="#g" x="330.97" y="471.16"/><use href="#g" x="343.32" y="471.16"/><use href="#g" x="355.68" y="471.16"/><use href="#g" x="368.02" y="471.16"/><use href="#g" x="380.38" y="471.16"/><use href="#g" x="392.73" y="471.16"/><use href="#g" x="405.07" y="471.16"/><use href="#g" x="417.43" y="471.16"/><use href="#g" x="429.77" y="471.16"/><use href="#g" x="442.12" y="471.16"/><use href="#g" x="454.48" y="471.16"/><use href="#g" x="466.82" y="471.16"/><use href="#g" x="479.18" y="471.16"/><use href="#g" x="491.52" y="471.16"/><use href="#g" x="503.88" y="471.16"/><use href="#g" x="516.23" y="471.16"/><use href="#g" x="528.57" y="471.16"/><use href="#g" x="540.92" y="471.16"/><use href="#g" x="553.27" y="471.16"/><use href="#g" x="565.62" y="471.16"/><use href="#g" x="577.97" y="471.16"/><use href="#g" x="590.32" y="471.16"/><use href="#g" x="602.67" y="471.16"/><use href="#g" x="102.50" y="482.12"/><use href="#g" x="114.85" y="482.12"/><use href="#g" x="127.20" y="482.12"/><use href="#g" x="139.55" y="482.12"/><use href="#g" x="151.90" y="482.12"/><use href="#g" x="164.25" y="482.12"/><use href="#g" x="176.60" y="482.12"/><use href="#g" x="188.95" y="482.12"/><use href="#g" x="201.30" y="482.12"/><use href="#g" x="213.65" y="482.12"/><use href="#g" x="226.00" y="482.12"/><use href="#g" x="238.35" y="482.12"/><use href="#g" x="250.70" y="482.12"/><use href="#g" x="263.05" y="482.12"/><use href="#g" x="275.40" y="482.12"/><use href="#g" x="287.75" y="482.12"/><use href="#g" x="300.10" y="482.12"/><use href="#g" x="312.45" y="482.12"/><use href="#g" x="324.80" y="482.12"/><use href="#g" x="337.15" y="482.12"/><use href="#g" x="349.50" y="482.12"/><use href="#g" x="361.85" y="482.12"/><use href="#g" x="374.20" y="482.12"/><use href="#g" x="386.55" y="482.12"/><use href="#g" x="398.90" y="482.12"/><use href="#g" x="411.25" y="482.12"/><use href="#g" x="423.60" y="482.12"/><use href="#g" x="435.95" y="482.12"/><use href="#g" x="448.30" y="482.12"/><use href="#g" x="460.65" y="482.12"/><use href="#g" x="473.00" y="482.12"/><use href="#g" x="485.35" y="482.12"/><use href="#g" x="497.70" y="482.12"/><use href="#g" x="510.05" y="482.12"/><use href="#g" x="522.40" y="482.12"/><use href="#g" x="534.75" y="482.12"/><use href="#g" x="547.10" y="482.12"/><use href="#g" x="559.45" y="482.12"/><use href="#g" x="571.80" y="482.12"/><use href="#g" x="584.15" y="482.12"/><use href="#g" x="596.50" y="482.12"/><use href="#g" x="108.67" y="493.08"/><use href="#g" x="121.02" y="493.08"/><use href="#g" x="133.38" y="493.08"/><use href="#g" x="145.73" y="493.08"/><use href="#g" x="158.08" y="493.08"/><use href="#g" x="170.43" y="493.08"/><use href="#g" x="182.78" y="493.08"/><use href="#g" x="195.12" y="493.08"/><use href="#g" x="207.48" y="493.08"/><use href="#g" x="219.82" y="493.08"/><use href="#g" x="232.18" y="493.08"/><use href="#g" x="244.53" y="493.08"/><use href="#g" x="256.88" y="493.08"/><use href="#g" x="269.22" y="493.08"/><use href="#g" x="281.57" y="493.08"/><use href="#g" x="293.93" y="493.08"/><use href="#g" x="306.28" y="493.08"/><use href="#g" x="318.62" y="493.08"/><use href="#g" x="330.97" y="493.08"/><use href="#g" x="343.32" y="493.08"/><use href="#g" x="355.68" y="493.08"/><use href="#g" x="368.02" y="493.08"/><use href="#g" x="380.38" y="493.08"/><use href="#g" x="392.73" y="493.08"/><use href="#g" x="405.07" y="493.08"/><use href="#g" x="417.43" y="493.08"/><use href="#g" x="429.77" y="493.08"/><use href="#g" x="442.12" y="493.08"/><use href="#g" x="454.48" y="493.08"/><use href="#g" x="466.82" y="493.08"/><use href="#g" x="479.18" y="493.08"/><use href="#g" x="491.52" y="493.08"/><use href="#g" x="503.88" y="493.08"/><use href="#g" x="516.23" y="493.08"/><use href="#g" x="528.57" y="493.08"/><use href="#g" x="540.92" y="493.08"/><use href="#g" x="553.27" y="493.08"/><use href="#g" x="565.62" y="493.08"/><use href="#g" x="577.97" y="493.08"/><use href="#g" x="590.32" y="493.08"/><use href="#g" x="602.67" y="493.08"/><use href="#g" x="102.50" y="504.04"/><use href="#g" x="114.85" y="504.04"/><use href="#g" x="127.20" y="504.04"/><use href="#g" x="139.55" y="504.04"/><use href="#g" x="151.90" y="504.04"/><use href="#g" x="164.25" y="504.04"/><use href="#g" x="176.60" y="504.04"/><use href="#g" x="188.95" y="504.04"/><use href="#g" x="201.30" y="504.04"/><use href="#g" x="213.65" y="504.04"/><use href="#g" x="226.00" y="504.04"/><use href="#g" x="238.35" y="504.04"/><use href="#g" x="250.70" y="504.04"/><use href="#g" x="263.05" y="504.04"/><use href="#g" x="275.40" y="504.04"/><use href="#g" x="287.75" y="504.04"/><use href="#g" x="300.10" y="504.04"/><use href="#g" x="312.45" y="504.04"/><use href="#g" x="324.80" y="504.04"/><use href="#g" x="337.15" y="504.04"/><use href="#g" x="349.50" y="504.04"/><use href="#g" x="361.85" y="504.04"/><use href="#g" x="374.20" y="504.04"/><use href="#g" x="386.55" y="504.04"/><use href="#g" x="398.90" y="504.04"/><use href="#g" x="411.25" y="504.04"/><use href="#g" x="423.60" y="504.04"/><use href="#g" x="435.95" y="504.04"/><use href="#g" x="448.30" y="504.04"/><use href="#g" x="460.65" y="504.04"/><use href="#g" x="473.00" y="504.04"/><use href="#g" x="485.35" y="504.04"/><use href="#g" x="497.70" y="504.04"/><use href="#g" x="510.05" y="504.04"/><use href="#g" x="522.40" y="504.04"/><use href="#g" x="534.75" y="504.04"/><use href="#g" x="547.10" y="504.04"/><use href="#g" x="559.45" y="504.04"/><use href="#g" x="571.80" y="504.04"/><use href="#g" x="584.15" y="504.04"/><use href="#g" x="596.50" y="504.04"/><use href="#g" x="108.67" y="515.00"/><use href="#g" x="121.02" y="515.00"/><use href="#g" x="133.38" y="515.00"/><use href="#g" x="145.73" y="515.00"/><use href="#g" x="158.08" y="515.00"/><use href="#g" x="170.43" y="515.00"/><use href="#g" x="182.78" y="515.00"/><use href="#g" x="195.12" y="515.00"/><use href="#g" x="207.48" y="515.00"/><use href="#g" x="219.82" y="515.00"/><use href="#g" x="232.18" y="515.00"/><use href="#g" x="244.53" y="515.00"/><use href="#g" x="256.88" y="515.00"/><use href="#g" x="269.22" y="515.00"/><use href="#g" x="281.57" y="515.00"/><use href="#g" x="293.93" y="515.00"/><use href="#g" x="306.28" y="515.00"/><use href="#g" x="318.62" y="515.00"/><use href="#g" x="330.97" y="515.00"/><use href="#g" x="343.32" y="515.00"/><use href="#g" x="355.68" y="515.00"/><use href="#g" x="368.02" y="515.00"/><use href="#g" x="380.38" y="515.00"/><use href="#g" x="392.73" y="515.00"/><use href="#g" x="405.07" y="515.00"/><use href="#g" x="417.43" y="515.00"/><use href="#g" x="429.77" y="515.00"/><use href="#g" x="442.12" y="515.00"/><use href="#g" x="454.48" y="515.00"/><use href="#g" x="466.82" y="515.00"/><use href="#g" x="479.18" y="515.00"/><use href="#g" x="491.52" y="515.00"/><use href="#g" x="503.88" y="515.00"/><use href="#g" x="516.23" y="515.00"/><use href="#g" x="528.57" y="515.00"/><use href="#g" x="540.92" y="515.00"/><use href="#g" x="553.27" y="515.00"/><use href="#g" x="565.62" y="515.00"/><use href="#g" x="577.97" y="515.00"/><use href="#g" x="590.32" y="515.00"/><use href="#g" x="602.67" y="515.00"/><use href="#g" x="102.50" y="525.96"/><use href="#g" x="114.85" y="525.96"/><use href="#g" x="127.20" y="525.96"/><use href="#g" x="139.55" y="525.96"/><use href="#g" x="151.90" y="525.96"/><use href="#g" x="164.25" y="525.96"/><use href="#g" x="176.60" y="525.96"/><use href="#g" x="188.95" y="525.96"/><use href="#g" x="201.30" y="525.96"/><use href="#g" x="213.65" y="525.96"/><use href="#g" x="226.00" y="525.96"/><use href="#g" x="238.35" y="525.96"/><use href="#g" x="250.70" y="525.96"/><use href="#g" x="263.05" y="525.96"/><use href="#g" x="275.40" y="525.96"/><use href="#g" x="287.75" y="525.96"/><use href="#g" x="300.10" y="525.96"/><use href="#g" x="312.45" y="525.96"/><use href="#g" x="324.80" y="525.96"/><use href="#g" x="337.15" y="525.96"/><use href="#g" x="349.50" y="525.96"/><use href="#g" x="361.85" y="525.96"/><use href="#g" x="374.20" y="525.96"/><use href="#g" x="386.55" y="525.96"/><use href="#g" x="398.90" y="525.96"/><use href="#g" x="411.25" y="525.96"/><use href="#g" x="423.60" y="525.96"/><use href="#g" x="435.95" y="525.96"/><use href="#g" x="448.30" y="525.96"/><use href="#g" x="460.65" y="525.96"/><use href="#g" x="473.00" y="525.96"/><use href="#g" x="485.35" y="525.96"/><use href="#g" x="497.70" y="525.96"/><use href="#g" x="510.05" y="525.96"/><use href="#g" x="522.40" y="525.96"/><use href="#g" x="534.75" y="525.96"/><use href="#g" x="547.10" y="525.96"/><use href="#g" x="559.45" y="525.96"/><use href="#g" x="571.80" y="525.96"/><use href="#g" x="584.15" y="525.96"/><use href="#g" x="596.50" y="525.96"/><use href="#g" x="108.67" y="536.92"/><use href="#g" x="121.02" y="536.92"/><use href="#g" x="133.38" y="536.92"/><use href="#g" x="145.73" y="536.92"/><use href="#g" x="158.08" y="536.92"/><use href="#g" x="170.43" y="536.92"/><use href="#g" x="182.78" y="536.92"/><use href="#g" x="195.12" y="536.92"/><use href="#g" x="207.48" y="536.92"/><use href="#g" x="219.82" y="536.92"/><use href="#g" x="232.18" y="536.92"/><use href="#g" x="244.53" y="536.92"/><use href="#g" x="256.88" y="536.92"/><use href="#g" x="269.22" y="536.92"/><use href="#g" x="281.57" y="536.92"/><use href="#g" x="293.93" y="536.92"/><use href="#g" x="306.28" y="536.92"/><use href="#g" x="318.62" y="536.92"/><use href="#g" x="330.97" y="536.92"/><use href="#g" x="343.32" y="536.92"/><use href="#g" x="355.68" y="536.92"/><use href="#g" x="368.02" y="536.92"/><use href="#g" x="380.38" y="536.92"/><use href="#g" x="392.73" y="536.92"/><use href="#g" x="405.07" y="536.92"/><use href="#g" x="417.43" y="536.92"/><use href="#g" x="429.77" y="536.92"/><use href="#g" x="442.12" y="536.92"/><use href="#g" x="454.48" y="536.92"/><use href="#g" x="466.82" y="536.92"/><use href="#g" x="479.18" y="536.92"/><use href="#g" x="491.52" y="536.92"/><use href="#g" x="503.88" y="536.92"/><use href="#g" x="516.23" y="536.92"/><use href="#g" x="528.57" y="536.92"/><use href="#g" x="540.92" y="536.92"/><use href="#g" x="553.27" y="536.92"/><use href="#g" x="565.62" y="536.92"/><use href="#g" x="577.97" y="536.92"/><use href="#g" x="590.32" y="536.92"/><use href="#g" x="602.67" y="536.92"/><use href="#g" x="102.50" y="547.88"/><use href="#g" x="114.85" y="547.88"/><use href="#g" x="127.20" y="547.88"/><use href="#g" x="139.55" y="547.88"/><use href="#g" x="151.90" y="547.88"/><use href="#g" x="164.25" y="547.88"/><use href="#g" x="176.60" y="547.88"/><use href="#g" x="188.95" y="547.88"/><use href="#g" x="201.30" y="547.88"/><use href="#g" x="213.65" y="547.88"/><use href="#g" x="226.00" y="547.88"/><use href="#g" x="238.35" y="547.88"/><use href="#g" x="250.70" y="547.88"/><use href="#g" x="263.05" y="547.88"/><use href="#g" x="275.40" y="547.88"/><use href="#g" x="287.75" y="547.88"/><use href="#g" x="300.10" y="547.88"/><use href="#g" x="312.45" y="547.88"/><use href="#g" x="324.80" y="547.88"/><use href="#g" x="337.15" y="547.88"/><use href="#g" x="349.50" y="547.88"/><use href="#g" x="361.85" y="547.88"/><use href="#g" x="374.20" y="547.88"/><use href="#g" x="386.55" y="547.88"/><use href="#g" x="398.90" y="547.88"/><use href="#g" x="411.25" y="547.88"/><use href="#g" x="423.60" y="547.88"/><use href="#g" x="435.95" y="547.88"/><use href="#g" x="448.30" y="547.88"/><use href="#g" x="460.65" y="547.88"/><use href="#g" x="473.00" y="547.88"/><use href="#g" x="485.35" y="547.88"/><use href="#g" x="497.70" y="547.88"/><use href="#g" x="510.05" y="547.88"/><use href="#g" x="522.40" y="547.88"/><use href="#g" x="534.75" y="547.88"/><use href="#g" x="547.10" y="547.88"/><use href="#g" x="559.45" y="547.88"/><use href="#g" x="571.80" y="547.88"/><use href="#g" x="584.15" y="547.88"/><use href="#g" x="596.50" y="547.88"/><use href="#g" x="108.67" y="558.84"/><use href="#g" x="121.02" y="558.84"/><use href="#g" x="133.38" y="558.84"/><use href="#g" x="145.73" y="558.84"/><use href="#g" x="158.08" y="558.84"/><use href="#g" x="170.43" y="558.84"/><use href="#g" x="182.78" y="558.84"/><use href="#g" x="195.12" y="558.84"/><use href="#g" x="207.48" y="558.84"/><use href="#g" x="219.82" y="558.84"/><use href="#g" x="232.18" y="558.84"/><use href="#g" x="244.53" y="558.84"/><use href="#g" x="256.88" y="558.84"/><use href="#g" x="269.22" y="558.84"/><use href="#g" x="281.57" y="558.84"/><use href="#g" x="293.93" y="558.84"/><use href="#g" x="306.28" y="558.84"/><use href="#g" x="318.62" y="558.84"/><use href="#g" x="330.97" y="558.84"/><use href="#g" x="343.32" y="558.84"/><use href="#g" x="355.68" y="558.84"/><use href="#g" x="368.02" y="558.84"/><use href="#g" x="380.38" y="558.84"/><use href="#g" x="392.73" y="558.84"/><use href="#g" x="405.07" y="558.84"/><use href="#g" x="417.43" y="558.84"/><use href="#g" x="429.77" y="558.84"/><use href="#g" x="442.12" y="558.84"/><use href="#g" x="454.48" y="558.84"/><use href="#g" x="466.82" y="558.84"/><use href="#g" x="479.18" y="558.84"/><use href="#g" x="491.52" y="558.84"/><use href="#g" x="503.88" y="558.84"/><use href="#g" x="516.23" y="558.84"/><use href="#g" x="528.57" y="558.84"/><use href="#g" x="540.92" y="558.84"/><use href="#g" x="553.27" y="558.84"/><use href="#g" x="565.62" y="558.84"/><use href="#g" x="577.97" y="558.84"/><use href="#g" x="590.32" y="558.84"/><use href="#g" x="602.67" y="558.84"/><use href="#g" x="102.50" y="569.80"/><use href="#g" x="114.85" y="569.80"/><use href="#g" x="127.20" y="569.80"/><use href="#g" x="139.55" y="569.80"/><use href="#g" x="151.90" y="569.80"/><use href="#g" x="164.25" y="569.80"/><use href="#g" x="176.60" y="569.80"/><use href="#g" x="188.95" y="569.80"/><use href="#g" x="201.30" y="569.80"/><use href="#g" x="213.65" y="569.80"/><use href="#g" x="226.00" y="569.80"/><use href="#g" x="238.35" y="569.80"/><use href="#g" x="250.70" y="569.80"/><use href="#g" x="263.05" y="569.80"/><use href="#g" x="275.40" y="569.80"/><use href="#g" x="287.75" y="569.80"/><use href="#g" x="300.10" y="569.80"/><use href="#g" x="312.45" y="569.80"/><use href="#g" x="324.80" y="569.80"/><use href="#g" x="337.15" y="569.80"/><use href="#g" x="349.50" y="569.80"/><use href="#g" x="361.85" y="569.80"/><use href="#g" x="374.20" y="569.80"/><use href="#g" x="386.55" y="569.80"/><use href="#g" x="398.90" y="569.80"/><use href="#g" x="411.25" y="569.80"/><use href="#g" x="423.60" y="569.80"/><use href="#g" x="435.95" y="569.80"/><use href="#g" x="448.30" y="569.80"/><use href="#g" x="460.65" y="569.80"/><use href="#g" x="473.00" y="569.80"/><use href="#g" x="485.35" y="569.80"/><use href="#g" x="497.70" y="569.80"/><use href="#g" x="510.05" y="569.80"/><use href="#g" x="522.40" y="569.80"/><use href="#g" x="534.75" y="569.80"/><use href="#g" x="547.10" y="569.80"/><use href="#g" x="559.45" y="569.80"/><use href="#g" x="571.80" y="569.80"/><use href="#g" x="584.15" y="569.80"/><use href="#g" x="596.50" y="569.80"/><use href="#g" x="108.67" y="580.76"/><use href="#g" x="121.02" y="580.76"/><use href="#g" x="133.38" y="580.76"/><use href="#g" x="145.73" y="580.76"/><use href="#g" x="158.08" y="580.76"/><use href="#g" x="170.43" y="580.76"/><use href="#g" x="182.78" y="580.76"/><use href="#g" x="195.12" y="580.76"/><use href="#g" x="207.48" y="580.76"/><use href="#g" x="219.82" y="580.76"/><use href="#g" x="232.18" y="580.76"/><use href="#g" x="244.53" y="580.76"/><use href="#g" x="256.88" y="580.76"/><use href="#g" x="269.22" y="580.76"/><use href="#g" x="281.57" y="580.76"/><use href="#g" x="293.93" y="580.76"/><use href="#g" x="306.28" y="580.76"/><use href="#g" x="318.62" y="580.76"/><use href="#g" x="330.97" y="580.76"/><use href="#g" x="343.32" y="580.76"/><use href="#g" x="355.68" y="580.76"/><use href="#g" x="368.02" y="580.76"/><use href="#g" x="380.38" y="580.76"/><use href="#g" x="392.73" y="580.76"/><use href="#g" x="405.07" y="580.76"/><use href="#g" x="417.43" y="580.76"/><use href="#g" x="429.77" y="580.76"/><use href="#g" x="442.12" y="580.76"/><use href="#g" x="454.48" y="580.76"/><use href="#g" x="466.82" y="580.76"/><use href="#g" x="479.18" y="580.76"/><use href="#g" x="491.52" y="580.76"/><use href="#g" x="503.88" y="580.76"/><use href="#g" x="516.23" y="580.76"/><use href="#g" x="528.57" y="580.76"/><use href="#g" x="540.92" y="580.76"/><use href="#g" x="553.27" y="580.76"/><use href="#g" x="565.62" y="580.76"/><use href="#g" x="577.97" y="580.76"/><use href="#g" x="590.32" y="580.76"/><use href="#g" x="602.67" y="580.76"/><use href="#g" x="102.50" y="591.72"/><use href="#g" x="114.85" y="591.72"/><use href="#g" x="127.20" y="591.72"/><use href="#g" x="139.55" y="591.72"/><use href="#g" x="151.90" y="591.72"/><use href="#g" x="164.25" y="591.72"/><use href="#g" x="176.60" y="591.72"/><use href="#g" x="188.95" y="591.72"/><use href="#g" x="201.30" y="591.72"/><use href="#g" x="213.65" y="591.72"/><use href="#g" x="226.00" y="591.72"/><use href="#g" x="238.35" y="591.72"/><use href="#g" x="250.70" y="591.72"/><use href="#g" x="263.05" y="591.72"/><use href="#g" x="275.40" y="591.72"/><use href="#g" x="287.75" y="591.72"/><use href="#g" x="300.10" y="591.72"/><use href="#g" x="312.45" y="591.72"/><use href="#g" x="324.80" y="591.72"/><use href="#g" x="337.15" y="591.72"/><use href="#g" x="349.50" y="591.72"/><use href="#g" x="361.85" y="591.72"/><use href="#g" x="374.20" y="591.72"/><use href="#g" x="386.55" y="591.72"/><use href="#g" x="398.90" y="591.72"/><use href="#g" x="411.25" y="591.72"/><use href="#g" x="423.60" y="591.72"/><use href="#g" x="435.95" y="591.72"/><use href="#g" x="448.30" y="591.72"/><use href="#g" x="460.65" y="591.72"/><use href="#g" x="473.00" y="591.72"/><use href="#g" x="485.35" y="591.72"/><use href="#g" x="497.70" y="591.72"/><use href="#g" x="510.05" y="591.72"/><use href="#g" x="522.40" y="591.72"/><use href="#g" x="534.75" y="591.72"/><use href="#g" x="547.10" y="591.72"/><use href="#g" x="559.45" y="591.72"/><use href="#g" x="571.80" y="591.72"/><use href="#g" x="584.15" y="591.72"/><use href="#g" x="596.50" y="591.72"/><use href="#g" x="108.67" y="602.68"/><use href="#g" x="121.02" y="602.68"/><use href="#g" x="133.38" y="602.68"/><use href="#g" x="145.73" y="602.68"/><use href="#g" x="158.08" y="602.68"/><use href="#g" x="170.43" y="602.68"/><use href="#g" x="182.78" y="602.68"/><use href="#g" x="195.12" y="602.68"/><use href="#g" x="207.48" y="602.68"/><use href="#g" x="219.82" y="602.68"/><use href="#g" x="232.18" y="602.68"/><use href="#g" x="244.53" y="602.68"/><use href="#g" x="256.88" y="602.68"/><use href="#g" x="269.22" y="602.68"/><use href="#g" x="281.57" y="602.68"/><use href="#g" x="293.93" y="602.68"/><use href="#g" x="306.28" y="602.68"/><use href="#g" x="318.62" y="602.68"/><use href="#g" x="330.97" y="602.68"/><use href="#g" x="343.32" y="602.68"/><use href="#g" x="355.68" y="602.68"/><use href="#g" x="368.02" y="602.68"/><use href="#g" x="380.38" y="602.68"/><use href="#g" x="392.73" y="602.68"/><use href="#g" x="405.07" y="602.68"/><use href="#g" x="417.43" y="602.68"/><use href="#g" x="429.77" y="602.68"/><use href="#g" x="442.12" y="602.68"/><use href="#g" x="454.48" y="602.68"/><use href="#g" x="466.82" y="602.68"/><use href="#g" x="479.18" y="602.68"/><use href="#g" x="491.52" y="602.68"/><use href="#g" x="503.88" y="602.68"/><use href="#g" x="516.23" y="602.68"/><use href="#g" x="528.57" y="602.68"/><use href="#g" x="540.92" y="602.68"/><use href="#g" x="553.27" y="602.68"/><use href="#g" x="565.62" y="602.68"/><use href="#g" x="577.97" y="602.68"/><use href="#g" x="590.32" y="602.68"/><use href="#g" x="602.67" y="602.68"/><use href="#g" x="102.50" y="613.64"/><use href="#g" x="114.85" y="613.64"/><use href="#g" x="127.20" y="613.64"/><use href="#g" x="139.55" y="613.64"/><use href="#g" x="151.90" y="613.64"/><use href="#g" x="164.25" y="613.64"/><use href="#g" x="176.60" y="613.64"/><use href="#g" x="188.95" y="613.64"/><use href="#g" x="201.30" y="613.64"/><use href="#g" x="213.65" y="613.64"/><use href="#g" x="226.00" y="613.64"/><use href="#g" x="238.35" y="613.64"/><use href="#g" x="250.70" y="613.64"/><use href="#g" x="263.05" y="613.64"/><use href="#g" x="275.40" y="613.64"/><use href="#g" x="287.75" y="613.64"/><use href="#g" x="300.10" y="613.64"/><use href="#g" x="312.45" y="613.64"/><use href="#g" x="324.80" y="613.64"/><use href="#g" x="337.15" y="613.64"/><use href="#g" x="349.50" y="613.64"/><use href="#g" x="361.85" y="613.64"/><use href="#g" x="374.20" y="613.64"/><use href="#g" x="386.55" y="613.64"/><use href="#g" x="398.90" y="613.64"/><use href="#g" x="411.25" y="613.64"/><use href="#g" x="423.60" y="613.64"/><use href="#g" x="435.95" y="613.64"/><use href="#g" x="448.30" y="613.64"/><use href="#g" x="460.65" y="613.64"/><use href="#g" x="473.00" y="613.64"/><use href="#g" x="485.35" y="613.64"/><use href="#g" x="497.70" y="613.64"/><use href="#g" x="510.05" y="613.64"/><use href="#g" x="522.40" y="613.64"/><use href="#g" x="534.75" y="613.64"/><use href="#g" x="547.10" y="613.64"/><use href="#g" x="559.45" y="613.64"/><use href="#g" x="571.80" y="613.64"/><use href="#g" x="584.15" y="613.64"/><use href="#g" x="596.50" y="613.64"/><use href="#g" x="108.67" y="624.60"/><use href="#g" x="121.02" y="624.60"/><use href="#g" x="133.38" y="624.60"/><use href="#g" x="145.73" y="624.60"/><use href="#g" x="158.08" y="624.60"/><use href="#g" x="170.43" y="624.60"/><use href="#g" x="182.78" y="624.60"/><use href="#g" x="195.12" y="624.60"/><use href="#g" x="207.48" y="624.60"/><use href="#g" x="219.82" y="624.60"/><use href="#g" x="232.18" y="624.60"/><use href="#g" x="244.53" y="624.60"/><use href="#g" x="256.88" y="624.60"/><use href="#g" x="269.22" y="624.60"/><use href="#g" x="281.57" y="624.60"/><use href="#g" x="293.93" y="624.60"/><use href="#g" x="306.28" y="624.60"/><use href="#g" x="318.62" y="624.60"/><use href="#g" x="330.97" y="624.60"/><use href="#g" x="343.32" y="624.60"/><use href="#g" x="355.68" y="624.60"/><use href="#g" x="368.02" y="624.60"/><use href="#g" x="380.38" y="624.60"/><use href="#g" x="392.73" y="624.60"/><use href="#g" x="405.07" y="624.60"/><use href="#g" x="417.43" y="624.60"/><use href="#g" x="429.77" y="624.60"/><use href="#g" x="442.12" y="624.60"/><use href="#g" x="454.48" y="624.60"/><use href="#g" x="466.82" y="624.60"/><use href="#g" x="479.18" y="624.60"/><use href="#g" x="491.52" y="624.60"/><use href="#g" x="503.88" y="624.60"/><use href="#g" x="516.23" y="624.60"/><use href="#g" x="528.57" y="624.60"/><use href="#g" x="540.92" y="624.60"/><use href="#g" x="553.27" y="624.60"/><use href="#g" x="565.62" y="624.60"/><use href="#g" x="577.97" y="624.60"/><use href="#g" x="590.32" y="624.60"/><use href="#g" x="602.67" y="624.60"/><use href="#g" x="102.50" y="635.56"/><use href="#g" x="114.85" y="635.56"/><use href="#g" x="127.20" y="635.56"/><use href="#g" x="139.55" y="635.56"/><use href="#g" x="151.90" y="635.56"/><use href="#g" x="164.25" y="635.56"/><use href="#g" x="176.60" y="635.56"/><use href="#g" x="188.95" y="635.56"/><use href="#g" x="201.30" y="635.56"/><use href="#g" x="213.65" y="635.56"/><use href="#g" x="226.00" y="635.56"/><use href="#g" x="238.35" y="635.56"/><use href="#g" x="250.70" y="635.56"/><use href="#g" x="263.05" y="635.56"/><use href="#g" x="275.40" y="635.56"/><use href="#g" x="287.75" y="635.56"/><use href="#g" x="300.10" y="635.56"/><use href="#g" x="312.45" y="635.56"/><use href="#g" x="324.80" y="635.56"/><use href="#g" x="337.15" y="635.56"/><use href="#g" x="349.50" y="635.56"/><use href="#g" x="361.85" y="635.56"/><use href="#g" x="374.20" y="635.56"/><use href="#g" x="386.55" y="635.56"/><use href="#g" x="398.90" y="635.56"/><use href="#g" x="411.25" y="635.56"/><use href="#g" x="423.60" y="635.56"/><use href="#g" x="435.95" y="635.56"/><use href="#g" x="448.30" y="635.56"/><use href="#g" x="460.65" y="635.56"/><use href="#g" x="473.00" y="635.56"/><use href="#g" x="485.35" y="635.56"/><use href="#g" x="497.70" y="635.56"/><use href="#g" x="510.05" y="635.56"/><use href="#g" x="522.40" y="635.56"/><use href="#g" x="534.75" y="635.56"/><use href="#g" x="547.10" y="635.56"/><use href="#g" x="559.45" y="635.56"/><use href="#g" x="571.80" y="635.56"/><use href="#g" x="584.15" y="635.56"/><use href="#g" x="596.50" y="635.56"/><use href="#g" x="108.67" y="646.52"/><use href="#g" x="121.02" y="646.52"/><use href="#g" x="133.38" y="646.52"/><use href="#g" x="145.73" y="646.52"/><use href="#g" x="158.08" y="646.52"/><use href="#g" x="170.43" y="646.52"/><use href="#g" x="182.78" y="646.52"/><use href="#g" x="195.12" y="646.52"/><use href="#g" x="207.48" y="646.52"/><use href="#g" x="219.82" y="646.52"/><use href="#g" x="232.18" y="646.52"/><use href="#g" x="244.53" y="646.52"/><use href="#g" x="256.88" y="646.52"/><use href="#g" x="269.22" y="646.52"/><use href="#g" x="281.57" y="646.52"/><use href="#g" x="293.93" y="646.52"/><use href="#g" x="306.28" y="646.52"/><use href="#g" x="318.62" y="646.52"/><use href="#g" x="330.97" y="646.52"/><use href="#g" x="343.32" y="646.52"/><use href="#g" x="355.68" y="646.52"/><use href="#g" x="368.02" y="646.52"/><use href="#g" x="380.38" y="646.52"/><use href="#g" x="392.73" y="646.52"/><use href="#g" x="405.07" y="646.52"/><use href="#g" x="417.43" y="646.52"/><use href="#g" x="429.77" y="646.52"/><use href="#g" x="442.12" y="646.52"/><use href="#g" x="454.48" y="646.52"/><use href="#g" x="466.82" y="646.52"/><use href="#g" x="479.18" y="646.52"/><use href="#g" x="491.52" y="646.52"/><use href="#g" x="503.88" y="646.52"/><use href="#g" x="516.23" y="646.52"/><use href="#g" x="528.57" y="646.52"/><use href="#g" x="540.92" y="646.52"/><use href="#g" x="553.27" y="646.52"/><use href="#g" x="565.62" y="646.52"/><use href="#g" x="577.97" y="646.52"/><use href="#g" x="590.32" y="646.52"/><use href="#g" x="602.67" y="646.52"/><use href="#g" x="102.50" y="657.48"/><use href="#g" x="114.85" y="657.48"/><use href="#g" x="127.20" y="657.48"/><use href="#g" x="139.55" y="657.48"/><use href="#g" x="151.90" y="657.48"/><use href="#g" x="164.25" y="657.48"/><use href="#g" x="176.60" y="657.48"/><use href="#g" x="188.95" y="657.48"/><use href="#g" x="201.30" y="657.48"/><use href="#g" x="213.65" y="657.48"/><use href="#g" x="226.00" y="657.48"/><use href="#g" x="238.35" y="657.48"/><use href="#g" x="250.70" y="657.48"/><use href="#g" x="263.05" y="657.48"/><use href="#g" x="275.40" y="657.48"/><use href="#g" x="287.75" y="657.48"/><use href="#g" x="300.10" y="657.48"/><use href="#g" x="312.45" y="657.48"/><use href="#g" x="324.80" y="657.48"/><use href="#g" x="337.15" y="657.48"/><use href="#g" x="349.50" y="657.48"/><use href="#g" x="361.85" y="657.48"/><use href="#g" x="374.20" y="657.48"/><use href="#g" x="386.55" y="657.48"/><use href="#g" x="398.90" y="657.48"/><use href="#g" x="411.25" y="657.48"/><use href="#g" x="423.60" y="657.48"/><use href="#g" x="435.95" y="657.48"/><use href="#g" x="448.30" y="657.48"/><use href="#g" x="460.65" y="657.48"/><use href="#g" x="473.00" y="657.48"/><use href="#g" x="485.35" y="657.48"/><use href="#g" x="497.70" y="657.48"/><use href="#g" x="510.05" y="657.48"/><use href="#g" x="522.40" y="657.48"/><use href="#g" x="534.75" y="657.48"/><use href="#g" x="547.10" y="657.48"/><use href="#g" x="559.45" y="657.48"/><use href="#g" x="571.80" y="657.48"/><use href="#g" x="584.15" y="657.48"/><use href="#g" x="596.50" y="657.48"/></g>
<rect x="232.9" y="236.3" width="233.3" height="337.3" fill="none" stroke="#222" stroke-width="2.5" stroke-dasharray="9.4 4.9" stroke-linecap="round"/>
<path d="M349.50,211.77L355.68,215.43M355.68,215.43L355.68,222.73M343.32,222.73L343.32,215.43M343.32,215.43L349.50,211.77M244.53,222.73L250.70,226.39M238.35,233.69L238.35,226.39M238.35,226.39L244.53,222.73M256.88,222.73L263.05,226.39M250.70,226.39L256.88,222.73M269.22,222.73L275.40,226.39M263.05,226.39L269.22,222.73M281.57,222.73L287.75,226.39M275.40,226.39L281.57,222.73M293.93,222.73L300.10,226.39M287.75,226.39L293.93,222.73M306.28,222.73L312.45,226.39M300.10,226.39L306.28,222.73M318.62,222.73L324.80,226.39M312.45,226.39L318.62,222.73M330.97,222.73L337.15,226.39M324.80,226.39L330.97,222.73M337.15,226.39L343.32,222.73M355.68,222.73L361.85,226.39M368.02,222.73L374.20,226.39M361.85,226.39L368.02,222.73M380.38,222.73L386.55,226.39M374.20,226.39L380.38,222.73M392.73,222.73L398.90,226.39M386.55,226.39L392.73,222.73M405.07,222.73L411.25,226.39M398.90,226.39L405.07,222.73M417.43,222.73L423.60,226.39M411.25,226.39L417.43,222.73M429.77,222.73L435.95,226.39M423.60,226.39L429.77,222.73M442.12,222.73L448.30,226.39M448.30,226.39L448.30,233.69M435.95,226.39L442.12,222.73M232.17,244.65L232.17,237.35M232.17,237.35L238.35,233.69M448.30,233.69L454.48,237.35M460.65,233.69L466.82,237.35M454.47,237.35L460.65,233.69M473.00,233.69L479.18,237.35M479.18,237.35L479.18,244.65M466.82,237.35L473.00,233.69M226.00,255.61L226.00,248.31M226.00,248.31L232.18,244.65M479.18,244.65L485.35,248.31M485.35,248.31L485.35,255.61M226.00,270.23L219.82,266.57M219.82,266.57L219.82,259.27M219.82,259.27L226.00,255.61M485.35,255.61L491.52,259.27M491.52,259.27L491.52,266.57M226.00,277.53L226.00,270.23M491.52,266.57L497.70,270.23M497.70,270.23L497.70,277.53M497.70,277.53L491.52,281.19M219.82,288.49L219.82,281.19M219.82,281.19L226.00,277.53M491.52,281.19L491.52,288.49M213.65,299.45L213.65,292.15M213.65,292.15L219.82,288.49M491.52,288.49L497.70,292.15M497.70,292.15L497.70,299.45M213.65,314.07L207.47,310.41M207.47,310.41L207.47,303.11M207.47,303.11L213.65,299.45M497.70,299.45L503.88,303.11M503.88,303.11L503.88,310.41M503.88,310.41L497.70,314.07M213.65,321.37L213.65,314.07M497.70,314.07L497.70,321.37M207.47,332.33L207.47,325.03M207.47,325.03L213.65,321.37M497.70,321.37L503.88,325.03M503.88,325.03L503.88,332.33M503.88,332.33L497.70,335.99M207.48,346.95L201.30,343.29M201.30,343.29L201.30,335.99M201.30,335.99L207.48,332.33M497.70,335.99L497.70,343.29M207.47,354.25L207.47,346.95M497.70,343.29L503.88,346.95M503.88,346.95L503.88,354.25M207.48,368.87L201.30,365.21M201.30,365.21L201.30,357.91M201.30,357.91L207.48,354.25M503.88,354.25L510.05,357.91M510.05,357.91L510.05,365.21M510.05,365.21L503.88,368.87M207.47,376.17L207.47,368.87M503.88,368.87L503.88,376.17M207.48,390.79L201.30,387.13M201.30,387.13L201.30,379.83M201.30,379.83L207.48,376.17M503.88,376.17L510.05,379.83M510.05,379.83L510.05,387.13M510.05,387.13L503.88,390.79M207.47,398.09L207.47,390.79M503.88,390.79L503.88,398.09M207.48,412.71L201.30,409.05M201.30,409.05L201.30,401.75M201.30,401.75L207.48,398.09M503.88,398.09L510.05,401.75M510.05,401.75L510.05,409.05M510.05,409.05L503.88,412.71M207.47,420.01L207.47,412.71M503.88,412.71L503.88,420.01M207.48,434.63L201.30,430.97M201.30,430.97L201.30,423.67M201.30,423.67L207.48,420.01M503.88,420.01L510.05,423.67M510.05,423.67L510.05,430.97M510.05,430.97L503.88,434.63M207.47,441.93L207.47,434.63M503.88,434.63L503.88,441.93M207.48,456.55L201.30,452.89M201.30,452.89L201.30,445.59M201.30,445.59L207.48,441.93M503.88,441.93L510.05,445.59M510.05,445.59L510.05,452.89M510.05,452.89L503.88,456.55M207.47,463.85L207.47,456.55M503.88,456.55L503.88,463.85M207.48,478.47L201.30,474.81M201.30,474.81L201.30,467.51M201.30,467.51L207.48,463.85M503.88,463.85L510.05,467.51M510.05,467.51L510.05,474.81M510.05,474.81L503.88,478.47M207.47,485.77L207.47,478.47M503.88,478.47L503.88,485.77M503.88,485.77L497.70,489.43M207.48,500.39L201.30,496.73M201.30,496.73L201.30,489.43M201.30,489.43L207.48,485.77M497.70,489.43L497.70,496.73M207.47,507.69L207.47,500.39M497.70,496.73L503.88,500.39M503.88,500.39L503.88,507.69M503.88,507.69L497.70,511.35M207.48,522.31L201.30,518.65M201.30,518.65L201.30,511.35M201.30,511.35L207.48,507.69M497.70,511.35L497.70,518.65M207.47,529.61L207.47,522.31M497.70,518.65L503.88,522.31M503.88,522.31L503.88,529.61M503.88,529.61L497.70,533.27M207.48,544.23L201.30,540.57M201.30,540.57L201.30,533.27M201.30,533.27L207.48,529.61M497.70,533.27L497.70,540.57M497.70,540.57L491.52,544.23M207.47,551.53L207.47,544.23M491.52,544.23L491.52,551.53M491.52,551.53L485.35,555.19M207.48,566.15L201.30,562.49M201.30,562.49L201.30,555.19M201.30,555.19L207.48,551.53M485.35,555.19L485.35,562.49M485.35,562.49L479.18,566.15M219.82,573.45L213.65,577.11M213.65,577.11L207.47,573.45M207.47,573.45L207.47,566.15M226.00,577.11L219.82,573.45M479.18,566.15L479.18,573.45M479.18,573.45L473.00,577.11M232.18,588.07L226.00,584.41M226.00,584.41L226.00,577.11M460.65,584.41L454.48,588.07M473.00,577.11L473.00,584.41M473.00,584.41L466.82,588.07M466.82,588.07L460.65,584.41M244.53,595.37L238.35,599.03M238.35,599.03L232.17,595.37M232.17,595.37L232.17,588.07M256.88,595.37L250.70,599.03M250.70,599.03L244.52,595.37M269.22,595.37L263.05,599.03M263.05,599.03L256.87,595.37M281.57,595.37L275.40,599.03M275.40,599.03L269.22,595.37M293.93,595.37L287.75,599.03M287.75,599.03L281.57,595.37M306.28,595.37L300.10,599.03M300.10,599.03L293.93,595.37M318.62,595.37L312.45,599.03M312.45,599.03L306.27,595.37M330.97,595.37L324.80,599.03M324.80,599.03L318.62,595.37M343.32,595.37L337.15,599.03M337.15,599.03L330.97,595.37M355.68,595.37L349.50,599.03M349.50,599.03L343.32,595.37M368.02,595.37L361.85,599.03M361.85,599.03L355.67,595.37M380.38,595.37L374.20,599.03M374.20,599.03L368.02,595.37M392.73,595.37L386.55,599.03M386.55,599.03L380.38,595.37M405.07,595.37L398.90,599.03M398.90,599.03L392.72,595.37M417.43,595.37L411.25,599.03M411.25,599.03L405.07,595.37M429.77,595.37L423.60,599.03M423.60,599.03L417.42,595.37M442.12,595.37L435.95,599.03M435.95,599.03L429.77,595.37M454.48,588.07L454.48,595.37M454.48,595.37L448.30,599.03M448.30,599.03L442.12,595.37" fill="none" stroke="#fbc40c" stroke-width="3" stroke-linejoin="round" stroke-linecap="round"/>

<circle cx="396.2" cy="212.4" r="19.7" fill="#fff" stroke="#222" stroke-width="2"/>
</svg>
<div style="position:absolute;left:332.5px;top:48.5px;width:143.75px;height:27px;border-radius:13.5px;background:#ececec"></div>
<div style="position:absolute;left:337px;top:51.25px;width:66px;height:21px;border-radius:10.5px;background:#336a8f"></div>
<div style="position:absolute;left:241.2px;top:84.8px;width:17.5px;height:17.7px;border-radius:2.5px;background:#336a8f"></div>
<svg style="position:absolute;left:241.2px;top:84.8px" width="18" height="18"><path d="M4.3 9.3 L7.6 12.6 L13.6 5.4" fill="none" stroke="#fff" stroke-width="2.5" stroke-linecap="round" stroke-linejoin="round"/></svg>
<div class="t" id="ylab" style="left:49.6px;top:412.3px;font-size:13.6px;font-weight:bold;color:#555;transform-origin:50% 50%;transform:translate(-50%,-50%) rotate(-90deg) scaleX(0.955)">plate_z_scaled (±1 = zone edge)</div>
<div style="position:absolute;left:233.75px;top:723.3px;width:189.2px;height:9.6px;border-radius:4.8px;background:linear-gradient(90deg,#2166ac,#f7f7f7 50%,#b2182b);box-shadow:0 0 0 0.8px #d0d0d0"></div>
<div style="position:absolute;left:932.7px;top:90px;width:38px;height:38.3px;border-radius:6px;background:linear-gradient(180deg,#5ed597,#52cb89);box-shadow:inset 0 -2.5px 2px rgba(0,90,50,0.28), inset 2px 0 2px rgba(0,90,50,0.12)"></div>
<svg style="position:absolute;left:932.7px;top:90px" width="38" height="38"><path d="M6.6 19.4 L15.8 27.2 L31.8 12" fill="none" stroke="#f8effc" stroke-width="3.5" stroke-linecap="round" stroke-linejoin="round"/></svg>
<div style="position:absolute;left:847.6px;top:423.6px;width:333.4px;height:17.2px;border-radius:8.6px;background:#e0e0e0"></div>
<div style="position:absolute;left:1013.6px;top:423.6px;width:83.4px;height:17.2px;border-radius:0 8.6px 8.6px 0;background:#2e7d32"></div>
<div style="position:absolute;left:1012.3px;top:422px;width:3px;height:20.6px;background:#555"></div>
<div style="position:absolute;left:847.6px;top:457px;width:333.4px;height:1px;background:#e8e8e8"></div>
<div class="t" id="title" style="left:205.00px;top:23.10px;font-size:17.60px;font-weight:700;color:#3b6e96;transform:scaleX(0.9379)">Select Pitch Location to Evaluate</div>
<div class="t" id="persp" style="left:193.50px;top:56.86px;font-size:12.80px;font-weight:400;color:#999;transform:scaleX(1.0000)">Catcher's Perspective</div>
<div class="t" id="catcher" style="left:346.81px;top:56.47px;font-size:13.50px;font-weight:700;color:#fff;transform:scaleX(0.8769)">Catcher</div>
<div class="t" id="pitcher" style="left:419.52px;top:56.47px;font-size:13.50px;font-weight:700;color:#555;transform:scaleX(0.9076)">Pitcher</div>
<div class="t" id="show" style="left:265.97px;top:86.72px;font-size:13.80px;font-weight:700;color:#4d4d4d;transform:scaleX(0.9448)">Show challenge boundary</div>
<div class="t" id="xlab" style="left:255.22px;top:694.00px;font-size:13.00px;font-weight:700;color:#555;transform:scaleX(1.0282)">plate_x (feet from center)</div>
<div class="t" id="lball" style="left:167.40px;top:723.17px;font-size:12.50px;font-weight:400;color:#666;transform:scaleX(0.9875)">100% Ball</div>
<div class="t" id="lstrike" style="left:434.19px;top:723.17px;font-size:12.50px;font-weight:400;color:#666;transform:scaleX(1.0164)">100% Strike</div>
<div class="t" id="ce" style="left:848.16px;top:22.30px;font-size:17.60px;font-weight:700;color:#3b6e96;transform:scaleX(0.9352)">Challenge Evaluation</div>
<div class="t" id="good" style="left:984.97px;top:91.21px;font-size:37.20px;font-weight:700;color:#2e7d32;transform:scaleX(1.0312)">GOOD</div>
<div class="t" id="chal" style="left:903.05px;top:137.71px;font-size:37.20px;font-weight:700;color:#2e7d32;transform:scaleX(0.9522)">CHALLENGE</div>
<div class="t" id="margin" style="left:960.82px;top:404.78px;font-size:12.90px;font-weight:700;color:#555;transform:scaleX(1.0388)">Margin: <span style="color:#2e7d32">+12.5 pp</span></div>
<div class="t" id="p0" style="left:865.21px;top:190.85px;font-size:14.00px;font-weight:400;color:#5c5c5c;transform:scaleX(1.0630)">This pitch is called a strike <b>30.9%</b> of the time,</div>
<div class="t" id="p1" style="left:849.62px;top:215.52px;font-size:14.00px;font-weight:400;color:#5c5c5c;transform:scaleX(1.0816)">indicating that confidence that this was actually a</div>
<div class="t" id="p2" style="left:856.83px;top:240.19px;font-size:14.00px;font-weight:400;color:#5c5c5c;transform:scaleX(1.0727)">ball is <b>69.1%</b>. The break-even threshold for this</div>
<div class="t" id="p3" style="left:876.41px;top:264.86px;font-size:14.00px;font-weight:400;color:#5c5c5c;transform:scaleX(1.0544)">situation is <b>56.6%</b>, meaning a challenge is</div>
<div class="t" id="p4" style="left:859.00px;top:289.53px;font-size:14.00px;font-weight:400;color:#5c5c5c;transform:scaleX(1.0713)">advisable if you are more than 56.6% certain it</div>
<div class="t" id="p5" style="left:856.26px;top:314.20px;font-size:14.00px;font-weight:400;color:#5c5c5c;transform:scaleX(1.0528)">will be successful. The break-even is <b>lower</b> than</div>
<div class="t" id="p6" style="left:855.21px;top:338.87px;font-size:14.00px;font-weight:400;color:#5c5c5c;transform:scaleX(1.0687)">the confidence score for calls in this location, so</div>
<div class="t" id="p7" style="left:894.40px;top:363.54px;font-size:14.00px;font-weight:400;color:#5c5c5c;transform:scaleX(0.9905)"><b>challenging here is a good decision</b>.</div>
<div class="t" id="sl0" style="left:847.40px;top:472.96px;font-size:13.40px;font-weight:400;color:#7a7a7a;transform:scaleX(1.0105)">Called Strike %:</div>
<div class="t" id="sv0" style="left:1141.80px;top:472.96px;font-size:13.40px;font-weight:700;color:#6a6a6a;transform:scaleX(0.9923)">30.9%</div>
<div class="t" id="sl1" style="left:847.39px;top:493.53px;font-size:13.40px;font-weight:400;color:#7a7a7a;transform:scaleX(1.0493)">Confidence:</div>
<div class="t" id="sv1" style="left:1141.80px;top:493.53px;font-size:13.40px;font-weight:700;color:#6a6a6a;transform:scaleX(0.9923)">69.1%</div>
<div class="t" id="sl2" style="left:847.39px;top:514.10px;font-size:13.40px;font-weight:400;color:#7a7a7a;transform:scaleX(1.0370)">Break-Even:</div>
<div class="t" id="sv2" style="left:1141.80px;top:514.10px;font-size:13.40px;font-weight:700;color:#6a6a6a;transform:scaleX(0.9923)">56.6%</div>
<div class="t" id="sl3" style="left:848.39px;top:534.67px;font-size:13.40px;font-weight:400;color:#7a7a7a;transform:scaleX(0.9893)">Zone Sample:</div>
<div class="t" id="sv3" style="left:1107.40px;top:534.67px;font-size:13.40px;font-weight:700;color:#6a6a6a;transform:scaleX(0.9918)">191 pitches</div>
<div class="t" id="ty1_5" style="left:78.80px;top:146.14px;font-size:12.00px;font-weight:400;color:#999;transform:scaleX(0.9880)">1.5</div>
<div class="t" id="ty1_0" style="left:78.80px;top:230.54px;font-size:12.00px;font-weight:400;color:#999;transform:scaleX(0.9880)">1.0</div>
<div class="t" id="ty0_5" style="left:78.80px;top:315.04px;font-size:12.00px;font-weight:400;color:#999;transform:scaleX(0.9880)">0.5</div>
<div class="t" id="ty0_0" style="left:78.80px;top:399.44px;font-size:12.00px;font-weight:400;color:#999;transform:scaleX(0.9880)">0.0</div>
<div class="t" id="tym0_5" style="left:74.40px;top:483.94px;font-size:12.00px;font-weight:400;color:#999;transform:scaleX(1.0000)">-0.5</div>
<div class="t" id="tym1_0" style="left:74.40px;top:568.34px;font-size:12.00px;font-weight:400;color:#999;transform:scaleX(1.0000)">-1.0</div>
<div class="t" id="tym1_5" style="left:74.40px;top:652.84px;font-size:12.00px;font-weight:400;color:#999;transform:scaleX(1.0000)">-1.5</div>
<div class="t" id="txm1_5" style="left:92.30px;top:668.64px;font-size:12.00px;font-weight:400;color:#999;transform:scaleX(1.0095)">-1.5</div>
<div class="t" id="txm1_0" style="left:174.79px;top:668.64px;font-size:12.00px;font-weight:400;color:#999;transform:scaleX(0.9636)">-1.0</div>
<div class="t" id="txm0_5" style="left:256.30px;top:668.64px;font-size:12.00px;font-weight:400;color:#999;transform:scaleX(1.0095)">-0.5</div>
<div class="t" id="tx0_0" style="left:341.20px;top:668.64px;font-size:12.00px;font-weight:400;color:#999;transform:scaleX(0.9882)">0.0</div>
<div class="t" id="tx0_5" style="left:423.70px;top:668.64px;font-size:12.00px;font-weight:400;color:#999;transform:scaleX(0.9882)">0.5</div>
<div class="t" id="tx1_0" style="left:505.20px;top:668.64px;font-size:12.00px;font-weight:400;color:#999;transform:scaleX(0.9882)">1.0</div>
<div class="t" id="tx1_5" style="left:587.70px;top:668.64px;font-size:12.00px;font-weight:400;color:#999;transform:scaleX(0.9882)">1.5</div>
</body></html>
